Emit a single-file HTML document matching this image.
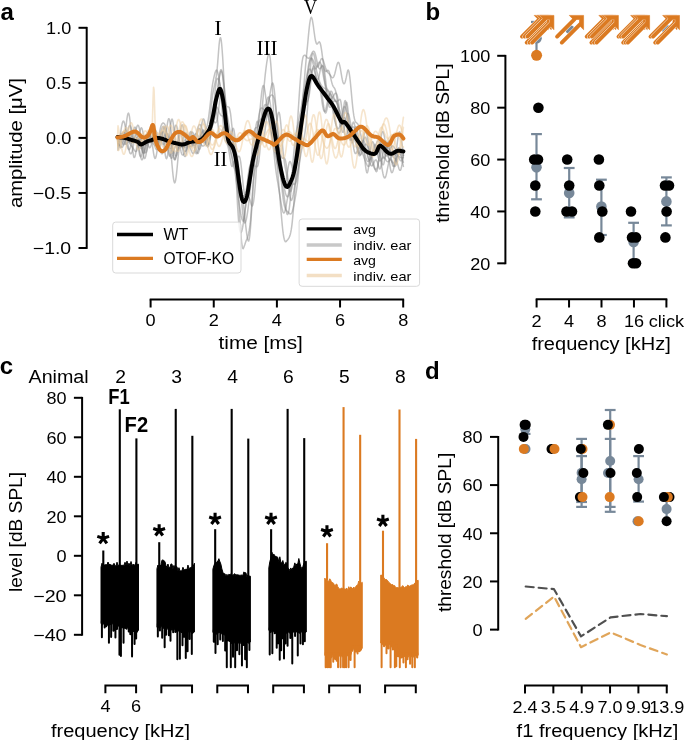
<!DOCTYPE html>
<html><head><meta charset="utf-8"><style>html,body{margin:0;padding:0;background:#fff;overflow:hidden;width:685px;height:740px;} svg{display:block;will-change:transform;filter:blur(0.35px);}</style></head>
<body><svg width="685" height="740" viewBox="0 0 685 740">
<rect width="685" height="740" fill="#fff"/>
<text x="0.5" y="20.0" font-size="24" font-family="'Liberation Sans', sans-serif" font-weight="bold" text-anchor="start" fill="#000">a</text>
<line x1="86.70" y1="26.90" x2="86.70" y2="248.90" stroke="#000" stroke-width="2.0"/>
<line x1="78.50" y1="27.80" x2="86.70" y2="27.80" stroke="#000" stroke-width="2.0"/>
<text x="71.2" y="34.0" font-size="16.5" font-family="'Liberation Sans', sans-serif" font-weight="normal" text-anchor="end" fill="#000" textLength="25.1" lengthAdjust="spacingAndGlyphs">1.0</text>
<line x1="78.50" y1="82.85" x2="86.70" y2="82.85" stroke="#000" stroke-width="2.0"/>
<text x="71.2" y="89.1" font-size="16.5" font-family="'Liberation Sans', sans-serif" font-weight="normal" text-anchor="end" fill="#000" textLength="25.1" lengthAdjust="spacingAndGlyphs">0.5</text>
<line x1="78.50" y1="137.90" x2="86.70" y2="137.90" stroke="#000" stroke-width="2.0"/>
<text x="71.2" y="144.1" font-size="16.5" font-family="'Liberation Sans', sans-serif" font-weight="normal" text-anchor="end" fill="#000" textLength="25.1" lengthAdjust="spacingAndGlyphs">0.0</text>
<line x1="78.50" y1="192.95" x2="86.70" y2="192.95" stroke="#000" stroke-width="2.0"/>
<text x="71.2" y="199.1" font-size="16.5" font-family="'Liberation Sans', sans-serif" font-weight="normal" text-anchor="end" fill="#000" textLength="38.4" lengthAdjust="spacingAndGlyphs">−0.5</text>
<line x1="78.50" y1="248.00" x2="86.70" y2="248.00" stroke="#000" stroke-width="2.0"/>
<text x="71.2" y="254.2" font-size="16.5" font-family="'Liberation Sans', sans-serif" font-weight="normal" text-anchor="end" fill="#000" textLength="38.4" lengthAdjust="spacingAndGlyphs">−1.0</text>
<text x="22.5" y="143.1" font-size="18.0" font-family="'Liberation Sans', sans-serif" font-weight="normal" text-anchor="middle" fill="#000" textLength="130.0" lengthAdjust="spacingAndGlyphs" transform="rotate(-90 22.5 143.1)">amplitude [μV]</text>
<line x1="149.70" y1="299.40" x2="404.10" y2="299.40" stroke="#000" stroke-width="2.0"/>
<line x1="150.60" y1="299.40" x2="150.60" y2="307.50" stroke="#000" stroke-width="2.0"/>
<text x="150.6" y="326.3" font-size="16.5" font-family="'Liberation Sans', sans-serif" font-weight="normal" text-anchor="middle" fill="#000" textLength="10.1" lengthAdjust="spacingAndGlyphs">0</text>
<line x1="213.75" y1="299.40" x2="213.75" y2="307.50" stroke="#000" stroke-width="2.0"/>
<text x="213.8" y="326.3" font-size="16.5" font-family="'Liberation Sans', sans-serif" font-weight="normal" text-anchor="middle" fill="#000" textLength="10.1" lengthAdjust="spacingAndGlyphs">2</text>
<line x1="276.90" y1="299.40" x2="276.90" y2="307.50" stroke="#000" stroke-width="2.0"/>
<text x="276.9" y="326.3" font-size="16.5" font-family="'Liberation Sans', sans-serif" font-weight="normal" text-anchor="middle" fill="#000" textLength="10.1" lengthAdjust="spacingAndGlyphs">4</text>
<line x1="340.05" y1="299.40" x2="340.05" y2="307.50" stroke="#000" stroke-width="2.0"/>
<text x="340.0" y="326.3" font-size="16.5" font-family="'Liberation Sans', sans-serif" font-weight="normal" text-anchor="middle" fill="#000" textLength="10.1" lengthAdjust="spacingAndGlyphs">6</text>
<line x1="403.20" y1="299.40" x2="403.20" y2="307.50" stroke="#000" stroke-width="2.0"/>
<text x="403.2" y="326.3" font-size="16.5" font-family="'Liberation Sans', sans-serif" font-weight="normal" text-anchor="middle" fill="#000" textLength="10.1" lengthAdjust="spacingAndGlyphs">8</text>
<text x="260.7" y="349.0" font-size="18.0" font-family="'Liberation Sans', sans-serif" font-weight="normal" text-anchor="middle" fill="#000" textLength="84.4" lengthAdjust="spacingAndGlyphs">time [ms]</text>
<g>
<polyline points="117.50,137.50 118.00,144.72 118.50,145.58 119.00,145.82 119.50,145.45 120.00,144.57 120.50,143.30 121.00,141.79 121.51,140.21 122.01,138.70 122.51,137.36 123.01,136.27 123.51,135.44 124.01,134.86 124.51,134.49 125.01,134.26 125.51,134.15 126.01,134.08 126.51,134.07 127.01,134.11 127.51,134.23 128.01,134.47 128.52,134.86 129.02,135.44 129.52,136.22 130.02,137.17 130.52,138.23 131.02,139.35 131.52,140.40 132.02,141.29 132.52,141.91 133.02,142.20 133.52,142.12 134.02,141.70 134.52,141.00 135.02,140.12 135.53,139.22 136.03,138.46 136.53,137.96 137.03,137.86 137.53,138.23 138.03,139.06 138.53,140.41 139.03,142.17 139.53,144.28 140.03,146.35 140.53,147.80 141.03,148.63 141.53,148.78 142.03,148.36 142.54,147.38 143.04,145.98 143.54,144.34 144.04,142.66 144.54,141.16 145.04,140.04 145.54,139.44 146.04,139.43 146.54,140.05 147.04,141.17 147.54,142.67 148.04,144.30 148.54,145.83 149.04,147.02 149.54,147.68 150.05,147.68 150.55,146.97 151.05,145.61 151.55,143.72 152.05,141.50 152.55,139.18 153.05,137.02 153.55,135.26 154.05,134.08 154.55,133.58 155.05,133.79 155.55,134.64 156.05,135.93 156.55,137.50 157.06,139.04 157.56,140.37 158.06,141.22 158.56,141.49 159.06,141.10 159.56,140.12 160.06,138.66 160.56,136.92 161.06,135.12 161.56,133.50 162.06,132.26 162.56,131.55 163.06,131.46 163.56,131.97 164.07,133.00 164.57,134.39 165.07,135.95 165.57,137.45 166.07,138.72 166.57,139.61 167.07,140.06 167.57,140.09 168.07,139.84 168.57,139.46 169.07,139.18 169.57,139.22 170.07,139.78 170.57,140.97 171.07,142.84 171.58,145.32 172.08,148.24 172.58,151.37 173.08,154.38 173.58,156.94 174.08,158.75 174.58,159.54 175.08,159.16 175.58,157.59 176.08,154.90 176.58,151.31 177.08,147.13 177.58,142.74 178.08,138.53 178.59,134.88 179.09,132.13 179.59,130.45 180.09,129.98 180.59,130.66 181.09,132.34 181.59,134.79 182.09,137.65 182.59,140.62 183.09,143.37 183.59,145.59 184.09,147.16 184.59,147.93 185.09,147.96 185.60,147.35 186.10,146.24 186.60,144.88 187.10,143.45 187.60,142.15 188.10,141.12 188.60,140.43 189.10,140.08 189.60,140.03 190.10,140.14 190.60,140.32 191.10,140.42 191.60,140.36 192.10,140.09 192.61,139.62 193.11,139.05 193.61,138.48 194.11,138.05 194.61,137.92 195.11,138.20 195.61,138.96 196.11,140.20 196.61,141.83 197.11,143.71 197.61,145.64 198.11,147.40 198.61,148.73 199.11,149.44 199.61,149.39 200.12,148.56 200.62,147.05 201.12,144.94 201.62,142.42 202.12,139.75 202.62,137.18 203.12,135.00 203.62,133.39 204.12,132.47 204.62,132.28 205.12,132.70 205.62,133.54 206.12,134.51 206.62,135.32 207.13,135.66 207.63,135.34 208.13,134.19 208.63,132.05 209.13,128.85 209.63,124.65 210.13,119.64 210.63,114.17 211.13,108.62 211.63,103.39 212.13,98.78 212.63,94.97 213.13,91.96 213.63,89.37 214.14,86.94 214.64,84.62 215.14,82.34 215.64,79.97 216.14,77.24 216.64,73.69 217.14,69.03 217.64,63.40 218.14,57.04 218.64,50.35 219.14,44.22 219.64,40.17 220.14,37.90 220.64,37.76 221.15,39.87 221.65,44.07 222.15,49.99 222.65,57.03 223.15,65.36 223.65,74.90 224.15,85.09 224.65,95.03 225.15,104.76 225.65,114.44 226.15,123.09 226.65,129.97 227.15,136.54 227.65,141.67 228.15,144.37 228.66,145.89 229.16,146.99 229.66,148.03 230.16,149.58 230.66,151.60 231.16,154.01 231.66,156.62 232.16,159.25 232.66,161.83 233.16,164.10 233.66,166.03 234.16,167.48 234.66,168.65 235.16,169.79 235.67,171.14 236.17,173.02 236.67,175.95 237.17,180.19 237.67,185.67 238.17,192.19 238.67,199.43 239.17,207.03 239.67,215.02 240.17,223.17 240.67,230.90 241.17,237.47 241.67,242.57 242.17,246.18 242.68,248.27 243.18,248.75 243.68,247.77 244.18,246.23 244.68,244.98 245.18,243.46 245.68,241.96 246.18,240.64 246.68,239.53 247.18,238.47 247.68,237.13 248.18,235.37 248.68,233.16 249.18,230.48 249.68,227.29 250.19,223.46 250.69,218.54 251.19,212.33 251.69,205.15 252.19,197.40 252.69,189.49 253.19,181.76 253.69,174.50 254.19,167.93 254.69,162.22 255.19,157.38 255.69,153.44 256.19,150.32 256.69,147.79 257.20,145.67 257.70,143.71 258.20,141.70 258.70,139.41 259.20,136.65 259.70,133.30 260.20,129.31 260.70,124.72 261.20,119.59 261.70,114.13 262.20,108.38 262.70,102.49 263.20,96.50 263.70,90.61 264.21,84.97 264.71,79.71 265.21,74.92 265.71,70.59 266.21,66.63 266.71,63.00 267.21,59.80 267.71,57.13 268.21,55.17 268.71,54.02 269.21,54.05 269.71,55.63 270.21,58.70 270.71,63.44 271.22,69.70 271.72,77.26 272.22,85.81 272.72,95.17 273.22,104.79 273.72,114.29 274.22,123.50 274.72,132.11 275.22,140.02 275.72,147.10 276.22,153.59 276.72,159.66 277.22,165.62 277.72,171.50 278.22,177.39 278.73,183.40 279.23,189.47 279.73,195.49 280.23,201.58 280.73,207.69 281.23,213.69 281.73,219.47 282.23,224.87 282.73,229.71 283.23,233.70 283.73,236.86 284.23,239.19 284.73,240.72 285.23,241.55 285.74,241.74 286.24,241.43 286.74,240.81 287.24,240.21 287.74,239.67 288.24,239.01 288.74,238.25 289.24,237.33 289.74,236.12 290.24,234.50 290.74,232.41 291.24,229.71 291.74,226.31 292.24,222.09 292.75,217.02 293.25,211.13 293.75,204.54 294.25,197.47 294.75,190.16 295.25,182.85 295.75,175.77 296.25,169.11 296.75,163.00 297.25,157.35 297.75,152.00 298.25,146.83 298.75,141.73 299.25,136.64 299.75,131.49 300.26,126.23 300.76,120.87 301.26,115.36 301.76,109.67 302.26,103.90 302.76,98.17 303.26,92.54 303.76,86.84 304.26,80.99 304.76,75.10 305.26,69.30 305.76,63.63 306.26,58.24 306.76,53.18 307.27,48.08 307.77,42.82 308.27,37.32 308.77,32.08 309.27,27.30 309.77,23.16 310.27,20.08 310.77,18.18 311.27,17.25 311.77,17.98 312.27,19.46 312.77,22.26 313.27,25.46 313.77,29.26 314.28,32.98 314.78,36.51 315.28,39.51 315.78,41.79 316.28,43.27 316.78,44.00 317.28,43.92 317.78,43.44 318.28,42.72 318.78,42.08 319.28,41.87 319.78,42.29 320.28,43.49 320.78,45.50 321.29,48.27 321.79,51.64 322.29,55.37 322.79,59.18 323.29,62.78 323.79,65.94 324.29,68.44 324.79,70.19 325.29,71.19 325.79,71.52 326.29,71.36 326.79,70.93 327.29,70.47 327.79,70.23 328.29,70.36 328.80,71.02 329.30,72.24 329.80,73.94 330.30,76.02 330.80,78.29 331.30,80.54 331.80,82.61 332.30,84.31 332.80,85.66 333.30,86.57 333.80,87.30 334.30,87.94 334.80,88.69 335.30,89.92 335.81,91.72 336.31,94.26 336.81,97.63 337.31,101.73 337.81,106.38 338.31,111.29 338.81,116.14 339.31,120.46 339.81,123.93 340.31,126.27 340.81,127.08 341.31,126.54 341.81,124.39 342.31,121.03 342.82,116.53 343.32,111.27 343.82,106.39 344.32,102.76 344.82,100.84 345.32,100.56 345.82,101.90 346.32,104.70 346.82,108.67 347.32,113.37 347.82,118.37 348.32,123.12 348.82,127.17 349.32,130.16 349.83,131.87 350.33,132.25 350.83,131.42 351.33,129.67 351.83,127.40 352.33,125.08 352.83,123.18 353.33,122.13 353.83,122.24 354.33,123.64 354.83,126.31 355.33,130.06 355.83,134.55 356.33,139.35 356.83,143.98 357.34,148.00 357.84,151.04 358.34,152.89 358.84,153.48 359.34,152.88 359.84,151.40 360.34,149.37 360.84,147.22 361.34,145.41 361.84,144.34 362.34,144.30 362.84,145.53 363.34,147.90 363.84,151.38 364.35,155.60 364.85,160.11 365.35,164.55 365.85,168.35 366.35,171.13 366.85,172.65 367.35,172.68 367.85,171.25 368.35,168.52 368.85,164.77 369.35,160.34 369.85,155.72 370.35,151.33 370.85,147.47 371.36,144.50 371.86,142.58 372.36,141.70 372.86,141.78 373.36,142.70 373.86,144.17 374.36,145.87 374.86,147.68 375.36,149.10 375.86,150.18 376.36,150.64 376.86,150.63 377.36,150.10 377.86,149.55 378.36,149.21 378.87,149.59 379.37,150.73 379.87,152.51 380.37,154.94 380.87,157.56 381.37,160.14 381.87,162.44 382.37,164.03 382.87,164.87 383.37,164.69 383.87,163.47 384.37,161.32 384.87,158.40 385.37,154.98 385.88,151.40 386.38,148.03 386.88,145.13 387.38,143.12 387.88,142.07 388.38,142.20 388.88,143.49 389.38,145.78 389.88,148.83 390.38,152.33 390.88,155.94 391.38,159.38 391.88,162.37 392.38,164.63 392.89,166.07 393.39,166.62 393.89,166.34 394.39,165.35 394.89,163.83 395.39,161.96 395.89,159.94 396.39,157.93 396.89,156.08 397.39,154.45 397.89,153.12 398.39,152.05 398.89,151.20 399.39,150.53 399.90,149.97 400.40,149.53 400.90,149.18 401.40,148.96 401.90,148.89 402.40,149.03 402.90,149.39 403.40,150.00" fill="none" stroke="#888888" stroke-width="1.5" stroke-opacity="0.5" stroke-linejoin="round" stroke-linecap="round"/>
<polyline points="117.50,137.50 118.00,139.29 118.50,142.31 119.00,144.84 119.50,146.70 120.00,147.72 120.50,147.83 121.00,147.06 121.51,145.49 122.01,143.31 122.51,140.72 123.01,138.00 123.51,135.40 124.01,133.15 124.51,131.46 125.01,130.44 125.51,130.17 126.01,130.61 126.51,131.68 127.01,133.24 127.51,135.13 128.01,137.15 128.52,139.14 129.02,140.97 129.52,142.54 130.02,143.81 130.52,144.80 131.02,145.58 131.52,146.23 132.02,146.82 132.52,147.46 133.02,148.16 133.52,148.94 134.02,149.74 134.52,150.46 135.02,151.07 135.53,151.44 136.03,151.53 136.53,151.03 137.03,149.53 137.53,147.19 138.03,144.17 138.53,140.81 139.03,137.32 139.53,134.03 140.03,131.20 140.53,129.11 141.03,127.94 141.53,127.79 142.03,128.65 142.54,130.41 143.04,132.88 143.54,135.75 144.04,138.71 144.54,141.41 145.04,143.54 145.54,144.88 146.04,145.30 146.54,144.79 147.04,143.47 147.54,141.54 148.04,139.29 148.54,137.09 149.04,135.22 149.54,134.02 150.05,133.72 150.55,134.43 151.05,136.16 151.55,138.81 152.05,142.16 152.55,145.87 153.05,149.65 153.55,153.07 154.05,155.87 154.55,157.71 155.05,158.48 155.55,158.07 156.05,156.56 156.55,154.08 157.06,150.85 157.56,147.13 158.06,143.19 158.56,139.29 159.06,135.63 159.56,132.39 160.06,129.65 160.56,127.45 161.06,125.78 161.56,124.57 162.06,123.75 162.56,123.25 163.06,123.02 163.56,123.06 164.07,123.38 164.57,124.05 165.07,125.14 165.57,126.71 166.07,128.82 166.57,131.47 167.07,134.62 167.57,138.16 168.07,141.95 168.57,145.77 169.07,149.43 169.57,152.67 170.07,155.32 170.57,157.19 171.07,158.21 171.58,158.34 172.08,157.67 172.58,156.29 173.08,154.42 173.58,152.28 174.08,150.09 174.58,148.07 175.08,146.41 175.58,145.23 176.08,144.59 176.58,144.50 177.08,144.85 177.58,145.51 178.08,146.35 178.59,147.14 179.09,147.74 179.59,148.03 180.09,147.83 180.59,147.19 181.09,146.05 181.59,144.52 182.09,142.70 182.59,140.71 183.09,138.73 183.59,136.87 184.09,135.28 184.59,134.07 185.09,133.27 185.60,132.93 186.10,133.03 186.60,133.52 187.10,134.35 187.60,135.40 188.10,136.60 188.60,137.87 189.10,139.13 189.60,140.33 190.10,141.41 190.60,142.38 191.10,143.20 191.60,143.87 192.10,144.40 192.61,144.79 193.11,145.05 193.61,145.18 194.11,145.19 194.61,145.08 195.11,144.84 195.61,144.46 196.11,143.94 196.61,143.30 197.11,142.59 197.61,141.79 198.11,140.89 198.61,139.91 199.11,138.84 199.61,137.74 200.12,136.62 200.62,135.52 201.12,134.48 201.62,133.54 202.12,132.71 202.62,132.00 203.12,131.42 203.62,130.97 204.12,130.65 204.62,130.44 205.12,130.19 205.62,129.73 206.12,128.90 206.62,127.58 207.13,125.72 207.63,123.33 208.13,120.44 208.63,117.12 209.13,113.44 209.63,109.46 210.13,105.08 210.63,100.35 211.13,95.61 211.63,91.16 212.13,87.25 212.63,83.97 213.13,81.13 213.63,78.57 214.14,76.31 214.64,74.32 215.14,72.58 215.64,71.12 216.14,70.25 216.64,70.10 217.14,70.71 217.64,72.04 218.14,73.97 218.64,76.31 219.14,78.97 219.64,82.57 220.14,86.99 220.64,92.13 221.15,97.57 221.65,103.54 222.15,110.29 222.65,117.02 223.15,123.01 223.65,129.23 224.15,134.54 224.65,137.84 225.15,139.95 225.65,141.33 226.15,142.22 226.65,143.15 227.15,144.23 227.65,145.60 228.15,147.35 228.66,149.55 229.16,152.29 229.66,155.41 230.16,158.74 230.66,161.87 231.16,164.46 231.66,166.16 232.16,166.58 232.66,165.69 233.16,163.97 233.66,162.20 234.16,161.25 234.66,162.04 235.16,165.19 235.67,170.80 236.17,178.74 236.67,188.30 237.17,198.26 237.67,207.45 238.17,215.25 238.67,221.59 239.17,226.47 239.67,229.87 240.17,231.88 240.67,232.70 241.17,232.51 241.67,231.45 242.17,229.63 242.68,227.17 243.18,224.21 243.68,220.83 244.18,217.07 244.68,213.18 245.18,209.45 245.68,206.10 246.18,203.30 246.68,200.95 247.18,198.61 247.68,195.90 248.18,192.76 248.68,189.12 249.18,184.92 249.68,180.12 250.19,174.71 250.69,168.76 251.19,162.44 251.69,155.97 252.19,149.66 252.69,143.84 253.19,138.71 253.69,134.54 254.19,131.42 254.69,129.36 255.19,128.24 255.69,127.80 256.19,127.73 256.69,127.66 257.20,127.25 257.70,126.18 258.20,124.29 258.70,121.41 259.20,117.56 259.70,112.84 260.20,107.56 260.70,102.12 261.20,96.93 261.70,92.43 262.20,88.93 262.70,86.60 263.20,85.54 263.70,85.78 264.21,87.26 264.71,89.79 265.21,93.11 265.71,96.79 266.21,100.62 266.71,104.55 267.21,108.48 267.71,112.24 268.21,115.69 268.71,118.81 269.21,121.76 269.71,124.50 270.21,127.09 270.71,129.76 271.22,132.57 271.72,135.64 272.22,138.97 272.72,142.66 273.22,146.73 273.72,151.17 274.22,155.79 274.72,160.40 275.22,164.89 275.72,169.07 276.22,172.82 276.72,176.25 277.22,179.42 277.72,182.42 278.22,185.37 278.73,188.36 279.23,191.45 279.73,194.55 280.23,197.72 280.73,200.90 281.23,203.99 281.73,206.85 282.23,209.31 282.73,211.22 283.23,212.48 283.73,213.02 284.23,212.78 284.73,211.77 285.23,210.11 285.74,207.91 286.24,205.31 286.74,202.48 287.24,199.69 287.74,197.10 288.24,194.70 288.74,192.51 289.24,190.49 289.74,188.59 290.24,186.75 290.74,184.90 291.24,182.97 291.74,180.87 292.24,178.54 292.75,175.90 293.25,172.89 293.75,169.37 294.25,165.20 294.75,160.30 295.25,154.68 295.75,148.40 296.25,141.54 296.75,134.21 297.25,126.55 297.75,118.67 298.25,110.66 298.75,102.74 299.25,95.10 299.75,87.91 300.26,81.16 300.76,74.89 301.26,69.30 301.76,64.56 302.26,60.77 302.76,58.09 303.26,56.50 303.76,55.66 304.26,55.30 304.76,55.17 305.26,55.39 305.76,55.84 306.26,56.36 306.76,57.03 307.27,57.67 307.77,57.98 308.27,58.40 308.77,58.25 309.27,58.10 309.77,57.42 310.27,56.65 310.77,55.58 311.27,54.47 311.77,53.39 312.27,52.41 312.77,51.68 313.27,51.31 313.77,51.24 314.28,51.70 314.78,52.64 315.28,54.02 315.78,55.85 316.28,57.99 316.78,60.29 317.28,62.60 317.78,64.72 318.28,66.51 318.78,67.84 319.28,68.63 319.78,68.88 320.28,68.63 320.78,68.02 321.29,67.21 321.79,66.42 322.29,65.90 322.79,65.86 323.29,66.49 323.79,67.92 324.29,70.22 324.79,73.33 325.29,77.17 325.79,81.56 326.29,86.25 326.79,90.98 327.29,95.46 327.79,99.43 328.29,102.71 328.80,105.12 329.30,106.67 329.80,107.32 330.30,107.29 330.80,106.67 331.30,105.63 331.80,104.49 332.30,103.34 332.80,102.34 333.30,101.63 333.80,101.21 334.30,101.05 334.80,101.09 335.30,101.25 335.81,101.40 336.31,101.45 336.81,101.43 337.31,101.15 337.81,100.88 338.31,100.41 338.81,100.05 339.31,99.65 339.81,99.29 340.31,99.73 340.81,101.48 341.31,104.58 341.81,108.62 342.31,113.30 342.82,118.27 343.32,123.19 343.82,127.68 344.32,131.48 344.82,134.29 345.32,135.98 345.82,136.50 346.32,135.92 346.82,134.45 347.32,132.37 347.82,130.01 348.32,127.74 348.82,125.92 349.32,124.85 349.83,124.74 350.33,125.71 350.83,127.71 351.33,130.61 351.83,134.18 352.33,138.11 352.83,142.09 353.33,145.78 353.83,148.93 354.33,151.32 354.83,152.88 355.33,153.61 355.83,153.57 356.33,152.96 356.83,151.93 357.34,150.69 357.84,149.47 358.34,148.44 358.84,147.74 359.34,147.51 359.84,147.63 360.34,148.21 360.84,149.13 361.34,150.24 361.84,151.59 362.34,152.96 362.84,154.35 363.34,155.75 363.84,157.09 364.35,158.39 364.85,159.70 365.35,160.99 365.85,162.21 366.35,163.42 366.85,164.55 367.35,165.44 367.85,166.10 368.35,166.43 368.85,166.31 369.35,165.67 369.85,164.59 370.35,163.01 370.85,161.00 371.36,158.80 371.86,156.25 372.36,153.74 372.86,151.17 373.36,148.83 373.86,146.67 374.36,145.15 374.86,144.38 375.36,144.76 375.86,146.10 376.36,148.12 376.86,150.71 377.36,153.36 377.86,155.83 378.36,157.97 378.87,159.49 379.37,160.52 379.87,160.92 380.37,160.79 380.87,160.30 381.37,159.55 381.87,158.73 382.37,157.99 382.87,157.47 383.37,157.15 383.87,157.22 384.37,157.51 384.87,158.12 385.37,158.92 385.88,159.80 386.38,160.62 386.88,161.27 387.38,161.64 387.88,161.73 388.38,161.54 388.88,161.00 389.38,160.25 389.88,159.29 390.38,158.27 390.88,157.26 391.38,156.35 391.88,155.57 392.38,154.97 392.89,154.54 393.39,154.27 393.89,154.12 394.39,154.05 394.89,153.99 395.39,153.88 395.89,153.68 396.39,153.37 396.89,153.01 397.39,152.61 397.89,152.29 398.39,152.10 398.89,152.14 399.39,152.50 399.90,153.22 400.40,154.23 400.90,155.66 401.40,157.48 401.90,159.59 402.40,161.89 402.90,164.20 403.40,166.37" fill="none" stroke="#888888" stroke-width="1.5" stroke-opacity="0.5" stroke-linejoin="round" stroke-linecap="round"/>
<polyline points="117.50,137.50 118.00,143.05 118.50,142.78 119.00,142.12 119.50,141.16 120.00,139.90 120.50,138.45 121.00,136.92 121.51,135.43 122.01,134.10 122.51,133.03 123.01,132.32 123.51,132.01 124.01,132.12 124.51,132.64 125.01,133.49 125.51,134.62 126.01,135.93 126.51,137.30 127.01,138.65 127.51,139.87 128.01,140.91 128.52,141.72 129.02,142.29 129.52,142.61 130.02,142.73 130.52,142.67 131.02,142.50 131.52,142.28 132.02,142.03 132.52,141.79 133.02,141.59 133.52,141.40 134.02,141.21 134.52,140.98 135.02,140.67 135.53,140.24 136.03,139.69 136.53,139.00 137.03,138.20 137.53,137.36 138.03,136.54 138.53,135.84 139.03,135.36 139.53,135.20 140.03,135.54 140.53,136.46 141.03,138.06 141.53,140.12 142.03,142.19 142.54,144.30 143.04,146.38 143.54,148.41 144.04,150.18 144.54,151.60 145.04,152.50 145.54,152.81 146.04,152.47 146.54,151.48 147.04,149.91 147.54,147.83 148.04,145.43 148.54,142.84 149.04,140.28 149.54,137.87 150.05,135.80 150.55,134.18 151.05,133.09 151.55,132.56 152.05,132.58 152.55,133.10 153.05,134.02 153.55,135.24 154.05,136.60 154.55,138.00 155.05,139.33 155.55,140.50 156.05,141.47 156.55,142.21 157.06,142.71 157.56,142.97 158.06,143.06 158.56,142.96 159.06,142.76 159.56,142.42 160.06,142.01 160.56,141.50 161.06,140.93 161.56,140.28 162.06,139.56 162.56,138.77 163.06,137.93 163.56,137.07 164.07,136.22 164.57,135.43 165.07,134.79 165.57,134.35 166.07,134.18 166.57,134.32 167.07,134.78 167.57,135.57 168.07,136.63 168.57,137.92 169.07,139.35 169.57,140.83 170.07,142.25 170.57,143.52 171.07,144.54 171.58,145.27 172.08,145.64 172.58,145.67 173.08,145.38 173.58,144.85 174.08,144.16 174.58,143.42 175.08,142.74 175.58,142.22 176.08,141.92 176.58,141.91 177.08,142.19 177.58,142.73 178.08,143.46 178.59,144.31 179.09,145.16 179.59,145.89 180.09,146.41 180.59,146.65 181.09,146.55 181.59,146.11 182.09,145.37 182.59,144.40 183.09,143.32 183.59,142.20 184.09,141.21 184.59,140.45 185.09,139.97 185.60,139.88 186.10,140.14 186.60,140.77 187.10,141.67 187.60,142.75 188.10,143.90 188.60,144.96 189.10,145.84 189.60,146.42 190.10,146.64 190.60,146.47 191.10,145.93 191.60,145.05 192.10,143.96 192.61,142.73 193.11,141.51 193.61,140.40 194.11,139.51 194.61,138.92 195.11,138.67 195.61,138.77 196.11,139.17 196.61,139.80 197.11,140.58 197.61,141.38 198.11,142.10 198.61,142.64 199.11,142.93 199.61,142.92 200.12,142.62 200.62,142.04 201.12,141.21 201.62,140.24 202.12,139.23 202.62,138.25 203.12,137.36 203.62,136.59 204.12,135.97 204.62,135.49 205.12,135.15 205.62,134.91 206.12,134.72 206.62,134.53 207.13,134.27 207.63,133.89 208.13,133.36 208.63,132.68 209.13,131.90 209.63,131.04 210.13,130.07 210.63,128.93 211.13,127.55 211.63,125.92 212.13,124.07 212.63,122.04 213.13,119.86 213.63,117.55 214.14,115.10 214.64,112.42 215.14,109.29 215.64,105.64 216.14,101.66 216.64,97.59 217.14,93.60 217.64,89.78 218.14,86.02 218.64,82.25 219.14,78.78 219.64,75.93 220.14,73.54 220.64,71.76 221.15,70.93 221.65,71.25 222.15,72.70 222.65,75.18 223.15,78.45 223.65,82.23 224.15,86.16 224.65,90.50 225.15,95.37 225.65,100.63 226.15,105.88 226.65,111.36 227.15,117.31 227.65,123.13 228.15,128.31 228.66,133.76 229.16,138.55 229.66,141.80 230.16,144.18 230.66,146.00 231.16,147.37 231.66,148.56 232.16,149.53 232.66,150.27 233.16,150.77 233.66,151.06 234.16,151.29 234.66,151.46 235.16,151.72 235.67,152.09 236.17,152.78 236.67,153.96 237.17,155.74 237.67,158.25 238.17,161.72 238.67,166.17 239.17,171.42 239.67,177.25 240.17,183.36 240.67,189.49 241.17,195.69 241.67,201.86 242.17,207.66 242.68,212.68 243.18,216.74 243.68,219.88 244.18,222.01 244.68,222.96 245.18,222.83 245.68,221.78 246.18,219.98 246.68,217.58 247.18,214.69 247.68,211.39 248.18,207.76 248.68,203.74 249.18,199.29 249.68,194.47 250.19,189.46 250.69,184.37 251.19,179.30 251.69,174.21 252.19,168.83 252.69,163.01 253.19,156.86 253.69,150.56 254.19,144.31 254.69,138.34 255.19,132.89 255.69,128.26 256.19,124.69 256.69,122.34 257.20,121.29 257.70,121.48 258.20,122.64 258.70,124.47 259.20,126.56 259.70,128.53 260.20,130.03 260.70,130.81 261.20,130.73 261.70,129.76 262.20,128.01 262.70,125.61 263.20,122.80 263.70,119.77 264.21,116.72 264.71,113.82 265.21,111.25 265.71,109.17 266.21,107.67 266.71,106.83 267.21,106.60 267.71,106.88 268.21,107.56 268.71,108.55 269.21,109.62 269.71,110.63 270.21,111.64 270.71,112.51 271.22,113.26 271.72,114.05 272.22,114.95 272.72,116.00 273.22,117.21 273.72,118.62 274.22,120.33 274.72,122.29 275.22,124.52 275.72,127.08 276.22,129.93 276.72,133.06 277.22,136.42 277.72,140.04 278.22,143.90 278.73,148.01 279.23,152.24 279.73,156.49 280.23,160.69 280.73,164.73 281.23,168.52 281.73,172.11 282.23,175.52 282.73,178.76 283.23,181.84 283.73,184.77 284.23,187.52 284.73,189.98 285.23,192.15 285.74,193.97 286.24,195.41 286.74,196.41 287.24,196.84 287.74,196.69 288.24,196.06 288.74,195.00 289.24,193.57 289.74,191.88 290.24,190.11 290.74,188.38 291.24,186.82 291.74,185.53 292.24,184.62 292.75,184.12 293.25,183.96 293.75,184.02 294.25,184.13 294.75,184.11 295.25,183.79 295.75,183.00 296.25,181.64 296.75,179.62 297.25,176.91 297.75,173.52 298.25,169.53 298.75,164.95 299.25,159.81 299.75,154.21 300.26,148.29 300.76,142.22 301.26,136.14 301.76,130.17 302.26,124.40 302.76,118.82 303.26,113.40 303.76,108.17 304.26,103.11 304.76,98.21 305.26,93.28 305.76,88.27 306.26,83.28 306.76,78.45 307.27,73.93 307.77,69.95 308.27,66.65 308.77,63.88 309.27,61.59 309.77,59.71 310.27,58.52 310.77,57.99 311.27,58.25 311.77,59.34 312.27,60.90 312.77,62.51 313.27,64.47 313.77,66.02 314.28,67.51 314.78,68.36 315.28,68.85 315.78,68.72 316.28,68.16 316.78,67.21 317.28,66.01 317.78,64.75 318.28,63.62 318.78,62.65 319.28,62.14 319.78,62.12 320.28,62.67 320.78,63.83 321.29,65.54 321.79,67.72 322.29,70.25 322.79,72.96 323.29,75.72 323.79,78.39 324.29,80.85 324.79,83.02 325.29,84.85 325.79,86.33 326.29,87.51 326.79,88.42 327.29,89.16 327.79,89.79 328.29,90.38 328.80,91.00 329.30,91.69 329.80,92.45 330.30,93.30 330.80,94.21 331.30,95.15 331.80,96.08 332.30,96.96 332.80,97.75 333.30,98.45 333.80,99.03 334.30,99.57 334.80,100.02 335.30,100.53 335.81,101.09 336.31,101.74 336.81,102.60 337.31,103.60 337.81,104.78 338.31,106.14 338.81,107.65 339.31,109.24 339.81,110.89 340.31,112.54 340.81,114.13 341.31,115.62 341.81,117.04 342.31,118.22 342.82,119.36 343.32,120.21 343.82,120.92 344.32,121.28 344.82,121.28 345.32,121.40 345.82,121.95 346.32,122.96 346.82,124.16 347.32,125.42 347.82,126.61 348.32,127.65 348.82,128.44 349.32,128.97 349.83,129.17 350.33,129.09 350.83,128.77 351.33,128.28 351.83,127.74 352.33,127.26 352.83,126.96 353.33,126.96 353.83,127.34 354.33,128.16 354.83,129.43 355.33,131.13 355.83,133.14 356.33,135.37 356.83,137.65 357.34,139.81 357.84,141.72 358.34,143.23 358.84,144.25 359.34,144.73 359.84,144.70 360.34,144.26 360.84,143.49 361.34,142.58 361.84,141.65 362.34,140.88 362.84,140.44 363.34,140.42 363.84,140.92 364.35,142.00 364.85,143.55 365.35,145.57 365.85,147.91 366.35,150.37 366.85,152.87 367.35,155.16 367.85,157.12 368.35,158.67 368.85,159.66 369.35,160.10 369.85,160.01 370.35,159.43 370.85,158.44 371.36,157.18 371.86,155.80 372.36,154.35 372.86,153.00 373.36,151.85 373.86,150.90 374.36,150.18 374.86,149.73 375.36,149.46 375.86,149.32 376.36,149.31 376.86,149.16 377.36,148.97 377.86,148.50 378.36,147.85 378.87,146.89 379.37,145.94 379.87,145.10 380.37,144.73 380.87,144.82 381.37,145.31 381.87,146.30 382.37,147.53 382.87,148.95 383.37,150.49 383.87,151.95 384.37,153.36 384.87,154.53 385.37,155.39 385.88,155.92 386.38,156.06 386.88,155.81 387.38,155.21 387.88,154.32 388.38,153.15 388.88,151.88 389.38,150.51 389.88,149.23 390.38,148.10 390.88,147.19 391.38,146.52 391.88,146.11 392.38,145.94 392.89,146.03 393.39,146.38 393.89,146.88 394.39,147.56 394.89,148.36 395.39,149.27 395.89,150.29 396.39,151.41 396.89,152.60 397.39,153.86 397.89,155.16 398.39,156.47 398.89,157.73 399.39,158.90 399.90,159.87 400.40,160.55 400.90,160.86 401.40,160.72 401.90,160.10 402.40,158.95 402.90,157.33 403.40,155.28" fill="none" stroke="#888888" stroke-width="1.5" stroke-opacity="0.5" stroke-linejoin="round" stroke-linecap="round"/>
<polyline points="117.50,137.50 118.00,150.10 118.50,147.85 119.00,144.89 119.50,141.41 120.00,137.64 120.50,133.81 121.00,130.16 121.51,126.90 122.01,124.28 122.51,122.37 123.01,121.29 123.51,121.07 124.01,121.70 124.51,123.14 125.01,125.29 125.51,128.01 126.01,131.17 126.51,134.59 127.01,138.10 127.51,141.54 128.01,144.77 128.52,147.64 129.02,150.05 129.52,151.91 130.02,153.16 130.52,153.76 131.02,153.71 131.52,153.01 132.02,151.71 132.52,149.84 133.02,147.51 133.52,144.78 134.02,141.80 134.52,138.68 135.02,135.58 135.53,132.65 136.03,130.02 136.53,127.84 137.03,126.25 137.53,125.33 138.03,125.16 138.53,125.78 139.03,127.19 139.53,129.32 140.03,132.09 140.53,135.37 141.03,138.97 141.53,142.74 142.03,146.43 142.54,149.95 143.04,153.12 143.54,155.86 144.04,157.83 144.54,158.56 145.04,158.19 145.54,156.80 146.04,154.62 146.54,151.77 147.04,148.47 147.54,144.93 148.04,141.40 148.54,138.08 149.04,135.18 149.54,132.88 150.05,131.28 150.55,130.50 151.05,130.50 151.55,131.29 152.05,132.74 152.55,134.73 153.05,137.10 153.55,139.65 154.05,142.20 154.55,144.58 155.05,146.62 155.55,148.18 156.05,149.18 156.55,149.53 157.06,149.22 157.56,148.28 158.06,146.76 158.56,144.75 159.06,142.38 159.56,139.77 160.06,137.05 160.56,134.40 161.06,131.92 161.56,129.79 162.06,128.08 162.56,126.92 163.06,126.38 163.56,126.52 164.07,127.37 164.57,128.92 165.07,131.11 165.57,133.88 166.07,137.07 166.57,140.53 167.07,144.07 167.57,147.51 168.07,150.62 168.57,153.20 169.07,155.09 169.57,156.12 170.07,156.20 170.57,155.30 171.07,153.45 171.58,150.73 172.08,147.35 172.58,143.50 173.08,139.47 173.58,135.51 174.08,131.90 174.58,128.87 175.08,126.65 175.58,125.36 176.08,125.09 176.58,125.82 177.08,127.49 177.58,129.95 178.08,133.02 178.59,136.47 179.09,140.08 179.59,143.61 180.09,146.86 180.59,149.66 181.09,151.92 181.59,153.56 182.09,154.57 182.59,155.00 183.09,154.94 183.59,154.45 184.09,153.68 184.59,152.70 185.09,151.59 185.60,150.43 186.10,149.19 186.60,147.93 187.10,146.60 187.60,145.14 188.10,143.60 188.60,141.90 189.10,140.10 189.60,138.25 190.10,136.42 190.60,134.74 191.10,133.33 191.60,132.34 192.10,131.90 192.61,132.10 193.11,133.01 193.61,134.61 194.11,136.84 194.61,139.58 195.11,142.59 195.61,145.68 196.11,148.55 196.61,150.96 197.11,152.69 197.61,153.54 198.11,153.43 198.61,152.32 199.11,150.29 199.61,147.51 200.12,144.21 200.62,140.67 201.12,137.23 201.62,134.19 202.12,131.82 202.62,130.34 203.12,129.85 203.62,130.36 204.12,131.83 204.62,134.08 205.12,136.84 205.62,139.79 206.12,142.56 206.62,144.84 207.13,146.35 207.63,146.91 208.13,146.43 208.63,144.93 209.13,142.53 209.63,139.42 210.13,135.88 210.63,132.21 211.13,128.74 211.63,125.78 212.13,123.55 212.63,122.12 213.13,121.43 213.63,121.34 214.14,121.64 214.64,122.12 215.14,122.57 215.64,122.75 216.14,122.45 216.64,121.50 217.14,119.75 217.64,117.05 218.14,113.44 218.64,109.27 219.14,104.91 219.64,100.78 220.14,97.17 220.64,94.16 221.15,91.85 221.65,90.41 222.15,89.87 222.65,90.20 223.15,91.30 223.65,93.15 224.15,95.63 224.65,98.42 225.15,101.21 225.65,103.66 226.15,105.45 226.65,106.35 227.15,106.69 227.65,106.81 228.15,106.87 228.66,106.92 229.16,107.49 229.66,109.08 230.16,111.49 230.66,114.48 231.16,118.84 231.66,123.79 232.16,128.51 232.66,133.30 233.16,138.13 233.66,142.76 234.16,147.14 234.66,150.95 235.16,153.98 235.67,156.12 236.17,157.33 236.67,157.80 237.17,157.64 237.67,157.14 238.17,156.52 238.67,156.14 239.17,156.30 239.67,157.21 240.17,159.02 240.67,161.89 241.17,165.77 241.67,170.37 242.17,175.33 242.68,180.24 243.18,184.74 243.68,188.74 244.18,192.31 244.68,195.38 245.18,197.41 245.68,198.45 246.18,198.76 246.68,198.57 247.18,198.03 247.68,197.41 248.18,197.01 248.68,197.08 249.18,197.74 249.68,199.00 250.19,200.71 250.69,202.65 251.19,204.44 251.69,205.63 252.19,205.96 252.69,205.29 253.19,203.56 253.69,200.77 254.19,196.94 254.69,191.93 255.19,185.83 255.69,179.03 256.19,171.99 256.69,165.13 257.20,158.82 257.70,153.32 258.20,148.81 258.70,145.41 259.20,143.07 259.70,141.71 260.20,141.16 260.70,141.15 261.20,141.43 261.70,141.72 262.20,141.77 262.70,141.36 263.20,140.31 263.70,138.53 264.21,136.00 264.71,132.79 265.21,129.00 265.71,124.84 266.21,120.46 266.71,116.02 267.21,111.68 267.71,107.61 268.21,103.97 268.71,100.86 269.21,98.55 269.71,97.11 270.21,96.13 270.71,95.49 271.22,95.13 271.72,95.01 272.22,95.14 272.72,95.52 273.22,96.09 273.72,97.02 274.22,98.58 274.72,100.93 275.22,104.09 275.72,108.03 276.22,112.64 276.72,117.89 277.22,123.49 277.72,129.21 278.22,134.87 278.73,140.21 279.23,145.02 279.73,149.08 280.23,152.37 280.73,154.85 281.23,156.60 281.73,157.65 282.23,158.11 282.73,158.17 283.23,158.00 283.73,157.79 284.23,157.87 284.73,158.47 285.23,159.74 285.74,161.77 286.24,164.59 286.74,168.08 287.24,172.38 287.74,177.40 288.24,182.49 288.74,187.36 289.24,191.74 289.74,195.37 290.24,198.08 290.74,199.78 291.24,200.44 291.74,200.09 292.24,198.84 292.75,196.88 293.25,194.40 293.75,191.59 294.25,188.65 294.75,185.76 295.25,183.01 295.75,180.46 296.25,178.07 296.75,175.77 297.25,173.47 297.75,171.10 298.25,168.61 298.75,165.98 299.25,163.21 299.75,160.36 300.26,157.50 300.76,154.71 301.26,151.99 301.76,149.34 302.26,146.75 302.76,144.22 303.26,141.74 303.76,139.25 304.26,136.66 304.76,133.86 305.26,130.65 305.76,126.89 306.26,122.48 306.76,117.40 307.27,111.67 307.77,105.20 308.27,98.07 308.77,90.58 309.27,83.07 309.77,75.88 310.27,69.42 310.77,64.03 311.27,59.71 311.77,56.49 312.27,54.25 312.77,53.22 313.27,53.29 313.77,54.24 314.28,56.01 314.78,58.27 315.28,60.51 315.78,62.93 316.28,64.72 316.78,66.23 317.28,66.87 317.78,66.99 318.28,66.38 318.78,65.32 319.28,63.94 319.78,62.41 320.28,60.97 320.78,59.81 321.29,58.94 321.79,58.61 322.29,58.77 322.79,59.42 323.29,60.54 323.79,62.00 324.29,63.68 324.79,65.42 325.29,67.10 325.79,68.62 326.29,69.92 326.79,70.98 327.29,71.80 327.79,72.45 328.29,72.99 328.80,73.49 329.30,74.02 329.80,74.61 330.30,75.28 330.80,75.99 331.30,76.68 331.80,77.27 332.30,77.64 332.80,77.70 333.30,77.37 333.80,76.59 334.30,75.36 334.80,73.70 335.30,71.72 335.81,69.56 336.31,67.35 336.81,65.37 337.31,63.71 337.81,62.68 338.31,62.31 338.81,62.68 339.31,63.89 339.81,65.78 340.31,68.23 340.81,71.10 341.31,74.11 341.81,77.04 342.31,79.65 342.82,81.76 343.32,83.15 343.82,83.79 344.32,83.71 344.82,82.78 345.32,81.39 345.82,79.38 346.32,77.17 346.82,74.68 347.32,72.09 347.82,70.31 348.32,69.96 348.82,71.20 349.32,73.73 349.83,77.36 350.33,81.86 350.83,86.98 351.33,92.42 351.83,97.94 352.33,103.22 352.83,108.05 353.33,112.25 353.83,115.69 354.33,118.35 354.83,120.26 355.33,121.51 355.83,122.27 356.33,122.72 356.83,123.06 357.34,123.47 357.84,124.13 358.34,125.13 358.84,126.53 359.34,128.31 359.84,130.42 360.34,132.76 360.84,135.19 361.34,137.59 361.84,139.84 362.34,141.88 362.84,143.65 363.34,145.13 363.84,146.39 364.35,147.43 364.85,148.32 365.35,149.18 365.85,150.09 366.35,151.13 366.85,152.43 367.35,153.85 367.85,155.55 368.35,157.39 368.85,159.25 369.35,161.14 369.85,162.79 370.35,164.17 370.85,165.22 371.36,165.78 371.86,165.88 372.36,165.55 372.86,164.83 373.36,163.80 373.86,162.66 374.36,161.59 374.86,160.63 375.36,160.03 375.86,159.91 376.36,160.24 376.86,161.05 377.36,162.34 377.86,163.92 378.36,165.58 378.87,167.27 379.37,168.38 379.87,168.97 380.37,168.54 380.87,167.12 381.37,164.45 381.87,161.03 382.37,157.05 382.87,153.18 383.37,149.61 383.87,146.40 384.37,143.99 384.87,142.22 385.37,141.28 385.88,141.33 386.38,142.23 386.88,144.17 387.38,146.88 387.88,150.24 388.38,154.07 388.88,158.07 389.38,161.99 389.88,165.58 390.38,168.62 390.88,170.82 391.38,172.25 391.88,172.68 392.38,172.34 392.89,171.28 393.39,169.64 393.89,167.60 394.39,165.35 394.89,163.05 395.39,160.94 395.89,159.17 396.39,157.74 396.89,156.76 397.39,156.17 397.89,155.97 398.39,156.06 398.89,156.36 399.39,156.74 399.90,157.14 400.40,157.45 400.90,157.66 401.40,157.75 401.90,157.77 402.40,157.73 402.90,157.69 403.40,157.71" fill="none" stroke="#888888" stroke-width="1.5" stroke-opacity="0.5" stroke-linejoin="round" stroke-linecap="round"/>
<polyline points="117.50,137.50 118.00,138.53 118.50,137.77 119.00,136.91 119.50,136.03 120.00,135.20 120.50,134.50 121.00,133.96 121.51,133.65 122.01,133.59 122.51,133.78 123.01,134.27 123.51,135.02 124.01,136.05 124.51,137.34 125.01,138.84 125.51,140.52 126.01,142.31 126.51,144.11 127.01,145.84 127.51,147.37 128.01,148.60 128.52,149.41 129.02,149.69 129.52,149.37 130.02,148.42 130.52,146.82 131.02,144.65 131.52,142.01 132.02,139.06 132.52,136.01 133.02,133.07 133.52,130.51 134.02,128.53 134.52,127.34 135.02,127.08 135.53,127.83 136.03,129.66 136.53,132.51 137.03,136.31 137.53,140.61 138.03,144.75 138.53,148.58 139.03,151.86 139.53,154.46 140.03,156.17 140.53,156.89 141.03,156.57 141.53,155.30 142.03,153.18 142.54,150.43 143.04,147.31 143.54,144.07 144.04,141.04 144.54,138.40 145.04,136.40 145.54,135.12 146.04,134.61 146.54,134.82 147.04,135.66 147.54,136.95 148.04,138.49 148.54,140.05 149.04,141.42 149.54,142.41 150.05,142.87 150.55,142.73 151.05,141.99 151.55,140.72 152.05,139.02 152.55,137.07 153.05,135.06 153.55,133.16 154.05,131.60 154.55,130.47 155.05,129.95 155.55,130.04 156.05,130.80 156.55,132.15 157.06,134.05 157.56,136.37 158.06,138.98 158.56,141.74 159.06,144.49 159.56,147.07 160.06,149.37 160.56,151.27 161.06,152.68 161.56,153.54 162.06,153.81 162.56,153.48 163.06,152.55 163.56,151.06 164.07,149.08 164.57,146.72 165.07,144.10 165.57,141.42 166.07,138.83 166.57,136.57 167.07,134.83 167.57,133.80 168.07,133.65 168.57,134.52 169.07,136.45 169.57,139.46 170.07,143.47 170.57,148.32 171.07,153.80 171.58,159.59 172.08,165.39 172.58,170.83 173.08,175.58 173.58,179.32 174.08,181.80 174.58,182.86 175.08,182.42 175.58,180.53 176.08,177.34 176.58,173.09 177.08,168.10 177.58,162.75 178.08,157.44 178.59,152.52 179.09,148.36 179.59,145.17 180.09,143.14 180.59,142.33 181.09,142.62 181.59,143.93 182.09,145.94 182.59,148.41 183.09,150.99 183.59,153.35 184.09,155.21 184.59,156.33 185.09,156.56 185.60,155.85 186.10,154.22 186.60,151.80 187.10,148.78 187.60,145.39 188.10,141.93 188.60,138.64 189.10,135.79 189.60,133.57 190.10,132.15 190.60,131.62 191.10,131.97 191.60,133.16 192.10,135.08 192.61,137.55 193.11,140.38 193.61,143.37 194.11,146.27 194.61,148.91 195.11,151.09 195.61,152.68 196.11,153.57 196.61,153.68 197.11,152.98 197.61,151.52 198.11,149.37 198.61,146.61 199.11,143.34 199.61,139.68 200.12,135.81 200.62,131.91 201.12,128.20 201.62,124.88 202.12,122.15 202.62,120.18 203.12,119.08 203.62,118.93 204.12,119.75 204.62,121.52 205.12,124.13 205.62,127.44 206.12,131.14 206.62,134.89 207.13,138.36 207.63,141.22 208.13,143.22 208.63,144.18 209.13,143.99 209.63,142.60 210.13,140.06 210.63,136.48 211.13,131.98 211.63,126.85 212.13,121.52 212.63,116.43 213.13,112.00 213.63,108.52 214.14,106.15 214.64,104.99 215.14,105.11 215.64,106.48 216.14,108.98 216.64,112.39 217.14,116.51 217.64,121.04 218.14,125.64 218.64,129.96 219.14,133.16 219.64,134.37 220.14,134.76 220.64,134.43 221.15,133.55 221.65,132.27 222.15,130.71 222.65,129.18 223.15,128.06 223.65,127.34 224.15,127.00 224.65,127.52 225.15,128.57 225.65,129.72 226.15,131.17 226.65,132.95 227.15,134.99 227.65,137.31 228.15,139.76 228.66,142.22 229.16,144.62 229.66,146.88 230.16,149.05 230.66,151.10 231.16,153.08 231.66,154.99 232.16,156.92 232.66,158.97 233.16,161.17 233.66,163.60 234.16,166.41 234.66,169.63 235.16,173.16 235.67,176.87 236.17,180.61 236.67,184.28 237.17,188.04 237.67,192.00 238.17,196.03 238.67,199.89 239.17,203.53 239.67,207.04 240.17,210.38 240.67,213.40 241.17,215.97 241.67,218.09 242.17,219.70 242.68,220.75 243.18,221.13 243.68,220.72 244.18,218.81 244.68,214.83 245.18,209.88 245.68,204.17 246.18,198.04 246.68,191.87 247.18,186.06 247.68,180.84 248.18,176.18 248.68,172.09 249.18,168.80 249.68,166.44 250.19,165.00 250.69,164.35 251.19,164.26 251.69,164.43 252.19,164.56 252.69,164.33 253.19,163.52 253.69,161.94 254.19,159.47 254.69,156.13 255.19,151.96 255.69,147.16 256.19,141.90 256.69,136.44 257.20,131.00 257.70,125.85 258.20,121.18 258.70,117.14 259.20,113.89 259.70,111.41 260.20,109.67 260.70,108.56 261.20,108.00 261.70,107.89 262.20,108.11 262.70,108.55 263.20,109.10 263.70,109.62 264.21,110.05 264.71,110.42 265.21,110.76 265.71,111.15 266.21,111.67 266.71,112.32 267.21,113.23 267.71,114.58 268.21,116.46 268.71,118.81 269.21,121.36 269.71,123.97 270.21,126.93 270.71,130.01 271.22,133.12 271.72,136.19 272.22,139.12 272.72,141.90 273.22,144.46 273.72,146.90 274.22,149.28 274.72,151.70 275.22,154.12 275.72,156.55 276.22,158.97 276.72,161.32 277.22,163.54 277.72,165.66 278.22,167.70 278.73,169.67 279.23,171.60 279.73,173.53 280.23,175.50 280.73,177.47 281.23,179.57 281.73,181.85 282.23,184.39 282.73,187.21 283.23,190.30 283.73,193.63 284.23,197.16 284.73,200.79 285.23,204.36 285.74,207.71 286.24,210.69 286.74,213.12 287.24,214.41 287.74,214.40 288.24,213.47 288.74,211.56 289.24,208.61 289.74,204.63 290.24,199.65 290.74,193.79 291.24,187.24 291.74,180.24 292.24,173.06 292.75,165.95 293.25,159.19 293.75,152.97 294.25,147.46 294.75,142.66 295.25,138.53 295.75,134.97 296.25,131.91 296.75,129.26 297.25,126.91 297.75,124.75 298.25,122.67 298.75,120.54 299.25,118.27 299.75,115.83 300.26,113.25 300.76,110.55 301.26,107.64 301.76,104.50 302.26,101.24 302.76,98.00 303.26,94.87 303.76,91.99 304.26,89.39 304.76,86.87 305.26,84.31 305.76,81.63 306.26,79.06 306.76,76.62 307.27,74.35 307.77,72.46 308.27,70.97 308.77,69.77 309.27,69.28 309.77,69.08 310.27,69.58 310.77,70.37 311.27,71.55 311.77,72.86 312.27,74.38 312.77,75.97 313.27,77.50 313.77,78.86 314.28,80.00 314.78,80.74 315.28,81.22 315.78,81.42 316.28,81.43 316.78,81.40 317.28,81.48 317.78,81.80 318.28,82.50 318.78,83.68 319.28,85.39 319.78,87.65 320.28,90.41 320.78,93.56 321.29,96.94 321.79,100.38 322.29,103.65 322.79,106.55 323.29,108.91 323.79,110.56 324.29,111.41 324.79,111.43 325.29,110.65 325.79,109.15 326.29,107.10 326.79,104.68 327.29,102.09 327.79,99.58 328.29,97.33 328.80,95.53 329.30,94.30 329.80,93.72 330.30,93.87 330.80,94.68 331.30,96.18 331.80,98.24 332.30,100.74 332.80,103.63 333.30,106.75 333.80,109.99 334.30,113.29 334.80,116.54 335.30,119.66 335.81,122.61 336.31,125.33 336.81,127.73 337.31,129.78 337.81,131.44 338.31,132.54 338.81,133.18 339.31,133.12 339.81,132.45 340.31,131.00 340.81,128.80 341.31,126.31 341.81,123.94 342.31,121.88 342.82,120.11 343.32,118.74 343.82,117.89 344.32,117.66 344.82,118.09 345.32,119.25 345.82,121.04 346.32,123.40 346.82,126.15 347.32,129.11 347.82,132.06 348.32,134.79 348.82,137.09 349.32,138.80 349.83,139.82 350.33,140.12 350.83,139.72 351.33,138.76 351.83,137.37 352.33,135.76 352.83,134.16 353.33,132.79 353.83,131.85 354.33,131.49 354.83,131.82 355.33,132.87 355.83,134.62 356.33,136.97 356.83,139.75 357.34,142.79 357.84,145.84 358.34,148.68 358.84,151.14 359.34,153.04 359.84,154.28 360.34,154.88 360.84,154.78 361.34,154.12 361.84,152.99 362.34,151.51 362.84,149.91 363.34,148.28 363.84,146.80 364.35,145.61 364.85,144.76 365.35,144.28 365.85,144.21 366.35,144.48 366.85,145.03 367.35,145.82 367.85,146.79 368.35,147.79 368.85,148.82 369.35,149.83 369.85,150.75 370.35,151.55 370.85,152.25 371.36,152.79 371.86,153.13 372.36,153.33 372.86,153.18 373.36,152.78 373.86,151.96 374.36,150.77 374.86,149.12 375.36,147.28 375.86,145.36 376.36,143.68 376.86,142.32 377.36,141.30 377.86,140.80 378.36,140.73 378.87,141.16 379.37,142.12 379.87,143.51 380.37,145.38 380.87,147.56 381.37,149.91 381.87,152.29 382.37,154.51 382.87,156.36 383.37,157.71 383.87,158.41 384.37,158.33 384.87,157.55 385.37,156.01 385.88,153.94 386.38,151.48 386.88,148.84 387.38,146.24 387.88,143.91 388.38,142.04 388.88,140.82 389.38,140.36 389.88,140.64 390.38,141.67 390.88,143.29 391.38,145.38 391.88,147.72 392.38,150.09 392.89,152.27 393.39,154.08 393.89,155.36 394.39,156.04 394.89,156.09 395.39,155.57 395.89,154.58 396.39,153.26 396.89,151.77 397.39,150.31 397.89,149.05 398.39,148.13 398.89,147.68 399.39,147.71 399.90,148.24 400.40,149.17 400.90,150.41 401.40,151.73 401.90,153.06 402.40,154.24 402.90,155.14 403.40,155.63" fill="none" stroke="#888888" stroke-width="1.5" stroke-opacity="0.5" stroke-linejoin="round" stroke-linecap="round"/>
<polyline points="117.50,137.50 118.00,138.58 118.50,138.55 119.00,138.61 119.50,138.76 120.00,139.10 120.50,139.64 121.00,140.41 121.51,141.34 122.01,142.35 122.51,143.33 123.01,144.14 123.51,144.64 124.01,144.71 124.51,144.24 125.01,143.21 125.51,141.63 126.01,139.56 126.51,137.15 127.01,134.55 127.51,131.97 128.01,129.62 128.52,127.67 129.02,126.29 129.52,125.57 130.02,125.56 130.52,126.21 131.02,127.45 131.52,129.14 132.02,131.10 132.52,133.16 133.02,135.14 133.52,136.89 134.02,138.33 134.52,139.41 135.02,140.17 135.53,140.69 136.03,141.09 136.53,141.52 137.03,142.14 137.53,143.06 138.03,144.36 138.53,146.08 139.03,148.15 139.53,150.57 140.03,153.18 140.53,155.85 141.03,158.16 141.53,159.52 142.03,159.90 142.54,159.27 143.04,157.73 143.54,155.33 144.04,152.28 144.54,148.78 145.04,145.11 145.54,141.56 146.04,138.39 146.54,135.82 147.04,134.00 147.54,133.03 148.04,132.83 148.54,133.33 149.04,134.31 149.54,135.56 150.05,136.81 150.55,137.86 151.05,138.53 151.55,138.72 152.05,138.40 152.55,137.63 153.05,136.57 153.55,135.38 154.05,134.30 154.55,133.54 155.05,133.30 155.55,133.68 156.05,134.72 156.55,136.36 157.06,138.43 157.56,140.75 158.06,143.00 158.56,144.94 159.06,146.27 159.56,146.81 160.06,146.42 160.56,145.13 161.06,143.00 161.56,140.26 162.06,137.15 162.56,134.02 163.06,131.17 163.56,128.91 164.07,127.46 164.57,126.98 165.07,127.51 165.57,129.00 166.07,131.26 166.57,134.06 167.07,137.11 167.57,140.13 168.07,142.86 168.57,145.09 169.07,146.74 169.57,147.78 170.07,148.28 170.57,148.38 171.07,148.27 171.58,148.14 172.08,148.19 172.58,148.55 173.08,149.29 173.58,150.40 174.08,151.77 174.58,153.24 175.08,154.58 175.58,155.55 176.08,155.92 176.58,155.51 177.08,154.20 177.58,151.99 178.08,148.94 178.59,145.24 179.09,141.14 179.59,136.95 180.09,133.00 180.59,129.59 181.09,127.00 181.59,125.39 182.09,124.86 182.59,125.39 183.09,126.85 183.59,129.05 184.09,131.77 184.59,134.66 185.09,137.54 185.60,140.12 186.10,142.30 186.60,143.98 187.10,145.16 187.60,145.92 188.10,146.38 188.60,146.68 189.10,147.01 189.60,147.46 190.10,148.14 190.60,149.06 191.10,150.16 191.60,151.36 192.10,152.46 192.61,153.28 193.11,153.65 193.61,153.40 194.11,152.45 194.61,150.76 195.11,148.38 195.61,145.44 196.11,142.14 196.61,138.73 197.11,135.46 197.61,132.59 198.11,130.35 198.61,128.89 199.11,128.30 199.61,128.56 200.12,129.59 200.62,131.23 201.12,133.29 201.62,135.56 202.12,137.80 202.62,139.77 203.12,141.32 203.62,142.34 204.12,142.81 204.62,142.78 205.12,142.35 205.62,141.68 206.12,140.89 206.62,140.12 207.13,139.46 207.63,138.96 208.13,138.62 208.63,138.40 209.13,138.20 209.63,137.79 210.13,136.90 210.63,135.29 211.13,132.81 211.63,129.40 212.13,125.13 212.63,120.13 213.13,114.58 213.63,108.75 214.14,102.86 214.64,97.02 215.14,91.44 215.64,86.55 216.14,82.69 216.64,80.08 217.14,78.73 217.64,78.40 218.14,78.80 218.64,79.78 219.14,81.25 219.64,83.18 220.14,85.21 220.64,87.44 221.15,89.90 221.65,92.56 222.15,95.37 222.65,98.27 223.15,101.16 223.65,103.93 224.15,106.98 224.65,110.57 225.15,114.64 225.65,118.88 226.15,123.44 226.65,128.40 227.15,133.11 227.65,136.95 228.15,140.54 228.66,142.96 229.16,143.43 229.66,142.53 230.16,140.66 230.66,138.09 231.16,135.35 231.66,132.70 232.16,130.47 232.66,128.93 233.16,128.36 233.66,129.04 234.16,131.00 234.66,134.30 235.16,138.76 235.67,144.24 236.17,150.54 236.67,157.31 237.17,164.27 237.67,171.22 238.17,177.89 238.67,183.95 239.17,189.13 239.67,193.24 240.17,196.24 240.67,198.40 241.17,199.98 241.67,201.01 242.17,201.50 242.68,201.57 243.18,201.45 243.68,201.20 244.18,200.98 244.68,200.90 245.18,200.54 245.68,199.83 246.18,198.70 246.68,197.03 247.18,194.78 247.68,191.92 248.18,188.42 248.68,184.34 249.18,179.89 249.68,175.44 250.19,171.36 250.69,167.98 251.19,165.50 251.69,163.81 252.19,162.83 252.69,162.57 253.19,162.96 253.69,163.83 254.19,164.91 254.69,165.86 255.19,166.38 255.69,166.20 256.19,165.11 256.69,163.04 257.20,160.02 257.70,156.14 258.20,151.63 258.70,146.74 259.20,141.75 259.70,136.94 260.20,132.51 260.70,128.61 261.20,125.31 261.70,122.59 262.20,120.36 262.70,118.51 263.20,116.84 263.70,115.15 264.21,113.27 264.71,111.15 265.21,108.79 265.71,106.29 266.21,103.79 266.71,101.46 267.21,99.44 267.71,97.91 268.21,97.05 268.71,97.03 269.21,98.10 269.71,100.29 270.21,103.16 270.71,106.61 271.22,110.56 271.72,114.82 272.22,119.06 272.72,122.95 273.22,126.21 273.72,128.68 274.22,130.11 274.72,130.40 275.22,129.63 275.72,127.83 276.22,125.21 276.72,122.00 277.22,118.64 277.72,115.58 278.22,113.33 278.73,112.23 279.23,112.59 279.73,114.56 280.23,118.08 280.73,122.91 281.23,128.74 281.73,135.13 282.23,141.60 282.73,147.75 283.23,153.26 283.73,157.99 284.23,161.87 284.73,165.07 285.23,167.81 285.74,170.33 286.24,172.82 286.74,175.36 287.24,178.20 287.74,181.30 288.24,184.32 288.74,187.04 289.24,189.27 289.74,190.85 290.24,191.63 290.74,191.54 291.24,190.58 291.74,188.87 292.24,186.55 292.75,183.79 293.25,180.77 293.75,177.66 294.25,174.62 294.75,171.76 295.25,169.15 295.75,166.80 296.25,164.64 296.75,162.58 297.25,160.48 297.75,158.20 298.25,155.53 298.75,152.32 299.25,148.49 299.75,144.08 300.26,139.21 300.76,134.06 301.26,128.87 301.76,123.89 302.26,119.32 302.76,115.33 303.26,112.07 303.76,109.62 304.26,107.94 304.76,106.81 305.26,105.99 305.76,105.31 306.26,104.58 306.76,103.60 307.27,102.26 307.77,100.46 308.27,97.97 308.77,94.73 309.27,90.79 309.77,86.53 310.27,82.20 310.77,78.08 311.27,74.48 311.77,71.63 312.27,69.54 312.77,68.65 313.27,68.50 313.77,69.36 314.28,70.72 314.78,72.61 315.28,74.61 315.78,76.59 316.28,78.35 316.78,79.76 317.28,80.80 317.78,81.53 318.28,81.95 318.78,82.34 319.28,82.84 319.78,83.64 320.28,84.96 320.78,86.87 321.29,89.41 321.79,92.53 322.29,96.07 322.79,99.83 323.29,103.56 323.79,106.98 324.29,109.82 324.79,111.85 325.29,112.92 325.79,112.96 326.29,111.99 326.79,110.12 327.29,107.55 327.79,104.52 328.29,101.32 328.80,98.23 329.30,95.50 329.80,93.34 330.30,91.88 330.80,91.16 331.30,91.17 331.80,91.79 332.30,92.89 332.80,94.27 333.30,95.76 333.80,97.23 334.30,98.51 334.80,99.65 335.30,100.58 335.81,101.38 336.31,102.23 336.81,103.19 337.31,104.41 337.81,106.05 338.31,108.16 338.81,110.75 339.31,113.79 339.81,117.16 340.31,120.65 340.81,124.07 341.31,127.22 341.81,129.73 342.31,131.55 342.82,132.33 343.32,132.10 343.82,130.67 344.32,128.09 344.82,124.99 345.32,121.91 345.82,119.16 346.32,116.78 346.82,114.95 347.32,113.81 347.82,113.44 348.32,113.86 348.82,115.06 349.32,116.89 349.83,119.21 350.33,121.85 350.83,124.60 351.33,127.29 351.83,129.81 352.33,132.05 352.83,134.01 353.33,135.70 353.83,137.21 354.33,138.64 354.83,140.12 355.33,141.71 355.83,143.49 356.33,145.46 356.83,147.58 357.34,149.74 357.84,151.81 358.34,153.62 358.84,154.97 359.34,155.75 359.84,155.82 360.34,155.11 360.84,153.63 361.34,151.44 361.84,148.67 362.34,145.53 362.84,142.23 363.34,139.04 363.84,136.25 364.35,133.96 364.85,132.44 365.35,131.75 365.85,131.86 366.35,132.82 366.85,134.41 367.35,136.54 367.85,139.04 368.35,141.68 368.85,144.32 369.35,146.85 369.85,149.18 370.35,151.25 370.85,153.14 371.36,154.92 371.86,156.60 372.36,158.33 372.86,160.19 373.36,162.15 373.86,164.20 374.36,166.32 374.86,168.32 375.36,170.02 375.86,171.30 376.36,171.74 376.86,171.32 377.36,169.73 377.86,167.02 378.36,163.08 378.87,158.36 379.37,153.11 379.87,147.93 380.37,143.09 380.87,138.80 381.37,135.45 381.87,133.02 382.37,131.67 382.87,131.49 383.37,132.30 383.87,134.15 384.37,136.71 384.87,139.79 385.37,143.14 385.88,146.48 386.38,149.60 386.88,152.34 387.38,154.60 387.88,156.28 388.38,157.53 388.88,158.34 389.38,158.93 389.88,159.42 390.38,159.92 390.88,160.49 391.38,161.15 391.88,161.84 392.38,162.50 392.89,163.00 393.39,163.12 393.89,162.72 394.39,161.65 394.89,159.84 395.39,157.27 395.89,154.03 396.39,150.26 396.89,146.20 397.39,142.12 397.89,138.36 398.39,135.22 398.89,133.00 399.39,131.86 399.90,131.92 400.40,133.19 400.90,135.55 401.40,138.82 401.90,142.72 402.40,146.95 402.90,151.16 403.40,155.05" fill="none" stroke="#888888" stroke-width="1.5" stroke-opacity="0.5" stroke-linejoin="round" stroke-linecap="round"/>
<polyline points="117.50,137.50 118.00,142.77 118.50,142.51 119.00,141.87 119.50,140.98 120.00,140.00 120.50,139.09 121.00,138.42 121.51,138.10 122.01,138.20 122.51,138.70 123.01,139.55 123.51,140.65 124.01,141.81 124.51,142.91 125.01,143.76 125.51,144.24 126.01,144.28 126.51,143.85 127.01,142.99 127.51,141.80 128.01,140.42 128.52,138.99 129.02,137.68 129.52,136.63 130.02,135.94 130.52,135.65 131.02,135.73 131.52,136.12 132.02,136.70 132.52,137.31 133.02,137.81 133.52,138.08 134.02,138.01 134.52,137.56 135.02,136.77 135.53,135.71 136.03,134.51 136.53,133.37 137.03,132.44 137.53,132.00 138.03,132.23 138.53,133.30 139.03,135.04 139.53,137.04 140.03,139.34 140.53,141.84 141.03,144.49 141.53,147.06 142.03,149.39 142.54,151.27 143.04,152.59 143.54,153.24 144.04,153.20 144.54,152.48 145.04,151.15 145.54,149.37 146.04,147.24 146.54,144.97 147.04,142.69 147.54,140.57 148.04,138.73 148.54,137.28 149.04,136.30 149.54,135.82 150.05,135.84 150.55,136.32 151.05,137.21 151.55,138.37 152.05,139.73 152.55,141.16 153.05,142.54 153.55,143.74 154.05,144.69 154.55,145.28 155.05,145.46 155.55,145.25 156.05,144.62 156.55,143.69 157.06,142.50 157.56,141.23 158.06,139.99 158.56,138.96 159.06,138.25 159.56,137.98 160.06,138.18 160.56,138.85 161.06,139.89 161.56,141.17 162.06,142.50 162.56,143.66 163.06,144.42 163.56,144.59 164.07,144.00 164.57,142.56 165.07,140.27 165.57,137.24 166.07,133.67 166.57,129.82 167.07,126.06 167.57,122.75 168.07,120.23 168.57,118.81 169.07,118.68 169.57,119.95 170.07,122.58 170.57,126.41 171.07,131.18 171.58,136.54 172.08,142.06 172.58,147.36 173.08,152.03 173.58,155.76 174.08,158.34 174.58,159.68 175.08,159.79 175.58,158.81 176.08,156.96 176.58,154.55 177.08,151.86 177.58,149.23 178.08,146.92 178.59,145.12 179.09,143.95 179.59,143.44 180.09,143.52 180.59,144.09 181.09,144.93 181.59,145.89 182.09,146.78 182.59,147.39 183.09,147.69 183.59,147.59 184.09,147.12 184.59,146.36 185.09,145.40 185.60,144.40 186.10,143.47 186.60,142.75 187.10,142.32 187.60,142.23 188.10,142.47 188.60,143.01 189.10,143.75 189.60,144.62 190.10,145.45 190.60,146.15 191.10,146.60 191.60,146.73 192.10,146.50 192.61,145.89 193.11,144.90 193.61,143.59 194.11,141.99 194.61,140.17 195.11,138.21 195.61,136.15 196.11,134.09 196.61,132.08 197.11,130.18 197.61,128.46 198.11,126.97 198.61,125.76 199.11,124.92 199.61,124.52 200.12,124.58 200.62,125.08 201.12,126.04 201.62,127.41 202.12,129.15 202.62,131.18 203.12,133.40 203.62,135.72 204.12,138.01 204.62,140.14 205.12,142.01 205.62,143.51 206.12,144.59 206.62,145.24 207.13,145.45 207.63,145.17 208.13,144.36 208.63,143.00 209.13,141.13 209.63,138.81 210.13,136.16 210.63,133.27 211.13,130.23 211.63,127.13 212.13,123.99 212.63,120.79 213.13,117.59 213.63,114.57 214.14,111.95 214.64,109.87 215.14,108.39 215.64,107.45 216.14,106.98 216.64,106.98 217.14,107.43 217.64,108.25 218.14,109.37 218.64,110.80 219.14,112.23 219.64,113.19 220.14,114.14 220.64,114.95 221.15,115.52 221.65,115.73 222.15,115.85 222.65,116.09 223.15,116.56 223.65,117.22 224.15,118.33 224.65,120.14 225.15,122.38 225.65,124.78 226.15,127.75 226.65,130.69 227.15,132.97 227.65,134.80 228.15,136.20 228.66,137.15 229.16,137.75 229.66,138.00 230.16,137.96 230.66,137.75 231.16,137.53 231.66,137.58 232.16,138.04 232.66,139.13 233.16,140.91 233.66,143.52 234.16,146.97 234.66,151.18 235.16,156.02 235.67,161.40 236.17,167.10 236.67,172.77 237.17,178.11 237.67,182.80 238.17,186.66 238.67,189.79 239.17,192.28 239.67,194.13 240.17,195.27 240.67,195.86 241.17,196.14 241.67,196.26 242.17,196.25 242.68,196.16 243.18,196.06 243.68,195.95 244.18,195.62 244.68,194.80 245.18,193.73 245.68,192.28 246.18,190.32 246.68,187.74 247.18,184.63 247.68,181.19 248.18,177.65 248.68,174.25 249.18,171.14 249.68,168.26 250.19,165.61 250.69,163.30 251.19,161.37 251.69,159.80 252.19,158.46 252.69,157.19 253.19,155.82 253.69,154.17 254.19,152.12 254.69,149.62 255.19,146.67 255.69,143.32 256.19,139.70 256.69,135.99 257.20,132.35 257.70,128.98 258.20,126.01 258.70,123.55 259.20,121.66 259.70,120.33 260.20,119.53 260.70,119.17 261.20,119.10 261.70,119.18 262.20,119.25 262.70,119.22 263.20,119.02 263.70,118.63 264.21,118.06 264.71,117.33 265.21,116.47 265.71,115.54 266.21,114.66 266.71,113.93 267.21,113.48 267.71,113.38 268.21,113.67 268.71,114.42 269.21,115.76 269.71,117.73 270.21,120.31 270.71,123.40 271.22,126.89 271.72,130.69 272.22,134.58 272.72,138.39 273.22,142.01 273.72,145.28 274.22,148.08 274.72,150.30 275.22,151.95 275.72,153.05 276.22,153.70 276.72,153.95 277.22,153.91 277.72,153.74 278.22,153.60 278.73,153.64 279.23,154.10 279.73,155.14 280.23,156.87 280.73,159.32 281.23,162.43 281.73,166.06 282.23,169.93 282.73,173.80 283.23,177.37 283.73,180.35 284.23,182.48 284.73,183.55 285.23,183.46 285.74,182.23 286.24,179.98 286.74,176.92 287.24,173.53 287.74,170.19 288.24,167.05 288.74,164.41 289.24,162.52 289.74,161.56 290.24,161.57 290.74,162.43 291.24,163.90 291.74,165.66 292.24,167.34 292.75,168.56 293.25,169.01 293.75,168.43 294.25,166.71 294.75,163.81 295.25,159.88 295.75,155.12 296.25,149.80 296.75,144.21 297.25,138.69 297.75,133.59 298.25,129.21 298.75,125.75 299.25,123.31 299.75,121.87 300.26,121.26 300.76,121.22 301.26,121.48 301.76,121.74 302.26,121.70 302.76,120.97 303.26,119.30 303.76,116.65 304.26,113.07 304.76,108.71 305.26,103.81 305.76,98.63 306.26,93.19 306.76,87.62 307.27,82.04 307.77,76.83 308.27,72.15 308.77,68.05 309.27,64.74 309.77,62.14 310.27,60.03 310.77,58.75 311.27,58.09 311.77,58.37 312.27,58.76 312.77,59.53 313.27,60.41 313.77,61.50 314.28,62.78 314.78,64.21 315.28,65.82 315.78,67.60 316.28,69.41 316.78,71.35 317.28,73.31 317.78,75.24 318.28,77.14 318.78,78.93 319.28,80.59 319.78,82.07 320.28,83.36 320.78,84.45 321.29,85.35 321.79,86.07 322.29,86.66 322.79,87.12 323.29,87.51 323.79,87.83 324.29,88.11 324.79,88.40 325.29,88.69 325.79,89.01 326.29,89.40 326.79,89.88 327.29,90.47 327.79,91.22 328.29,92.17 328.80,93.35 329.30,94.79 329.80,96.48 330.30,98.44 330.80,100.63 331.30,103.01 331.80,105.57 332.30,108.18 332.80,110.88 333.30,113.53 333.80,116.08 334.30,118.54 334.80,120.78 335.30,122.80 335.81,124.58 336.31,126.07 336.81,127.26 337.31,128.12 337.81,128.64 338.31,128.76 338.81,128.48 339.31,127.82 339.81,126.63 340.31,125.09 340.81,123.02 341.31,120.58 341.81,117.68 342.31,114.39 342.82,111.30 343.32,108.87 343.82,107.30 344.32,106.53 344.82,106.58 345.32,107.48 345.82,109.19 346.32,111.64 346.82,114.73 347.32,118.25 347.82,122.04 348.32,125.85 348.82,129.49 349.32,132.76 349.83,135.51 350.33,137.63 350.83,139.09 351.33,139.91 351.83,140.17 352.33,139.98 352.83,139.51 353.33,138.89 353.83,138.27 354.33,137.76 354.83,137.46 355.33,137.40 355.83,137.59 356.33,137.99 356.83,138.55 357.34,139.22 357.84,139.93 358.34,140.61 358.84,141.25 359.34,141.80 359.84,142.28 360.34,142.77 360.84,143.31 361.34,143.95 361.84,144.78 362.34,145.78 362.84,147.06 363.34,148.57 363.84,150.27 364.35,152.15 364.85,154.06 365.35,155.93 365.85,157.68 366.35,159.16 366.85,160.32 367.35,161.11 367.85,161.49 368.35,161.44 368.85,161.06 369.35,160.39 369.85,159.46 370.35,158.42 370.85,157.36 371.36,156.31 371.86,155.33 372.36,154.51 372.86,153.80 373.36,153.20 373.86,152.76 374.36,152.24 374.86,151.76 375.36,151.12 375.86,150.41 376.36,149.52 376.86,148.76 377.36,148.25 377.86,148.37 378.36,149.13 378.87,150.47 379.37,152.51 379.87,154.99 380.37,157.84 380.87,161.01 381.37,164.23 381.87,167.49 382.37,170.53 382.87,173.21 383.37,175.41 383.87,176.99 384.37,177.85 384.87,177.97 385.37,177.37 385.88,176.01 386.38,174.13 386.88,171.76 387.38,169.19 387.88,166.60 388.38,164.17 388.88,162.07 389.38,160.43 389.88,159.34 390.38,158.89 390.88,159.07 391.38,159.75 391.88,160.86 392.38,162.20 392.89,163.62 393.39,164.93 393.89,165.94 394.39,166.51 394.89,166.54 395.39,165.97 395.89,164.84 396.39,163.22 396.89,161.26 397.39,159.12 397.89,156.99 398.39,155.07 398.89,153.55 399.39,152.60 399.90,152.29 400.40,152.67 400.90,153.68 401.40,155.22 401.90,157.09 402.40,159.07 402.90,160.81 403.40,162.19" fill="none" stroke="#888888" stroke-width="1.5" stroke-opacity="0.5" stroke-linejoin="round" stroke-linecap="round"/>
<polyline points="117.50,137.50 118.00,142.78 118.50,143.44 119.00,144.05 119.50,144.66 120.00,145.29 120.50,145.98 121.00,146.63 121.51,147.11 122.01,147.30 122.51,147.05 123.01,146.20 123.51,144.63 124.01,142.29 124.51,139.17 125.01,135.37 125.51,131.10 126.01,126.62 126.51,122.27 127.01,118.40 127.51,115.39 128.01,113.56 128.52,113.12 129.02,114.22 129.52,116.83 130.02,120.80 130.52,125.88 131.02,131.66 131.52,137.71 132.02,143.56 132.52,148.78 133.02,152.99 133.52,155.92 134.02,157.44 134.52,157.55 135.02,156.39 135.53,154.21 136.03,151.36 136.53,148.21 137.03,145.15 137.53,142.53 138.03,140.60 138.53,139.56 139.03,139.43 139.53,140.18 140.03,141.64 140.53,143.59 141.03,145.85 141.53,148.17 142.03,150.38 142.54,152.06 143.04,152.70 143.54,152.41 144.04,151.26 144.54,149.49 145.04,147.22 145.54,144.67 146.04,142.02 146.54,139.46 147.04,137.11 147.54,135.07 148.04,133.42 148.54,132.15 149.04,131.30 149.54,130.79 150.05,130.64 150.55,130.78 151.05,131.21 151.55,131.90 152.05,132.87 152.55,134.10 153.05,135.58 153.55,137.28 154.05,139.12 154.55,141.00 155.05,142.78 155.55,144.31 156.05,145.44 156.55,146.05 157.06,146.02 157.56,145.32 158.06,143.99 158.56,142.09 159.06,139.86 159.56,137.46 160.06,135.24 160.56,133.42 161.06,132.32 161.56,132.10 162.06,132.95 162.56,134.85 163.06,137.72 163.56,141.35 164.07,145.44 164.57,149.57 165.07,153.35 165.57,156.35 166.07,158.24 166.57,158.75 167.07,157.76 167.57,155.28 168.07,151.45 168.57,146.57 169.07,141.04 169.57,135.32 170.07,129.89 170.57,125.23 171.07,121.70 171.58,119.59 172.08,119.03 172.58,120.01 173.08,122.35 173.58,125.78 174.08,129.95 174.58,134.45 175.08,138.87 175.58,142.85 176.08,146.11 176.58,148.48 177.08,149.88 177.58,150.38 178.08,150.10 178.59,149.27 179.09,148.14 179.59,146.96 180.09,145.96 180.59,145.30 181.09,145.09 181.59,145.36 182.09,146.04 182.59,147.04 183.09,148.21 183.59,149.36 184.09,150.37 184.59,151.05 185.09,151.35 185.60,151.22 186.10,150.64 186.60,149.73 187.10,148.52 187.60,147.17 188.10,145.79 188.60,144.46 189.10,143.27 189.60,142.24 190.10,141.38 190.60,140.66 191.10,140.03 191.60,139.44 192.10,138.83 192.61,138.15 193.11,137.41 193.61,136.58 194.11,135.73 194.61,134.92 195.11,134.23 195.61,133.75 196.11,133.55 196.61,133.69 197.11,134.18 197.61,135.02 198.11,136.16 198.61,137.54 199.11,139.03 199.61,140.57 200.12,142.04 200.62,143.36 201.12,144.45 201.62,145.26 202.12,145.77 202.62,146.01 203.12,146.04 203.62,145.87 204.12,145.51 204.62,144.98 205.12,144.30 205.62,143.46 206.12,142.48 206.62,141.34 207.13,140.08 207.63,138.68 208.13,137.17 208.63,135.56 209.13,133.92 209.63,132.30 210.13,130.83 210.63,129.57 211.13,128.50 211.63,127.52 212.13,126.54 212.63,125.45 213.13,124.19 213.63,122.68 214.14,120.84 214.64,118.58 215.14,115.80 215.64,112.42 216.14,108.22 216.64,103.22 217.14,97.72 217.64,92.09 218.14,86.71 218.64,81.84 219.14,77.57 219.64,74.02 220.14,71.43 220.64,69.92 221.15,69.59 221.65,70.46 222.15,72.69 222.65,76.22 223.15,80.80 223.65,86.06 224.15,91.56 224.65,96.82 225.15,101.37 225.65,105.42 226.15,109.11 226.65,112.41 227.15,115.11 227.65,117.64 228.15,120.50 228.66,123.32 229.16,125.79 229.66,129.02 230.16,132.18 230.66,134.43 231.16,136.47 231.66,138.56 232.16,140.75 232.66,143.23 233.16,145.84 233.66,148.47 234.16,151.00 234.66,153.37 235.16,155.65 235.67,157.77 236.17,159.81 236.67,161.71 237.17,163.62 237.67,165.65 238.17,167.82 238.67,170.22 239.17,173.05 239.67,176.35 240.17,179.92 240.67,183.63 241.17,187.28 241.67,190.80 242.17,194.47 242.68,198.48 243.18,202.71 243.68,206.94 244.18,211.26 244.68,215.90 245.18,220.66 245.68,225.30 246.18,229.65 246.68,233.56 247.18,236.89 247.68,239.41 248.18,240.85 248.68,240.97 249.18,239.56 249.68,236.45 250.19,231.52 250.69,225.01 251.19,217.38 251.69,209.20 252.19,201.08 252.69,193.44 253.19,186.40 253.69,180.13 254.19,174.97 254.69,171.14 255.19,168.67 255.69,167.36 256.19,166.88 256.69,166.79 257.20,166.64 257.70,165.95 258.20,164.41 258.70,161.78 259.20,157.91 259.70,152.92 260.20,146.97 260.70,140.38 261.20,133.54 261.70,126.83 262.20,120.63 262.70,115.25 263.20,110.93 263.70,107.76 264.21,105.80 264.71,104.84 265.21,104.62 265.71,104.81 266.21,105.14 266.71,105.32 267.21,105.16 267.71,104.49 268.21,103.18 268.71,101.16 269.21,98.60 269.71,95.74 270.21,92.67 270.71,89.68 271.22,87.01 271.72,84.79 272.22,83.31 272.72,82.98 273.22,83.98 273.72,86.25 274.22,89.67 274.72,94.03 275.22,99.27 275.72,105.05 276.22,111.17 276.72,117.60 277.22,124.16 277.72,130.82 278.22,137.49 278.73,144.28 279.23,151.20 279.73,158.32 280.23,165.46 280.73,172.46 281.23,179.17 281.73,185.36 282.23,190.80 282.73,195.50 283.23,199.43 283.73,202.59 284.23,205.07 284.73,206.95 285.23,208.36 285.74,209.33 286.24,210.08 286.74,210.77 287.24,211.30 287.74,211.70 288.24,212.19 288.74,212.74 289.24,213.31 289.74,213.81 290.24,214.08 290.74,214.04 291.24,213.62 291.74,212.79 292.24,211.51 292.75,209.82 293.25,207.82 293.75,205.59 294.25,203.18 294.75,200.61 295.25,197.88 295.75,194.97 296.25,191.85 296.75,188.47 297.25,184.79 297.75,180.72 298.25,176.20 298.75,171.18 299.25,165.66 299.75,159.58 300.26,152.94 300.76,145.85 301.26,138.53 301.76,131.26 302.26,124.36 302.76,118.11 303.26,112.78 303.76,108.49 304.26,105.29 304.76,103.19 305.26,102.08 305.76,101.75 306.26,101.78 306.76,101.77 307.27,101.47 307.77,100.69 308.27,99.27 308.77,97.20 309.27,94.53 309.77,91.15 310.27,87.17 310.77,82.81 311.27,78.19 311.77,73.69 312.27,69.98 312.77,67.46 313.27,66.21 313.77,66.07 314.28,67.30 314.78,69.18 315.28,71.82 315.78,74.44 316.28,76.97 316.78,78.85 317.28,79.95 317.78,80.09 318.28,79.25 318.78,77.55 319.28,75.22 319.78,72.47 320.28,69.78 320.78,67.43 321.29,65.76 321.79,65.06 322.29,65.45 322.79,66.97 323.29,69.54 323.79,72.97 324.29,77.00 324.79,81.33 325.29,85.66 325.79,89.70 326.29,93.23 326.79,96.11 327.29,98.26 327.79,99.70 328.29,100.50 328.80,100.77 329.30,100.66 329.80,100.30 330.30,99.81 330.80,99.26 331.30,98.70 331.80,98.13 332.30,97.54 332.80,96.91 333.30,96.19 333.80,95.41 334.30,94.62 334.80,93.86 335.30,93.32 335.81,93.08 336.31,93.40 336.81,94.34 337.31,95.98 337.81,98.43 338.31,101.55 338.81,105.22 339.31,109.23 339.81,113.28 340.31,117.04 340.81,120.20 341.31,122.49 341.81,123.67 342.31,123.66 342.82,122.52 343.32,120.25 343.82,117.30 344.32,113.78 344.82,110.22 345.32,106.80 345.82,103.87 346.32,102.23 346.82,102.44 347.32,104.57 347.82,108.27 348.32,113.18 348.82,118.86 349.32,124.81 349.83,130.50 350.33,135.51 350.83,139.39 351.33,141.90 351.83,142.93 352.33,142.51 352.83,140.86 353.33,138.30 353.83,135.24 354.33,132.14 354.83,129.44 355.33,127.51 355.83,126.63 356.33,126.96 356.83,128.45 357.34,130.96 357.84,134.22 358.34,137.87 358.84,141.53 359.34,144.82 359.84,147.42 360.34,149.09 360.84,149.76 361.34,149.43 361.84,148.22 362.34,146.39 362.84,144.17 363.34,141.88 363.84,139.82 364.35,138.23 364.85,137.30 365.35,137.19 365.85,137.79 366.35,139.15 366.85,141.10 367.35,143.41 367.85,146.00 368.35,148.59 368.85,151.08 369.35,153.41 369.85,155.47 370.35,157.28 370.85,158.90 371.36,160.36 371.86,161.71 372.36,163.06 372.86,164.42 373.36,165.73 373.86,166.99 374.36,168.16 374.86,169.06 375.36,169.60 375.86,169.75 376.36,169.37 376.86,168.40 377.36,166.97 377.86,164.85 378.36,162.34 378.87,159.32 379.37,156.07 379.87,152.58 380.37,149.34 380.87,146.53 381.37,144.59 381.87,143.49 382.37,143.05 382.87,143.32 383.37,143.88 383.87,144.60 384.37,145.39 384.87,145.99 385.37,146.52 385.88,146.83 386.38,146.99 386.88,147.09 387.38,147.18 387.88,147.36 388.38,147.72 388.88,148.31 389.38,149.06 389.88,150.08 390.38,151.18 390.88,152.42 391.38,153.67 391.88,154.84 392.38,155.85 392.89,156.65 393.39,157.21 393.89,157.62 394.39,157.97 394.89,158.31 395.39,158.77 395.89,159.44 396.39,160.41 396.89,161.70 397.39,163.27 397.89,165.02 398.39,166.81 398.89,168.42 399.39,169.68 399.90,170.35 400.40,170.30 400.90,169.39 401.40,167.57 401.90,164.91 402.40,161.53 402.90,157.69 403.40,153.67" fill="none" stroke="#888888" stroke-width="1.5" stroke-opacity="0.5" stroke-linejoin="round" stroke-linecap="round"/>
<polyline points="117.50,137.50 118.00,142.60 118.50,141.35 119.00,140.03 119.50,138.68 120.00,137.35 120.50,136.07 121.00,134.88 121.51,133.82 122.01,132.91 122.51,132.18 123.01,131.64 123.51,131.31 124.01,131.19 124.51,131.27 125.01,131.55 125.51,132.01 126.01,132.64 126.51,133.40 127.01,134.27 127.51,135.22 128.01,136.22 128.52,137.23 129.02,138.23 129.52,139.18 130.02,140.06 130.52,140.84 131.02,141.50 131.52,142.03 132.02,142.42 132.52,142.65 133.02,142.74 133.52,142.67 134.02,142.46 134.52,142.12 135.02,141.67 135.53,141.12 136.03,140.49 136.53,139.80 137.03,139.08 137.53,138.35 138.03,137.62 138.53,136.91 139.03,136.26 139.53,135.66 140.03,135.14 140.53,134.71 141.03,134.38 141.53,134.14 142.03,134.01 142.54,133.99 143.04,134.06 143.54,134.24 144.04,134.51 144.54,134.86 145.04,135.29 145.54,135.79 146.04,136.34 146.54,136.92 147.04,137.54 147.54,138.17 148.04,138.81 148.54,139.43 149.04,140.03 149.54,140.59 150.05,141.08 150.55,141.40 151.05,141.06 151.55,138.62 152.05,131.29 152.55,116.98 153.05,98.95 153.55,87.18 154.05,90.17 154.55,105.45 155.05,122.49 155.55,133.57 156.05,138.15 156.55,139.07 157.06,138.63 157.56,137.81 158.06,136.89 158.56,135.94 159.06,134.99 159.56,134.06 160.06,133.17 160.56,132.36 161.06,131.65 161.56,131.06 162.06,130.62 162.56,130.34 163.06,130.25 163.56,130.35 164.07,130.66 164.57,131.18 165.07,131.91 165.57,132.83 166.07,133.94 166.57,135.21 167.07,136.62 167.57,138.13 168.07,139.70 168.57,141.31 169.07,142.89 169.57,144.41 170.07,145.82 170.57,147.08 171.07,148.15 171.58,148.98 172.08,149.54 172.58,149.80 173.08,149.75 173.58,149.37 174.08,148.67 174.58,147.64 175.08,146.31 175.58,144.69 176.08,142.84 176.58,140.79 177.08,138.59 177.58,136.30 178.08,133.99 178.59,131.71 179.09,129.53 179.59,127.52 180.09,125.73 180.59,124.24 181.09,123.07 181.59,122.28 182.09,121.90 182.59,121.95 183.09,122.43 183.59,123.35 184.09,124.69 184.59,126.41 185.09,128.47 185.60,130.84 186.10,133.44 186.60,136.20 187.10,139.06 187.60,141.93 188.10,144.73 188.60,147.39 189.10,149.83 189.60,151.97 190.10,153.76 190.60,155.14 191.10,156.07 191.60,156.51 192.10,156.46 192.61,155.91 193.11,154.87 193.61,153.37 194.11,151.44 194.61,149.15 195.11,146.54 195.61,143.69 196.11,140.68 196.61,137.58 197.11,134.50 197.61,131.50 198.11,128.68 198.61,126.10 199.11,123.85 199.61,121.97 200.12,120.53 200.62,119.55 201.12,119.06 201.62,119.07 202.12,119.58 202.62,120.57 203.12,122.00 203.62,123.84 204.12,126.04 204.62,128.52 205.12,131.22 205.62,134.06 206.12,136.97 206.62,139.86 207.13,142.65 207.63,145.28 208.13,147.68 208.63,149.78 209.13,151.53 209.63,152.90 210.13,153.86 210.63,154.38 211.13,154.47 211.63,154.12 212.13,153.37 212.63,152.24 213.13,150.77 213.63,149.01 214.14,147.01 214.64,144.84 215.14,142.55 215.64,140.21 216.14,137.88 216.64,135.63 217.14,133.50 217.64,131.56 218.14,129.85 218.64,128.40 219.14,127.24 219.64,126.39 220.14,125.86 220.64,125.65 221.15,125.76 221.65,126.16 222.15,126.83 222.65,127.75 223.15,128.87 223.65,130.16 224.15,131.57 224.65,133.07 225.15,134.61 225.65,136.14 226.15,137.63 226.65,139.04 227.15,140.34 227.65,141.50 228.15,142.50 228.66,143.33 229.16,143.98 229.66,144.44 230.16,144.71 230.66,144.81 231.16,144.74 231.66,144.52 232.16,144.17 232.66,143.71 233.16,143.16 233.66,142.55 234.16,141.90 234.66,141.23 235.16,140.56 235.67,139.91 236.17,139.29 236.67,138.72 237.17,138.21 237.67,137.75 238.17,137.37 238.67,137.04 239.17,136.78 239.67,136.58 240.17,136.42 240.67,136.30 241.17,136.21 241.67,136.14 242.17,136.08 242.68,136.02 243.18,135.96 243.68,135.88 244.18,135.79 244.68,135.68 245.18,135.55 245.68,135.41 246.18,135.26 246.68,135.10 247.18,134.95 247.68,134.82 248.18,134.71 248.68,134.63 249.18,134.61 249.68,134.65 250.19,134.75 250.69,134.93 251.19,135.18 251.69,135.53 252.19,135.96 252.69,136.47 253.19,137.06 253.69,137.71 254.19,138.42 254.69,139.18 255.19,139.96 255.69,140.74 256.19,141.51 256.69,142.24 257.20,142.91 257.70,143.50 258.20,143.99 258.70,144.36 259.20,144.59 259.70,144.67 260.20,144.59 260.70,144.35 261.20,143.94 261.70,143.37 262.20,142.64 262.70,141.78 263.20,140.79 263.70,139.70 264.21,138.53 264.71,137.31 265.21,136.08 265.71,134.85 266.21,133.68 266.71,132.58 267.21,131.59 267.71,130.74 268.21,130.05 268.71,129.54 269.21,129.23 269.71,129.14 270.21,129.26 270.71,129.60 271.22,130.15 271.72,130.91 272.22,131.84 272.72,132.93 273.22,134.15 273.72,135.48 274.22,136.86 274.72,138.28 275.22,139.68 275.72,141.04 276.22,142.31 276.72,143.47 277.22,144.47 277.72,145.30 278.22,145.94 278.73,146.36 279.23,146.56 279.73,146.53 280.23,146.29 280.73,145.83 281.23,145.17 281.73,144.34 282.23,143.36 282.73,142.27 283.23,141.08 283.73,139.85 284.23,138.60 284.73,137.38 285.23,136.21 285.74,135.12 286.24,134.15 286.74,133.32 287.24,132.65 287.74,132.14 288.24,131.82 288.74,131.67 289.24,131.70 289.74,131.90 290.24,132.24 290.74,132.71 291.24,133.30 291.74,133.96 292.24,134.68 292.75,135.43 293.25,136.18 293.75,136.90 294.25,137.58 294.75,138.18 295.25,138.71 295.75,139.13 296.25,139.46 296.75,139.68 297.25,139.80 297.75,139.83 298.25,139.78 298.75,139.66 299.25,139.48 299.75,139.28 300.26,139.07 300.76,138.87 301.26,138.69 301.76,138.56 302.26,138.49 302.76,138.48 303.26,138.55 303.76,138.70 304.26,138.91 304.76,139.19 305.26,139.52 305.76,139.88 306.26,140.26 306.76,140.63 307.27,140.96 307.77,141.25 308.27,141.45 308.77,141.56 309.27,141.55 309.77,141.41 310.27,141.12 310.77,140.69 311.27,140.12 311.77,139.41 312.27,138.58 312.77,137.65 313.27,136.65 313.77,135.59 314.28,134.53 314.78,133.50 315.28,132.52 315.78,131.65 316.28,130.91 316.78,130.34 317.28,129.97 317.78,129.82 318.28,129.91 318.78,130.24 319.28,130.82 319.78,131.63 320.28,132.66 320.78,133.89 321.29,135.28 321.79,136.79 322.29,138.38 322.79,139.99 323.29,141.59 323.79,143.11 324.29,144.51 324.79,145.74 325.29,146.75 325.79,147.51 326.29,147.99 326.79,148.17 327.29,148.04 327.79,147.61 328.29,146.87 328.80,145.86 329.30,144.60 329.80,143.13 330.30,141.50 330.80,139.77 331.30,137.98 331.80,136.20 332.30,134.48 332.80,132.88 333.30,131.46 333.80,130.27 334.30,129.33 334.80,128.68 335.30,128.34 335.81,128.32 336.31,128.62 336.81,129.22 337.31,130.09 337.81,131.21 338.31,132.53 338.81,134.00 339.31,135.57 339.81,137.17 340.31,138.75 340.81,140.24 341.31,141.61 341.81,142.79 342.31,143.74 342.82,144.44 343.32,144.86 343.82,144.98 344.32,144.82 344.82,144.38 345.32,143.67 345.82,142.75 346.32,141.64 346.82,140.40 347.32,139.08 347.82,137.73 348.32,136.42 348.82,135.21 349.32,134.14 349.83,133.26 350.33,132.61 350.83,132.23 351.33,132.12 351.83,132.31 352.33,132.77 352.83,133.50 353.33,134.47 353.83,135.63 354.33,136.95 354.83,138.37 355.33,139.82 355.83,141.24 356.33,142.58 356.83,143.77 357.34,144.75 357.84,145.48 358.34,145.92 358.84,146.04 359.34,145.82 359.84,145.27 360.34,144.38 360.84,143.19 361.34,141.72 361.84,140.04 362.34,138.20 362.84,136.26 363.34,134.30 363.84,132.39 364.35,130.60 364.85,129.00 365.35,127.67 365.85,126.66 366.35,126.01 366.85,125.76 367.35,125.94 367.85,126.53 368.35,127.55 368.85,128.95 369.35,130.69 369.85,132.73 370.35,134.99 370.85,137.41 371.36,139.89 371.86,142.36 372.36,144.71 372.86,146.88 373.36,148.78 373.86,150.34 374.36,151.49 374.86,152.21 375.36,152.45 375.86,152.20 376.36,151.47 376.86,150.28 377.36,148.67 377.86,146.69 378.36,144.40 378.87,141.90 379.37,139.26 379.87,136.58 380.37,133.95 380.87,131.47 381.37,129.22 381.87,127.30 382.37,125.75 382.87,124.65 383.37,124.02 383.87,123.89 384.37,124.27 384.87,125.13 385.37,126.45 385.88,128.17 386.38,130.22 386.88,132.53 387.38,135.01 387.88,137.56 388.38,140.09 388.88,142.49 389.38,144.68 389.88,146.57 390.38,148.08 390.88,149.17 391.38,149.77 391.88,149.88 392.38,149.49 392.89,148.60 393.39,147.27 393.89,145.53 394.39,143.46 394.89,141.14 395.39,138.66 395.89,136.13 396.39,133.66 396.89,131.33 397.39,129.26 397.89,127.54 398.39,126.24 398.89,125.42 399.39,125.14 399.90,125.41 400.40,126.24 400.90,127.61 401.40,129.47 401.90,131.78 402.40,134.45 402.90,137.38 403.40,140.46" fill="none" stroke="#eecb9c" stroke-width="1.6" stroke-opacity="0.5" stroke-linejoin="round" stroke-linecap="round"/>
<polyline points="117.50,137.50 118.00,146.34 118.50,145.11 119.00,143.73 119.50,142.24 120.00,140.69 120.50,139.12 121.00,137.58 121.51,136.10 122.01,134.74 122.51,133.52 123.01,132.49 123.51,131.65 124.01,131.04 124.51,130.67 125.01,130.53 125.51,130.62 126.01,130.94 126.51,131.45 127.01,132.15 127.51,132.98 128.01,133.93 128.52,134.95 129.02,136.00 129.52,137.04 130.02,138.03 130.52,138.94 131.02,139.74 131.52,140.40 132.02,140.91 132.52,141.25 133.02,141.43 133.52,141.44 134.02,141.31 134.52,141.05 135.02,140.69 135.53,140.25 136.03,139.77 136.53,139.27 137.03,138.80 137.53,138.37 138.03,138.01 138.53,137.75 139.03,137.59 139.53,137.53 140.03,137.59 140.53,137.73 141.03,137.96 141.53,138.24 142.03,138.55 142.54,138.86 143.04,139.14 143.54,139.36 144.04,139.48 144.54,139.49 145.04,139.38 145.54,139.12 146.04,138.73 146.54,138.22 147.04,137.58 147.54,136.87 148.04,136.10 148.54,135.32 149.04,134.57 149.54,133.89 150.05,133.34 150.55,132.94 151.05,132.74 151.55,132.75 152.05,133.01 152.55,133.51 153.05,134.26 153.55,135.22 154.05,136.38 154.55,137.69 155.05,139.10 155.55,140.55 156.05,141.98 156.55,143.32 157.06,144.51 157.56,145.49 158.06,146.19 158.56,146.59 159.06,146.64 159.56,146.33 160.06,145.65 160.56,144.62 161.06,143.28 161.56,141.65 162.06,139.81 162.56,137.81 163.06,135.75 163.56,133.70 164.07,131.74 164.57,129.96 165.07,128.44 165.57,127.23 166.07,126.41 166.57,126.00 167.07,126.04 167.57,126.53 168.07,127.46 168.57,128.79 169.07,130.50 169.57,132.50 170.07,134.74 170.57,137.13 171.07,139.58 171.58,142.00 172.08,144.30 172.58,146.39 173.08,148.21 173.58,149.69 174.08,150.76 174.58,151.41 175.08,151.60 175.58,151.33 176.08,150.62 176.58,149.49 177.08,147.98 177.58,146.16 178.08,144.08 178.59,141.82 179.09,139.45 179.59,137.05 180.09,134.70 180.59,132.47 181.09,130.42 181.59,128.61 182.09,127.10 182.59,125.92 183.09,125.08 183.59,124.62 184.09,124.54 184.59,124.82 185.09,125.45 185.60,126.40 186.10,127.64 186.60,129.14 187.10,130.85 187.60,132.72 188.10,134.71 188.60,136.76 189.10,138.82 189.60,140.85 190.10,142.80 190.60,144.63 191.10,146.29 191.60,147.75 192.10,148.97 192.61,149.93 193.11,150.60 193.61,150.96 194.11,151.01 194.61,150.73 195.11,150.12 195.61,149.21 196.11,147.99 196.61,146.51 197.11,144.78 197.61,142.85 198.11,140.77 198.61,138.58 199.11,136.35 199.61,134.13 200.12,131.99 200.62,130.00 201.12,128.20 201.62,126.66 202.12,125.43 202.62,124.55 203.12,124.04 203.62,123.94 204.12,124.25 204.62,124.96 205.12,126.04 205.62,127.48 206.12,129.22 206.62,131.20 207.13,133.36 207.63,135.63 208.13,137.93 208.63,140.18 209.13,142.32 209.63,144.25 210.13,145.94 210.63,147.32 211.13,148.35 211.63,149.02 212.13,149.30 212.63,149.21 213.13,148.75 213.63,147.98 214.14,146.92 214.64,145.65 215.14,144.20 215.64,142.67 216.14,141.10 216.64,139.58 217.14,138.14 217.64,136.86 218.14,135.77 218.64,134.89 219.14,134.26 219.64,133.86 220.14,133.69 220.64,133.74 221.15,133.96 221.65,134.32 222.15,134.77 222.65,135.25 223.15,135.73 223.65,136.15 224.15,136.48 224.65,136.67 225.15,136.71 225.65,136.59 226.15,136.30 226.65,135.87 227.15,135.31 227.65,134.67 228.15,133.98 228.66,133.30 229.16,132.68 229.66,132.18 230.16,131.85 230.66,131.73 231.16,131.87 231.66,132.28 232.16,132.99 232.66,133.99 233.16,135.26 233.66,136.78 234.16,138.50 234.66,140.36 235.16,142.30 235.67,144.25 236.17,146.12 236.67,147.84 237.17,149.33 237.67,150.52 238.17,151.35 238.67,151.78 239.17,151.77 239.67,151.30 240.17,150.37 240.67,149.00 241.17,147.23 241.67,145.10 242.17,142.68 242.68,140.05 243.18,137.28 243.68,134.48 244.18,131.72 244.68,129.11 245.18,126.73 245.68,124.66 246.18,122.97 246.68,121.70 247.18,120.91 247.68,120.62 248.18,120.84 248.68,121.55 249.18,122.74 249.68,124.38 250.19,126.39 250.69,128.73 251.19,131.33 251.69,134.11 252.19,136.99 252.69,139.88 253.19,142.70 253.69,145.39 254.19,147.85 254.69,150.03 255.19,151.87 255.69,153.32 256.19,154.34 256.69,154.92 257.20,155.04 257.70,154.70 258.20,153.90 258.70,152.69 259.20,151.08 259.70,149.13 260.20,146.88 260.70,144.40 261.20,141.75 261.70,139.01 262.20,136.25 262.70,133.54 263.20,130.96 263.70,128.58 264.21,126.47 264.71,124.68 265.21,123.27 265.71,122.28 266.21,121.74 266.71,121.66 267.21,122.06 267.71,122.92 268.21,124.21 268.71,125.90 269.21,127.94 269.71,130.25 270.21,132.78 270.71,135.43 271.22,138.12 271.72,140.77 272.22,143.28 272.72,145.58 273.22,147.58 273.72,149.23 274.22,150.47 274.72,151.26 275.22,151.58 275.72,151.43 276.22,150.83 276.72,149.80 277.22,148.39 277.72,146.67 278.22,144.70 278.73,142.58 279.23,140.39 279.73,138.22 280.23,136.15 280.73,134.27 281.23,132.64 281.73,131.32 282.23,130.36 282.73,129.78 283.23,129.59 283.73,129.77 284.23,130.30 284.73,131.13 285.23,132.21 285.74,133.46 286.24,134.81 286.74,136.19 287.24,137.51 287.74,138.71 288.24,139.73 288.74,140.50 289.24,140.99 289.74,141.20 290.24,141.10 290.74,140.72 291.24,140.09 291.74,139.26 292.24,138.28 292.75,137.23 293.25,136.17 293.75,135.19 294.25,134.35 294.75,133.72 295.25,133.36 295.75,133.29 296.25,133.56 296.75,134.15 297.25,135.05 297.75,136.24 298.25,137.66 298.75,139.24 299.25,140.91 299.75,142.58 300.26,144.16 300.76,145.57 301.26,146.70 301.76,147.50 302.26,147.90 302.76,147.87 303.26,147.37 303.76,146.41 304.26,145.00 304.76,143.21 305.26,141.08 305.76,138.71 306.26,136.19 306.76,133.62 307.27,131.13 307.77,128.82 308.27,126.80 308.77,125.17 309.27,124.01 309.77,123.38 310.27,123.33 310.77,123.87 311.27,124.99 311.77,126.66 312.27,128.82 312.77,131.39 313.27,134.28 313.77,137.37 314.28,140.54 314.78,143.66 315.28,146.62 315.78,149.29 316.28,151.56 316.78,153.34 317.28,154.56 317.78,155.18 318.28,155.15 318.78,154.50 319.28,153.23 319.78,151.39 320.28,149.06 320.78,146.31 321.29,143.26 321.79,140.00 322.29,136.66 322.79,133.35 323.29,130.19 323.79,127.29 324.29,124.74 324.79,122.62 325.29,121.00 325.79,119.93 326.29,119.43 326.79,119.52 327.29,120.18 327.79,121.39 328.29,123.10 328.80,125.26 329.30,127.79 329.80,130.62 330.30,133.67 330.80,136.85 331.30,140.06 331.80,143.22 332.30,146.25 332.80,149.07 333.30,151.59 333.80,153.77 334.30,155.53 334.80,156.85 335.30,157.67 335.81,157.98 336.31,157.76 336.81,157.00 337.31,155.73 337.81,153.96 338.31,151.72 338.81,149.06 339.31,146.04 339.81,142.72 340.31,139.18 340.81,135.51 341.31,131.80 341.81,128.16 342.31,124.67 342.82,121.44 343.32,118.58 343.82,116.18 344.32,114.32 344.82,113.08 345.32,112.51 345.82,112.66 346.32,113.56 346.82,115.19 347.32,117.54 347.82,120.55 348.32,124.16 348.82,128.27 349.32,132.77 349.83,137.52 350.33,142.39 350.83,147.23 351.33,151.87 351.83,156.18 352.33,159.99 352.83,163.19 353.33,165.66 353.83,167.30 354.33,168.06 354.83,167.90 355.33,166.82 355.83,164.85 356.33,162.04 356.83,158.49 357.34,154.31 357.84,149.63 358.34,144.62 358.84,139.43 359.34,134.23 359.84,129.20 360.34,124.48 360.84,120.24 361.34,116.59 361.84,113.64 362.34,111.47 362.84,110.14 363.34,109.65 363.84,109.99 364.35,111.14 364.85,113.02 365.35,115.55 365.85,118.62 366.35,122.11 366.85,125.90 367.35,129.85 367.85,133.84 368.35,137.75 368.85,141.47 369.35,144.90 369.85,147.97 370.35,150.62 370.85,152.80 371.36,154.51 371.86,155.73 372.36,156.49 372.86,156.81 373.36,156.72 373.86,156.27 374.36,155.52 374.86,154.51 375.36,153.29 375.86,151.90 376.36,150.38 376.86,148.77 377.36,147.08 377.86,145.33 378.36,143.54 378.87,141.70 379.37,139.82 379.87,137.89 380.37,135.93 380.87,133.94 381.37,131.93 381.87,129.92 382.37,127.92 382.87,125.98 383.37,124.14 383.87,122.44 384.37,120.93 384.87,119.67 385.37,118.72 385.88,118.13 386.38,117.95 386.88,118.23 387.38,118.97 387.88,120.22 388.38,121.96 388.88,124.19 389.38,126.86 389.88,129.92 390.38,133.32 390.88,136.97 391.38,140.77 391.88,144.62 392.38,148.42 392.89,152.05 393.39,155.41 393.89,158.38 394.39,160.88 394.89,162.83 395.39,164.15 395.89,164.80 396.39,164.76 396.89,164.00 397.39,162.56 397.89,160.45 398.39,157.73 398.89,154.48 399.39,150.76 399.90,146.69 400.40,142.36 400.90,137.88 401.40,133.38 401.90,128.95 402.40,124.73 402.90,120.80 403.40,117.27" fill="none" stroke="#eecb9c" stroke-width="1.6" stroke-opacity="0.5" stroke-linejoin="round" stroke-linecap="round"/>
<polyline points="117.50,137.50 118.00,150.48 118.50,150.38 119.00,149.79 119.50,148.76 120.00,147.32 120.50,145.55 121.00,143.51 121.51,141.29 122.01,138.99 122.51,136.70 123.01,134.52 123.51,132.52 124.01,130.79 124.51,129.37 125.01,128.32 125.51,127.67 126.01,127.40 126.51,127.53 127.01,128.01 127.51,128.81 128.01,129.88 128.52,131.15 129.02,132.56 129.52,134.03 130.02,135.50 130.52,136.91 131.02,138.21 131.52,139.36 132.02,140.32 132.52,141.08 133.02,141.63 133.52,141.98 134.02,142.16 134.52,142.18 135.02,142.08 135.53,141.90 136.03,141.67 136.53,141.43 137.03,141.21 137.53,141.04 138.03,140.92 138.53,140.86 139.03,140.86 139.53,140.91 140.03,140.98 140.53,141.05 141.03,141.08 141.53,141.05 142.03,140.92 142.54,140.66 143.04,140.25 143.54,139.68 144.04,138.95 144.54,138.07 145.04,137.06 145.54,135.95 146.04,134.78 146.54,133.62 147.04,132.50 147.54,131.51 148.04,130.69 148.54,130.10 149.04,129.79 149.54,129.79 150.05,130.13 150.55,130.82 151.05,131.84 151.55,133.16 152.05,134.74 152.55,136.52 153.05,138.42 153.55,140.37 154.05,142.26 154.55,144.01 155.05,145.53 155.55,146.74 156.05,147.57 156.55,147.97 157.06,147.90 157.56,147.35 158.06,146.34 158.56,144.90 159.06,143.09 159.56,140.99 160.06,138.69 160.56,136.30 161.06,133.93 161.56,131.71 162.06,129.75 162.56,128.15 163.06,127.00 163.56,126.37 164.07,126.30 164.57,126.82 165.07,127.91 165.57,129.53 166.07,131.63 166.57,134.11 167.07,136.86 167.57,139.76 168.07,142.66 168.57,145.43 169.07,147.93 169.57,150.04 170.07,151.64 170.57,152.65 171.07,153.00 171.58,152.66 172.08,151.63 172.58,149.94 173.08,147.66 173.58,144.87 174.08,141.70 174.58,138.28 175.08,134.75 175.58,131.29 176.08,128.03 176.58,125.14 177.08,122.73 177.58,120.93 178.08,119.82 178.59,119.45 179.09,119.84 179.59,120.99 180.09,122.84 180.59,125.31 181.09,128.30 181.59,131.69 182.09,135.32 182.59,139.04 183.09,142.70 183.59,146.13 184.09,149.19 184.59,151.77 185.09,153.76 185.60,155.08 186.10,155.70 186.60,155.60 187.10,154.80 187.60,153.36 188.10,151.36 188.60,148.89 189.10,146.08 189.60,143.06 190.10,139.97 190.60,136.94 191.10,134.10 191.60,131.56 192.10,129.43 192.61,127.77 193.11,126.63 193.61,126.03 194.11,125.97 194.61,126.42 195.11,127.31 195.61,128.58 196.11,130.13 196.61,131.88 197.11,133.71 197.61,135.52 198.11,137.23 198.61,138.75 199.11,140.01 199.61,140.96 200.12,141.58 200.62,141.86 201.12,141.82 201.62,141.48 202.12,140.90 202.62,140.13 203.12,139.26 203.62,138.36 204.12,137.50 204.62,136.75 205.12,136.18 205.62,135.82 206.12,135.72 206.62,135.89 207.13,136.33 207.63,137.02 208.13,137.91 208.63,138.96 209.13,140.10 209.63,141.27 210.13,142.38 210.63,143.38 211.13,144.19 211.63,144.74 212.13,145.01 212.63,144.96 213.13,144.57 213.63,143.85 214.14,142.83 214.64,141.54 215.14,140.04 215.64,138.41 216.14,136.70 216.64,135.01 217.14,133.41 217.64,131.98 218.14,130.78 218.64,129.87 219.14,129.28 219.64,129.06 220.14,129.19 220.64,129.67 221.15,130.46 221.65,131.53 222.15,132.82 222.65,134.26 223.15,135.78 223.65,137.30 224.15,138.75 224.65,140.07 225.15,141.20 225.65,142.09 226.15,142.71 226.65,143.06 227.15,143.13 227.65,142.93 228.15,142.51 228.66,141.91 229.16,141.17 229.66,140.36 230.16,139.53 230.66,138.75 231.16,138.06 231.66,137.52 232.16,137.15 232.66,136.97 233.16,137.00 233.66,137.22 234.16,137.60 234.66,138.12 235.16,138.73 235.67,139.38 236.17,140.01 236.67,140.57 237.17,141.00 237.67,141.26 238.17,141.31 238.67,141.13 239.17,140.72 239.67,140.07 240.17,139.21 240.67,138.18 241.17,137.02 241.67,135.79 242.17,134.57 242.68,133.41 243.18,132.39 243.68,131.57 244.18,130.99 244.68,130.71 245.18,130.75 245.68,131.12 246.18,131.81 246.68,132.79 247.18,134.02 247.68,135.45 248.18,137.01 248.68,138.61 249.18,140.17 249.68,141.63 250.19,142.89 250.69,143.89 251.19,144.58 251.69,144.92 252.19,144.90 252.69,144.50 253.19,143.76 253.69,142.71 254.19,141.41 254.69,139.94 255.19,138.39 255.69,136.83 256.19,135.37 256.69,134.10 257.20,133.08 257.70,132.40 258.20,132.08 258.70,132.17 259.20,132.67 259.70,133.56 260.20,134.79 260.70,136.30 261.20,138.01 261.70,139.82 262.20,141.64 262.70,143.35 263.20,144.84 263.70,146.02 264.21,146.80 264.71,147.12 265.21,146.93 265.71,146.23 266.21,145.01 266.71,143.33 267.21,141.24 267.71,138.84 268.21,136.23 268.71,133.54 269.21,130.90 269.71,128.45 270.21,126.31 270.71,124.59 271.22,123.41 271.72,122.83 272.22,122.91 272.72,123.65 273.22,125.04 273.72,127.04 274.22,129.57 274.72,132.51 275.22,135.76 275.72,139.15 276.22,142.55 276.72,145.79 277.22,148.72 277.72,151.22 278.22,153.17 278.73,154.48 279.23,155.08 279.73,154.96 280.23,154.11 280.73,152.60 281.23,150.48 281.73,147.87 282.23,144.89 282.73,141.69 283.23,138.42 283.73,135.23 284.23,132.28 284.73,129.69 285.23,127.59 285.74,126.06 286.24,125.17 286.74,124.92 287.24,125.33 287.74,126.33 288.24,127.87 288.74,129.83 289.24,132.09 289.74,134.52 290.24,136.98 290.74,139.31 291.24,141.40 291.74,143.11 292.24,144.36 292.75,145.07 293.25,145.22 293.75,144.80 294.25,143.83 294.75,142.39 295.25,140.57 295.75,138.48 296.25,136.25 296.75,134.04 297.25,131.98 297.75,130.22 298.25,128.87 298.75,128.05 299.25,127.82 299.75,128.24 300.26,129.30 300.76,130.99 301.26,133.23 301.76,135.93 302.26,138.97 302.76,142.19 303.26,145.43 303.76,148.52 304.26,151.30 304.76,153.60 305.26,155.29 305.76,156.26 306.26,156.43 306.76,155.76 307.27,154.25 307.77,151.95 308.27,148.93 308.77,145.32 309.27,141.26 309.77,136.94 310.27,132.53 310.77,128.25 311.27,124.28 311.77,120.81 312.27,118.01 312.77,116.00 313.27,114.88 313.77,114.71 314.28,115.50 314.78,117.23 315.28,119.82 315.78,123.14 316.28,127.07 316.78,131.41 317.28,135.98 317.78,140.57 318.28,144.98 318.78,149.02 319.28,152.51 319.78,155.30 320.28,157.28 320.78,158.38 321.29,158.56 321.79,157.85 322.29,156.28 322.79,153.96 323.29,151.02 323.79,147.60 324.29,143.88 324.79,140.05 325.29,136.28 325.79,132.77 326.29,129.66 326.79,127.10 327.29,125.19 327.79,124.01 328.29,123.58 328.80,123.91 329.30,124.95 329.80,126.61 330.30,128.80 330.80,131.38 331.30,134.20 331.80,137.11 332.30,139.95 332.80,142.56 333.30,144.82 333.80,146.61 334.30,147.84 334.80,148.48 335.30,148.48 335.81,147.87 336.31,146.69 336.81,145.02 337.31,142.95 337.81,140.61 338.31,138.13 338.81,135.63 339.31,133.26 339.81,131.13 340.31,129.36 340.81,128.03 341.31,127.21 341.81,126.92 342.31,127.18 342.82,127.95 343.32,129.20 343.82,130.84 344.32,132.79 344.82,134.95 345.32,137.19 345.82,139.40 346.32,141.48 346.82,143.33 347.32,144.87 347.82,146.03 348.32,146.78 348.82,147.10 349.32,147.00 349.83,146.51 350.33,145.67 350.83,144.57 351.33,143.27 351.83,141.86 352.33,140.43 352.83,139.06 353.33,137.83 353.83,136.80 354.33,136.01 354.83,135.49 355.33,135.24 355.83,135.26 356.33,135.51 356.83,135.95 357.34,136.51 357.84,137.12 358.34,137.73 358.84,138.25 359.34,138.63 359.84,138.81 360.34,138.76 360.84,138.44 361.34,137.88 361.84,137.07 362.34,136.05 362.84,134.89 363.34,133.64 363.84,132.39 364.35,131.22 364.85,130.21 365.35,129.45 365.85,129.00 366.35,128.91 366.85,129.23 367.35,129.98 367.85,131.14 368.35,132.70 368.85,134.59 369.35,136.75 369.85,139.08 370.35,141.50 370.85,143.89 371.36,146.14 371.86,148.15 372.36,149.82 372.86,151.07 373.36,151.83 373.86,152.07 374.36,151.76 374.86,150.93 375.36,149.61 375.86,147.85 376.36,145.73 376.86,143.36 377.36,140.83 377.86,138.27 378.36,135.78 378.87,133.48 379.37,131.44 379.87,129.77 380.37,128.50 380.87,127.68 381.37,127.32 381.87,127.41 382.37,127.89 382.87,128.73 383.37,129.83 383.87,131.13 384.37,132.52 384.87,133.91 385.37,135.21 385.88,136.36 386.38,137.27 386.88,137.92 387.38,138.28 387.88,138.36 388.38,138.17 388.88,137.77 389.38,137.22 389.88,136.59 390.38,135.97 390.88,135.45 391.38,135.12 391.88,135.05 392.38,135.30 392.89,135.92 393.39,136.91 393.89,138.27 394.39,139.96 394.89,141.92 395.39,144.06 395.89,146.27 396.39,148.43 396.89,150.40 397.39,152.07 397.89,153.30 398.39,153.98 398.89,154.02 399.39,153.37 399.90,151.99 400.40,149.89 400.90,147.12 401.40,143.77 401.90,139.94 402.40,135.78 402.90,131.48 403.40,127.21" fill="none" stroke="#eecb9c" stroke-width="1.6" stroke-opacity="0.5" stroke-linejoin="round" stroke-linecap="round"/>
<polyline points="117.50,137.50 118.00,125.92 118.50,128.34 119.00,131.21 119.50,134.40 120.00,137.78 120.50,141.18 121.00,144.46 121.51,147.46 122.01,150.04 122.51,152.10 123.01,153.53 123.51,154.26 124.01,154.27 124.51,153.56 125.01,152.15 125.51,150.12 126.01,147.57 126.51,144.60 127.01,141.36 127.51,137.99 128.01,134.66 128.52,131.51 129.02,128.68 129.52,126.30 130.02,124.47 130.52,123.26 131.02,122.72 131.52,122.87 132.02,123.68 132.52,125.10 133.02,127.06 133.52,129.44 134.02,132.14 134.52,135.02 135.02,137.93 135.53,140.75 136.03,143.34 136.53,145.59 137.03,147.40 137.53,148.71 138.03,149.46 138.53,149.65 139.03,149.28 139.53,148.40 140.03,147.07 140.53,145.37 141.03,143.42 141.53,141.31 142.03,139.17 142.54,137.10 143.04,135.21 143.54,133.59 144.04,132.31 144.54,131.42 145.04,130.95 145.54,130.91 146.04,131.26 146.54,131.97 147.04,132.98 147.54,134.20 148.04,135.56 148.54,136.95 149.04,138.28 149.54,139.47 150.05,140.45 150.55,141.16 151.05,141.55 151.55,141.61 152.05,141.34 152.55,140.76 153.05,139.92 153.55,138.88 154.05,137.71 154.55,136.50 155.05,135.33 155.55,134.29 156.05,133.46 156.55,132.90 157.06,132.67 157.56,132.80 158.06,133.30 158.56,134.15 159.06,135.32 159.56,136.76 160.06,138.39 160.56,140.13 161.06,141.86 161.56,143.51 162.06,144.96 162.56,146.12 163.06,146.92 163.56,147.29 164.07,147.19 164.57,146.61 165.07,145.55 165.57,144.06 166.07,142.19 166.57,140.03 167.07,137.67 167.57,135.23 168.07,132.83 168.57,130.58 169.07,128.62 169.57,127.03 170.07,125.91 170.57,125.33 171.07,125.33 171.58,125.91 172.08,127.06 172.58,128.74 173.08,130.87 173.58,133.36 174.08,136.09 174.58,138.93 175.08,141.76 175.58,144.42 176.08,146.80 176.58,148.78 177.08,150.27 177.58,151.18 178.08,151.48 178.59,151.15 179.09,150.21 179.59,148.70 180.09,146.69 180.59,144.30 181.09,141.62 181.59,138.80 182.09,135.97 182.59,133.26 183.09,130.81 183.59,128.73 184.09,127.12 184.59,126.06 185.09,125.58 185.60,125.70 186.10,126.41 186.60,127.66 187.10,129.39 187.60,131.49 188.10,133.86 188.60,136.37 189.10,138.89 189.60,141.30 190.10,143.48 190.60,145.31 191.10,146.71 191.60,147.62 192.10,147.99 192.61,147.83 193.11,147.16 193.61,146.01 194.11,144.45 194.61,142.59 195.11,140.53 195.61,138.37 196.11,136.24 196.61,134.26 197.11,132.52 197.61,131.12 198.11,130.14 198.61,129.61 199.11,129.56 199.61,129.98 200.12,130.86 200.62,132.12 201.12,133.70 201.62,135.50 202.12,137.43 202.62,139.37 203.12,141.21 203.62,142.85 204.12,144.21 204.62,145.20 205.12,145.78 205.62,145.90 206.12,145.58 206.62,144.82 207.13,143.67 207.63,142.19 208.13,140.46 208.63,138.59 209.13,136.66 209.63,134.80 210.13,133.09 210.63,131.63 211.13,130.51 211.63,129.77 212.13,129.47 212.63,129.62 213.13,130.20 213.63,131.20 214.14,132.55 214.64,134.18 215.14,136.02 215.64,137.95 216.14,139.89 216.64,141.72 217.14,143.36 217.64,144.71 218.14,145.71 218.64,146.31 219.14,146.49 219.64,146.22 220.14,145.53 220.64,144.46 221.15,143.07 221.65,141.43 222.15,139.62 222.65,137.74 223.15,135.89 223.65,134.17 224.15,132.64 224.65,131.41 225.15,130.51 225.65,129.99 226.15,129.88 226.65,130.17 227.15,130.84 227.65,131.85 228.15,133.14 228.66,134.65 229.16,136.28 229.66,137.96 230.16,139.60 230.66,141.12 231.16,142.44 231.66,143.51 232.16,144.27 232.66,144.69 233.16,144.77 233.66,144.51 234.16,143.94 234.66,143.08 235.16,142.01 235.67,140.77 236.17,139.43 236.67,138.07 237.17,136.76 237.67,135.56 238.17,134.52 238.67,133.69 239.17,133.09 239.67,132.76 240.17,132.68 240.67,132.86 241.17,133.26 241.67,133.84 242.17,134.58 242.68,135.42 243.18,136.30 243.68,137.19 244.18,138.03 244.68,138.79 245.18,139.43 245.68,139.94 246.18,140.30 246.68,140.52 247.18,140.60 247.68,140.56 248.18,140.42 248.68,140.22 249.18,139.97 249.68,139.71 250.19,139.47 250.69,139.27 251.19,139.11 251.69,139.01 252.19,138.97 252.69,138.96 253.19,138.99 253.69,139.02 254.19,139.02 254.69,138.98 255.19,138.86 255.69,138.64 256.19,138.30 256.69,137.85 257.20,137.27 257.70,136.58 258.20,135.80 258.70,134.98 259.20,134.14 259.70,133.35 260.20,132.65 260.70,132.10 261.20,131.76 261.70,131.67 262.20,131.87 262.70,132.39 263.20,133.22 263.70,134.36 264.21,135.79 264.71,137.46 265.21,139.30 265.71,141.25 266.21,143.20 266.71,145.06 267.21,146.74 267.71,148.13 268.21,149.15 268.71,149.72 269.21,149.78 269.71,149.29 270.21,148.25 270.71,146.68 271.22,144.61 271.72,142.12 272.22,139.31 272.72,136.29 273.22,133.20 273.72,130.18 274.22,127.38 274.72,124.93 275.22,122.98 275.72,121.63 276.22,120.97 276.72,121.06 277.22,121.92 277.72,123.54 278.22,125.86 278.73,128.80 279.23,132.25 279.73,136.05 280.23,140.03 280.73,144.02 281.23,147.83 281.73,151.26 282.23,154.16 282.73,156.37 283.23,157.78 283.73,158.30 284.23,157.88 284.73,156.54 285.23,154.31 285.74,151.29 286.24,147.61 286.74,143.43 287.24,138.94 287.74,134.35 288.24,129.88 288.74,125.74 289.24,122.14 289.74,119.25 290.24,117.22 290.74,116.15 291.24,116.11 291.74,117.11 292.24,119.10 292.75,122.00 293.25,125.68 293.75,129.96 294.25,134.64 294.75,139.50 295.25,144.30 295.75,148.80 296.25,152.79 296.75,156.06 297.25,158.45 297.75,159.84 298.25,160.16 298.75,159.38 299.25,157.53 299.75,154.71 300.26,151.04 300.76,146.71 301.26,141.92 301.76,136.91 302.26,131.93 302.76,127.22 303.26,123.03 303.76,119.56 304.26,116.99 304.76,115.45 305.26,115.02 305.76,115.74 306.26,117.57 306.76,120.44 307.27,124.20 307.77,128.67 308.27,133.64 308.77,138.86 309.27,144.07 309.77,149.02 310.27,153.46 310.77,157.17 311.27,159.96 311.77,161.69 312.27,162.26 312.77,161.64 313.27,159.85 313.77,156.98 314.28,153.15 314.78,148.54 315.28,143.39 315.78,137.93 316.28,132.42 316.78,127.14 317.28,122.34 317.78,118.25 318.28,115.07 318.78,112.95 319.28,112.01 319.78,112.28 320.28,113.76 320.78,116.38 321.29,120.02 321.79,124.50 322.29,129.61 322.79,135.11 323.29,140.75 323.79,146.24 324.29,151.35 324.79,155.83 325.29,159.47 325.79,162.11 326.29,163.62 326.79,163.96 327.29,163.10 327.79,161.10 328.29,158.06 328.80,154.14 329.30,149.51 329.80,144.41 330.30,139.08 330.80,133.76 331.30,128.70 331.80,124.13 332.30,120.25 332.80,117.24 333.30,115.21 333.80,114.25 334.30,114.37 334.80,115.56 335.30,117.72 335.81,120.75 336.31,124.48 336.81,128.72 337.31,133.26 337.81,137.89 338.31,142.39 338.81,146.54 339.31,150.17 339.81,153.12 340.31,155.27 340.81,156.55 341.31,156.92 341.81,156.40 342.31,155.03 342.82,152.93 343.32,150.21 343.82,147.02 344.32,143.54 344.82,139.94 345.32,136.41 345.82,133.12 346.32,130.21 346.82,127.82 347.32,126.04 347.82,124.93 348.32,124.52 348.82,124.81 349.32,125.74 349.83,127.24 350.33,129.21 350.83,131.52 351.33,134.04 351.83,136.63 352.33,139.15 352.83,141.47 353.33,143.47 353.83,145.06 354.33,146.17 354.83,146.76 355.33,146.82 355.83,146.37 356.33,145.45 356.83,144.13 357.34,142.50 357.84,140.67 358.34,138.73 358.84,136.81 359.34,135.00 359.84,133.42 360.34,132.14 360.84,131.23 361.34,130.73 361.84,130.65 362.34,131.00 362.84,131.74 363.34,132.82 363.84,134.19 364.35,135.75 364.85,137.43 365.35,139.12 365.85,140.74 366.35,142.20 366.85,143.43 367.35,144.36 367.85,144.95 368.35,145.19 368.85,145.05 369.35,144.56 369.85,143.75 370.35,142.66 370.85,141.36 371.36,139.91 371.86,138.39 372.36,136.88 372.86,135.44 373.36,134.14 373.86,133.04 374.36,132.19 374.86,131.60 375.36,131.31 375.86,131.31 376.36,131.58 376.86,132.10 377.36,132.84 377.86,133.74 378.36,134.77 378.87,135.86 379.37,136.97 379.87,138.05 380.37,139.06 380.87,139.96 381.37,140.72 381.87,141.33 382.37,141.78 382.87,142.07 383.37,142.21 383.87,142.21 384.37,142.09 384.87,141.88 385.37,141.59 385.88,141.25 386.38,140.88 386.88,140.49 387.38,140.08 387.88,139.68 388.38,139.27 388.88,138.85 389.38,138.43 389.88,137.98 390.38,137.52 390.88,137.02 391.38,136.50 391.88,135.95 392.38,135.37 392.89,134.79 393.39,134.22 393.89,133.69 394.39,133.22 394.89,132.85 395.39,132.60 395.89,132.51 396.39,132.60 396.89,132.90 397.39,133.42 397.89,134.16 398.39,135.12 398.89,136.27 399.39,137.58 399.90,139.01 400.40,140.51 400.90,142.00 401.40,143.43 401.90,144.73 402.40,145.82 402.90,146.64 403.40,147.13" fill="none" stroke="#eecb9c" stroke-width="1.6" stroke-opacity="0.5" stroke-linejoin="round" stroke-linecap="round"/>
</g>
<polyline points="117.50,137.00 118.34,137.10 119.54,137.24 120.94,137.41 122.41,137.59 123.81,137.79 125.00,138.00 125.94,138.21 126.74,138.43 127.47,138.66 128.20,138.91 129.02,139.19 130.00,139.50 131.22,139.86 132.63,140.26 134.12,140.69 135.59,141.13 136.92,141.57 138.00,142.00 138.75,142.48 139.26,143.04 139.62,143.59 139.96,144.07 140.38,144.40 141.00,144.50 141.84,144.30 142.81,143.85 143.88,143.25 144.96,142.59 146.02,141.98 147.00,141.50 147.89,141.17 148.74,140.91 149.56,140.69 150.37,140.48 151.18,140.26 152.00,140.00 152.82,139.66 153.63,139.26 154.44,138.84 155.26,138.46 156.11,138.17 157.00,138.00 157.95,137.98 158.96,138.07 160.00,138.25 161.04,138.48 162.05,138.74 163.00,139.00 163.87,139.28 164.67,139.59 165.44,139.94 166.22,140.30 167.06,140.66 168.00,141.00 169.04,141.34 170.15,141.69 171.31,142.03 172.52,142.37 173.75,142.70 175.00,143.00 176.29,143.33 177.63,143.69 179.00,144.03 180.37,144.31 181.71,144.49 183.00,144.50 184.22,144.30 185.41,143.91 186.56,143.41 187.70,142.87 188.84,142.38 190.00,142.00 191.21,141.75 192.48,141.56 193.75,141.41 194.96,141.28 196.06,141.15 197.00,141.00 197.73,140.84 198.30,140.70 198.75,140.56 199.15,140.41 199.55,140.22 200.00,140.00 200.49,139.76 200.96,139.52 201.44,139.25 201.93,138.93 202.44,138.52 203.00,138.00 203.62,137.34 204.30,136.56 205.00,135.69 205.70,134.78 206.38,133.87 207.00,133.00 207.56,132.25 208.07,131.59 208.56,130.94 209.04,130.19 209.51,129.24 210.00,128.00 210.50,126.45 211.00,124.67 211.50,122.69 212.00,120.56 212.50,118.31 213.00,116.00 213.49,113.51 213.97,110.79 214.46,107.95 214.95,105.13 215.46,102.44 216.00,100.00 216.59,97.63 217.21,95.19 217.86,92.89 218.51,90.92 219.13,89.49 219.70,88.80 220.23,88.97 220.72,89.84 221.19,91.26 221.64,93.04 222.08,95.02 222.50,97.00 222.91,99.09 223.29,101.46 223.66,104.01 224.02,106.67 224.36,109.36 224.70,112.00 225.02,114.64 225.32,117.37 225.61,120.12 225.90,122.85 226.19,125.50 226.50,128.00 226.79,130.41 227.06,132.78 227.33,135.06 227.64,137.22 228.02,139.22 228.50,141.00 229.12,142.46 229.87,143.59 230.69,144.56 231.52,145.52 232.31,146.61 233.00,148.00 233.59,149.59 234.11,151.26 234.59,153.06 235.06,155.07 235.52,157.36 236.00,160.00 236.51,163.17 237.02,166.85 237.53,170.81 238.04,174.81 238.53,178.62 239.00,182.00 239.45,185.02 239.87,187.89 240.28,190.56 240.69,193.00 241.09,195.16 241.50,197.00 241.91,198.54 242.31,199.81 242.72,200.81 243.13,201.52 243.55,201.92 244.00,202.00 244.47,201.78 244.96,201.26 245.47,200.44 245.98,199.30 246.49,197.82 247.00,196.00 247.50,193.69 248.00,190.89 248.50,187.75 249.00,184.44 249.50,181.14 250.00,178.00 250.49,174.98 250.96,171.93 251.44,168.88 251.93,165.85 252.44,162.88 253.00,160.00 253.60,157.26 254.22,154.67 254.88,152.12 255.56,149.56 256.26,146.88 257.00,144.00 257.79,140.81 258.65,137.33 259.53,133.75 260.41,130.22 261.24,126.92 262.00,124.00 262.67,121.44 263.29,119.09 263.87,116.96 264.42,115.06 264.96,113.40 265.50,112.00 266.04,110.84 266.57,109.90 267.09,109.21 267.60,108.77 268.10,108.59 268.60,108.70 269.08,108.98 269.53,109.40 269.97,110.08 270.43,111.16 270.93,112.76 271.50,115.00 272.15,118.08 272.87,121.95 273.62,126.33 274.40,130.97 275.17,135.62 275.90,140.00 276.60,144.26 277.29,148.63 277.97,153.00 278.65,157.26 279.33,161.30 280.00,165.00 280.68,168.44 281.37,171.71 282.05,174.76 282.72,177.53 283.38,179.96 284.00,182.00 284.59,183.64 285.14,184.93 285.67,185.88 286.20,186.51 286.73,186.85 287.30,186.90 287.90,186.58 288.53,185.85 289.17,184.82 289.80,183.60 290.42,182.29 291.00,181.00 291.54,179.77 292.05,178.53 292.54,177.19 293.03,175.71 293.51,174.00 294.00,172.00 294.49,169.73 294.98,167.26 295.46,164.56 295.96,161.63 296.47,158.45 297.00,155.00 297.57,151.11 298.19,146.74 298.81,142.12 299.44,137.48 300.04,133.03 300.60,129.00 301.10,125.46 301.56,122.26 302.00,119.25 302.44,116.30 302.90,113.26 303.40,110.00 303.95,106.39 304.51,102.52 305.11,98.57 305.72,94.71 306.35,91.13 307.00,88.00 307.65,85.16 308.29,82.43 308.96,79.98 309.66,77.97 310.44,76.55 311.30,75.90 312.26,76.21 313.29,77.40 314.39,79.18 315.54,81.29 316.75,83.46 318.00,85.40 319.33,87.21 320.76,89.13 322.24,91.10 323.72,93.07 325.16,94.99 326.50,96.80 327.73,98.43 328.88,99.89 329.98,101.31 331.08,102.77 332.20,104.40 333.40,106.30 334.72,108.68 336.15,111.51 337.61,114.50 339.02,117.37 340.31,119.83 341.40,121.60 342.21,122.45 342.79,122.56 343.24,122.26 343.69,121.90 344.24,121.80 345.00,122.30 346.02,123.48 347.21,125.08 348.51,126.95 349.83,128.93 351.12,130.86 352.30,132.60 353.35,134.13 354.32,135.59 355.25,137.00 356.18,138.40 357.15,139.82 358.20,141.30 359.31,142.91 360.45,144.65 361.62,146.41 362.85,148.09 364.14,149.59 365.50,150.80 367.01,151.79 368.67,152.66 370.39,153.34 372.09,153.79 373.65,153.92 375.00,153.70 376.07,152.83 376.91,151.30 377.63,149.47 378.32,147.69 379.08,146.31 380.00,145.70 381.13,146.02 382.40,147.01 383.74,148.41 385.07,149.94 386.31,151.33 387.40,152.30 388.29,152.88 389.04,153.31 389.70,153.59 390.34,153.74 391.02,153.78 391.80,153.70 392.69,153.42 393.63,152.92 394.61,152.29 395.61,151.66 396.62,151.12 397.60,150.80 398.63,150.72 399.75,150.79 400.86,150.97 401.90,151.19 402.77,151.38 403.40,151.50" fill="none" stroke="#000" stroke-width="4" stroke-opacity="1" stroke-linejoin="round" stroke-linecap="round"/>
<polyline points="117.50,137.50 118.29,137.37 119.35,137.22 120.62,137.03 122.04,136.78 123.52,136.44 125.00,136.00 126.56,135.31 128.26,134.35 130.03,133.31 131.80,132.37 133.48,131.71 135.00,131.50 136.36,131.91 137.63,132.81 138.81,134.00 139.93,135.24 140.98,136.31 142.00,137.00 142.97,137.31 143.89,137.43 144.75,137.38 145.56,137.19 146.31,136.88 147.00,136.50 147.62,136.01 148.15,135.39 148.62,134.66 149.07,133.83 149.52,132.94 150.00,132.00 150.51,130.72 151.02,129.04 151.53,127.28 152.04,125.80 152.53,124.92 153.00,125.00 153.42,126.28 153.80,128.56 154.16,131.44 154.54,134.56 154.97,137.53 155.50,140.00 156.13,142.07 156.83,144.07 157.59,145.94 158.39,147.59 159.20,148.97 160.00,150.00 160.80,150.68 161.63,151.07 162.47,151.19 163.31,151.04 164.16,150.64 165.00,150.00 165.83,149.00 166.67,147.61 167.50,145.97 168.33,144.22 169.17,142.52 170.00,141.00 170.83,139.59 171.67,138.17 172.50,136.78 173.33,135.50 174.17,134.39 175.00,133.50 175.83,132.85 176.67,132.39 177.50,132.09 178.33,131.94 179.17,131.92 180.00,132.00 180.83,132.23 181.67,132.63 182.50,133.16 183.33,133.76 184.17,134.39 185.00,135.00 185.86,135.68 186.74,136.48 187.62,137.31 188.48,138.07 189.28,138.67 190.00,139.00 190.59,138.93 191.07,138.52 191.50,137.94 191.93,137.37 192.41,137.00 193.00,137.00 193.72,137.51 194.52,138.41 195.38,139.50 196.26,140.59 197.14,141.49 198.00,142.00 198.81,142.13 199.58,142.04 200.35,141.76 201.16,141.31 202.03,140.72 203.00,140.00 204.10,138.97 205.32,137.58 206.60,136.04 207.90,134.58 209.19,133.42 210.40,132.80 211.53,132.88 212.62,133.52 213.68,134.46 214.75,135.46 215.85,136.26 217.00,136.60 218.17,136.33 219.31,135.61 220.49,134.69 221.75,133.81 223.14,133.24 224.70,133.20 226.49,133.98 228.49,135.42 230.62,137.16 232.80,138.81 234.95,140.02 237.00,140.40 238.98,139.66 240.97,138.04 242.93,135.97 244.84,133.87 246.67,132.17 248.40,131.30 250.00,131.37 251.50,132.07 252.91,133.17 254.28,134.44 255.63,135.66 257.00,136.60 258.38,137.28 259.75,137.88 261.10,138.43 262.43,138.95 263.73,139.47 265.00,140.00 266.27,140.57 267.56,141.16 268.81,141.75 270.00,142.30 271.08,142.80 272.00,143.20 272.65,143.62 273.02,144.09 273.29,144.49 273.60,144.73 274.12,144.67 275.00,144.20 276.33,143.07 277.99,141.32 279.85,139.27 281.79,137.27 283.69,135.64 285.40,134.70 286.94,134.56 288.42,134.96 289.85,135.72 291.24,136.69 292.62,137.67 294.00,138.50 295.39,139.24 296.79,140.04 298.16,140.86 299.50,141.66 300.79,142.39 302.00,143.00 303.10,143.58 304.11,144.19 305.06,144.72 306.00,145.09 306.97,145.22 308.00,145.00 309.10,144.36 310.24,143.36 311.41,142.10 312.60,140.71 313.80,139.31 315.00,138.00 316.24,136.61 317.52,135.01 318.82,133.40 320.09,131.96 321.30,130.90 322.40,130.40 323.37,130.68 324.24,131.64 325.04,132.96 325.83,134.36 326.63,135.54 327.50,136.20 328.44,136.22 329.41,135.81 330.41,135.19 331.41,134.54 332.41,134.08 333.40,134.00 334.34,134.42 335.23,135.20 336.12,136.16 337.05,137.13 338.06,137.93 339.20,138.40 340.51,138.54 341.98,138.50 343.53,138.29 345.09,137.94 346.60,137.47 348.00,136.90 349.27,136.15 350.47,135.20 351.62,134.12 352.75,133.01 353.87,131.94 355.00,131.00 356.11,130.04 357.18,128.96 358.24,127.93 359.34,127.10 360.51,126.64 361.80,126.70 363.25,127.48 364.85,128.91 366.52,130.69 368.20,132.57 369.81,134.26 371.30,135.50 372.62,136.19 373.81,136.53 374.95,136.69 376.09,136.83 377.28,137.11 378.60,137.70 380.10,138.81 381.74,140.35 383.44,142.04 385.13,143.57 386.71,144.66 388.10,145.00 389.28,144.38 390.30,142.99 391.23,141.15 392.10,139.19 392.97,137.43 393.90,136.20 394.90,135.47 395.94,134.97 396.99,134.67 398.00,134.54 398.95,134.56 399.80,134.70 400.57,135.06 401.30,135.69 401.97,136.46 402.55,137.25 403.03,137.94 403.40,138.40" fill="none" stroke="#db7a21" stroke-width="4" stroke-opacity="1" stroke-linejoin="round" stroke-linecap="round"/>
<text x="218.0" y="35.3" font-size="20.5" font-family="'Liberation Serif', serif" font-weight="normal" text-anchor="middle" fill="#000" textLength="7.5" lengthAdjust="spacingAndGlyphs">I</text>
<text x="220.4" y="165.5" font-size="20.5" font-family="'Liberation Serif', serif" font-weight="normal" text-anchor="middle" fill="#000" textLength="13.5" lengthAdjust="spacingAndGlyphs">II</text>
<text x="267.0" y="54.8" font-size="20.5" font-family="'Liberation Serif', serif" font-weight="normal" text-anchor="middle" fill="#000" textLength="21.0" lengthAdjust="spacingAndGlyphs">III</text>
<text x="310.4" y="13.9" font-size="20.5" font-family="'Liberation Serif', serif" font-weight="normal" text-anchor="middle" fill="#000" textLength="13.5" lengthAdjust="spacingAndGlyphs">V</text>
<rect x="112.7" y="222.1" width="128.3" height="50.9" rx="3" ry="3" fill="#fff" fill-opacity="0.8" stroke="#d9d9d9" stroke-width="1"/>
<line x1="117.00" y1="234.50" x2="153.00" y2="234.50" stroke="#000" stroke-width="3.3"/>
<line x1="117.00" y1="258.40" x2="153.00" y2="258.40" stroke="#db7a21" stroke-width="3.3"/>
<text x="163.4" y="240.4" font-size="16" font-family="'Liberation Sans', sans-serif" font-weight="normal" text-anchor="start" fill="#000" textLength="24.8" lengthAdjust="spacingAndGlyphs">WT</text>
<text x="163.4" y="264.3" font-size="16" font-family="'Liberation Sans', sans-serif" font-weight="normal" text-anchor="start" fill="#000" textLength="70.7" lengthAdjust="spacingAndGlyphs">OTOF-KO</text>
<rect x="299.1" y="219" width="120.5" height="67.3" rx="3" ry="3" fill="#fff" fill-opacity="0.8" stroke="#d9d9d9" stroke-width="1"/>
<line x1="306.70" y1="228.80" x2="341.80" y2="228.80" stroke="#000" stroke-width="3.3"/>
<text x="353.2" y="234.0" font-size="12.9" font-family="'Liberation Sans', sans-serif" font-weight="normal" text-anchor="start" fill="#000" textLength="22.8" lengthAdjust="spacingAndGlyphs">avg</text>
<line x1="306.70" y1="245.00" x2="341.80" y2="245.00" stroke="#c8c8c8" stroke-width="3.3"/>
<text x="353.2" y="250.2" font-size="12.9" font-family="'Liberation Sans', sans-serif" font-weight="normal" text-anchor="start" fill="#000" textLength="58.2" lengthAdjust="spacingAndGlyphs">indiv. ear</text>
<line x1="306.70" y1="259.40" x2="341.80" y2="259.40" stroke="#db7a21" stroke-width="3.3"/>
<text x="353.2" y="264.6" font-size="12.9" font-family="'Liberation Sans', sans-serif" font-weight="normal" text-anchor="start" fill="#000" textLength="22.8" lengthAdjust="spacingAndGlyphs">avg</text>
<line x1="306.70" y1="275.50" x2="341.80" y2="275.50" stroke="#f3dfc4" stroke-width="3.3"/>
<text x="353.2" y="280.7" font-size="12.9" font-family="'Liberation Sans', sans-serif" font-weight="normal" text-anchor="start" fill="#000" textLength="58.2" lengthAdjust="spacingAndGlyphs">indiv. ear</text>
<text x="425.5" y="20.0" font-size="24" font-family="'Liberation Sans', sans-serif" font-weight="bold" text-anchor="start" fill="#000">b</text>
<line x1="505.40" y1="54.90" x2="505.40" y2="264.22" stroke="#000" stroke-width="2.0"/>
<line x1="497.20" y1="55.80" x2="505.40" y2="55.80" stroke="#000" stroke-width="2.0"/>
<text x="490.3" y="62.0" font-size="16.5" font-family="'Liberation Sans', sans-serif" font-weight="normal" text-anchor="end" fill="#000" textLength="30.2" lengthAdjust="spacingAndGlyphs">100</text>
<line x1="497.20" y1="107.68" x2="505.40" y2="107.68" stroke="#000" stroke-width="2.0"/>
<text x="490.3" y="113.9" font-size="16.5" font-family="'Liberation Sans', sans-serif" font-weight="normal" text-anchor="end" fill="#000" textLength="20.1" lengthAdjust="spacingAndGlyphs">80</text>
<line x1="497.20" y1="159.56" x2="505.40" y2="159.56" stroke="#000" stroke-width="2.0"/>
<text x="490.3" y="165.8" font-size="16.5" font-family="'Liberation Sans', sans-serif" font-weight="normal" text-anchor="end" fill="#000" textLength="20.1" lengthAdjust="spacingAndGlyphs">60</text>
<line x1="497.20" y1="211.44" x2="505.40" y2="211.44" stroke="#000" stroke-width="2.0"/>
<text x="490.3" y="217.6" font-size="16.5" font-family="'Liberation Sans', sans-serif" font-weight="normal" text-anchor="end" fill="#000" textLength="20.1" lengthAdjust="spacingAndGlyphs">40</text>
<line x1="497.20" y1="263.32" x2="505.40" y2="263.32" stroke="#000" stroke-width="2.0"/>
<text x="490.3" y="269.5" font-size="16.5" font-family="'Liberation Sans', sans-serif" font-weight="normal" text-anchor="end" fill="#000" textLength="20.1" lengthAdjust="spacingAndGlyphs">20</text>
<text x="448.9" y="143.1" font-size="18.0" font-family="'Liberation Sans', sans-serif" font-weight="normal" text-anchor="middle" fill="#000" textLength="159.3" lengthAdjust="spacingAndGlyphs" transform="rotate(-90 448.9 143.1)">threshold [dB SPL]</text>
<line x1="535.70" y1="299.30" x2="667.30" y2="299.30" stroke="#000" stroke-width="2.0"/>
<line x1="536.60" y1="299.30" x2="536.60" y2="307.50" stroke="#000" stroke-width="2.0"/>
<text x="536.6" y="326.5" font-size="16.5" font-family="'Liberation Sans', sans-serif" font-weight="normal" text-anchor="middle" fill="#000" textLength="10.1" lengthAdjust="spacingAndGlyphs">2</text>
<line x1="569.05" y1="299.30" x2="569.05" y2="307.50" stroke="#000" stroke-width="2.0"/>
<text x="569.1" y="326.5" font-size="16.5" font-family="'Liberation Sans', sans-serif" font-weight="normal" text-anchor="middle" fill="#000" textLength="10.1" lengthAdjust="spacingAndGlyphs">4</text>
<line x1="601.50" y1="299.30" x2="601.50" y2="307.50" stroke="#000" stroke-width="2.0"/>
<text x="601.5" y="326.5" font-size="16.5" font-family="'Liberation Sans', sans-serif" font-weight="normal" text-anchor="middle" fill="#000" textLength="10.1" lengthAdjust="spacingAndGlyphs">8</text>
<line x1="633.95" y1="299.30" x2="633.95" y2="307.50" stroke="#000" stroke-width="2.0"/>
<text x="634.0" y="326.5" font-size="16.5" font-family="'Liberation Sans', sans-serif" font-weight="normal" text-anchor="middle" fill="#000" textLength="20.1" lengthAdjust="spacingAndGlyphs">16</text>
<line x1="666.40" y1="299.30" x2="666.40" y2="307.50" stroke="#000" stroke-width="2.0"/>
<text x="666.4" y="326.5" font-size="16.5" font-family="'Liberation Sans', sans-serif" font-weight="normal" text-anchor="middle" fill="#000" textLength="35.3" lengthAdjust="spacingAndGlyphs">click</text>
<text x="601.2" y="350.0" font-size="18.0" font-family="'Liberation Sans', sans-serif" font-weight="normal" text-anchor="middle" fill="#000" textLength="139.1" lengthAdjust="spacingAndGlyphs">frequency [kHz]</text>
<line x1="536.50" y1="134.10" x2="536.50" y2="199.30" stroke="#778899" stroke-width="2.2"/>
<line x1="531.10" y1="134.10" x2="541.90" y2="134.10" stroke="#778899" stroke-width="2.2"/>
<line x1="531.10" y1="199.30" x2="541.90" y2="199.30" stroke="#778899" stroke-width="2.2"/>
<line x1="536.50" y1="22.00" x2="536.50" y2="22.00" stroke="#778899" stroke-width="2.2"/>
<line x1="531.10" y1="22.00" x2="541.90" y2="22.00" stroke="#778899" stroke-width="2.2"/>
<line x1="531.10" y1="22.00" x2="541.90" y2="22.00" stroke="#778899" stroke-width="2.2"/>
<line x1="536.50" y1="22.00" x2="536.50" y2="52.00" stroke="#778899" stroke-width="2.2"/>
<circle cx="536.50" cy="167.34" r="5.3" fill="#778899"/>
<circle cx="536.50" cy="38.20" r="5.3" fill="#778899"/>
<circle cx="538.40" cy="107.68" r="5.3" fill="#000"/>
<circle cx="534.20" cy="159.56" r="5.3" fill="#000"/>
<circle cx="538.00" cy="159.56" r="5.3" fill="#000"/>
<circle cx="535.30" cy="185.50" r="5.3" fill="#000"/>
<circle cx="535.30" cy="211.44" r="5.3" fill="#000"/>
<circle cx="536.60" cy="55.30" r="5.5" fill="#db7a21"/>
<line x1="569.20" y1="168.00" x2="569.20" y2="217.40" stroke="#778899" stroke-width="2.2"/>
<line x1="563.80" y1="168.00" x2="574.60" y2="168.00" stroke="#778899" stroke-width="2.2"/>
<line x1="563.80" y1="217.40" x2="574.60" y2="217.40" stroke="#778899" stroke-width="2.2"/>
<circle cx="569.20" cy="192.90" r="5.3" fill="#778899"/>
<circle cx="567.20" cy="159.56" r="5.3" fill="#000"/>
<circle cx="569.20" cy="185.50" r="5.3" fill="#000"/>
<circle cx="566.50" cy="211.44" r="5.3" fill="#000"/>
<circle cx="572.00" cy="211.44" r="5.3" fill="#000"/>
<line x1="601.40" y1="179.70" x2="601.40" y2="235.00" stroke="#778899" stroke-width="2.2"/>
<line x1="596.00" y1="179.70" x2="606.80" y2="179.70" stroke="#778899" stroke-width="2.2"/>
<line x1="596.00" y1="235.00" x2="606.80" y2="235.00" stroke="#778899" stroke-width="2.2"/>
<circle cx="601.40" cy="206.50" r="5.3" fill="#778899"/>
<circle cx="598.90" cy="159.56" r="5.3" fill="#000"/>
<circle cx="599.30" cy="185.50" r="5.3" fill="#000"/>
<circle cx="602.30" cy="211.44" r="5.3" fill="#000"/>
<circle cx="599.30" cy="237.38" r="5.3" fill="#000"/>
<line x1="633.60" y1="222.80" x2="633.60" y2="262.00" stroke="#778899" stroke-width="2.2"/>
<line x1="628.20" y1="222.80" x2="639.00" y2="222.80" stroke="#778899" stroke-width="2.2"/>
<line x1="628.20" y1="262.00" x2="639.00" y2="262.00" stroke="#778899" stroke-width="2.2"/>
<circle cx="633.60" cy="242.00" r="5.3" fill="#778899"/>
<circle cx="631.00" cy="211.44" r="5.3" fill="#000"/>
<circle cx="632.00" cy="237.38" r="5.3" fill="#000"/>
<circle cx="636.00" cy="237.38" r="5.3" fill="#000"/>
<circle cx="633.00" cy="263.32" r="5.3" fill="#000"/>
<circle cx="636.00" cy="263.32" r="5.3" fill="#000"/>
<line x1="666.40" y1="177.40" x2="666.40" y2="225.40" stroke="#778899" stroke-width="2.2"/>
<line x1="661.00" y1="177.40" x2="671.80" y2="177.40" stroke="#778899" stroke-width="2.2"/>
<line x1="661.00" y1="225.40" x2="671.80" y2="225.40" stroke="#778899" stroke-width="2.2"/>
<circle cx="666.40" cy="201.40" r="5.3" fill="#778899"/>
<circle cx="665.00" cy="185.50" r="5.3" fill="#000"/>
<circle cx="669.00" cy="185.50" r="5.3" fill="#000"/>
<circle cx="666.60" cy="211.44" r="5.3" fill="#000"/>
<circle cx="665.40" cy="237.38" r="5.3" fill="#000"/>
<circle cx="569.80" cy="29.50" r="4.5" fill="#778899"/>
<circle cx="603.50" cy="29.50" r="4.5" fill="#778899"/>
<circle cx="634.80" cy="29.50" r="4.5" fill="#778899"/>
<circle cx="666.40" cy="29.50" r="4.5" fill="#778899"/>
<g transform="translate(548.50,15.40)" fill="#fff" stroke="#fff">
<path d="M-14.3,0 H0 V14.3 L-4.1,10.2 V4.1 H-10.2 Z" stroke-width="1.0" stroke-linejoin="miter"/>
<path d="M-26.5,21.15 L-9,3.65 M-21.8,27.15 L-3.65,9" stroke-width="4.7" stroke-linecap="round" fill="none"/>
</g>
<g transform="translate(548.50,15.40)" fill="#db7a21" stroke="#db7a21">
<path d="M-14.3,0 H0 V14.3 L-4.1,10.2 V4.1 H-10.2 Z" stroke-width="0.6" stroke-linejoin="miter"/>
<path d="M-26.5,21.15 L-9,3.65 M-21.8,27.15 L-3.65,9" stroke-width="3.9" stroke-linecap="round" fill="none"/>
</g>
<g transform="translate(551.20,15.40)" fill="#fff" stroke="#fff">
<path d="M-14.3,0 H0 V14.3 L-4.1,10.2 V4.1 H-10.2 Z" stroke-width="1.0" stroke-linejoin="miter"/>
<path d="M-26.5,21.15 L-9,3.65 M-21.8,27.15 L-3.65,9" stroke-width="4.7" stroke-linecap="round" fill="none"/>
</g>
<g transform="translate(551.20,15.40)" fill="#db7a21" stroke="#db7a21">
<path d="M-14.3,0 H0 V14.3 L-4.1,10.2 V4.1 H-10.2 Z" stroke-width="0.6" stroke-linejoin="miter"/>
<path d="M-26.5,21.15 L-9,3.65 M-21.8,27.15 L-3.65,9" stroke-width="3.9" stroke-linecap="round" fill="none"/>
</g>
<g transform="translate(553.90,15.40)" fill="#fff" stroke="#fff">
<path d="M-14.3,0 H0 V14.3 L-4.1,10.2 V4.1 H-10.2 Z" stroke-width="1.0" stroke-linejoin="miter"/>
<path d="M-26.5,21.15 L-9,3.65 M-21.8,27.15 L-3.65,9" stroke-width="4.7" stroke-linecap="round" fill="none"/>
</g>
<g transform="translate(553.90,15.40)" fill="#db7a21" stroke="#db7a21">
<path d="M-14.3,0 H0 V14.3 L-4.1,10.2 V4.1 H-10.2 Z" stroke-width="0.6" stroke-linejoin="miter"/>
<path d="M-26.5,21.15 L-9,3.65 M-21.8,27.15 L-3.65,9" stroke-width="3.9" stroke-linecap="round" fill="none"/>
</g>
<g transform="translate(583.60,15.40)" fill="#fff" stroke="#fff">
<path d="M-14.3,0 H0 V14.3 L-4.1,10.2 V4.1 H-10.2 Z" stroke-width="1.0" stroke-linejoin="miter"/>
<path d="M-26.5,21.15 L-9,3.65 M-21.8,27.15 L-3.65,9" stroke-width="4.7" stroke-linecap="round" fill="none"/>
</g>
<g transform="translate(583.60,15.40)" fill="#db7a21" stroke="#db7a21">
<path d="M-14.3,0 H0 V14.3 L-4.1,10.2 V4.1 H-10.2 Z" stroke-width="0.6" stroke-linejoin="miter"/>
<path d="M-26.5,21.15 L-9,3.65 M-21.8,27.15 L-3.65,9" stroke-width="3.9" stroke-linecap="round" fill="none"/>
</g>
<g transform="translate(613.20,15.40)" fill="#fff" stroke="#fff">
<path d="M-14.3,0 H0 V14.3 L-4.1,10.2 V4.1 H-10.2 Z" stroke-width="1.0" stroke-linejoin="miter"/>
<path d="M-26.5,21.15 L-9,3.65 M-21.8,27.15 L-3.65,9" stroke-width="4.7" stroke-linecap="round" fill="none"/>
</g>
<g transform="translate(613.20,15.40)" fill="#db7a21" stroke="#db7a21">
<path d="M-14.3,0 H0 V14.3 L-4.1,10.2 V4.1 H-10.2 Z" stroke-width="0.6" stroke-linejoin="miter"/>
<path d="M-26.5,21.15 L-9,3.65 M-21.8,27.15 L-3.65,9" stroke-width="3.9" stroke-linecap="round" fill="none"/>
</g>
<g transform="translate(615.80,15.40)" fill="#fff" stroke="#fff">
<path d="M-14.3,0 H0 V14.3 L-4.1,10.2 V4.1 H-10.2 Z" stroke-width="1.0" stroke-linejoin="miter"/>
<path d="M-26.5,21.15 L-9,3.65 M-21.8,27.15 L-3.65,9" stroke-width="4.7" stroke-linecap="round" fill="none"/>
</g>
<g transform="translate(615.80,15.40)" fill="#db7a21" stroke="#db7a21">
<path d="M-14.3,0 H0 V14.3 L-4.1,10.2 V4.1 H-10.2 Z" stroke-width="0.6" stroke-linejoin="miter"/>
<path d="M-26.5,21.15 L-9,3.65 M-21.8,27.15 L-3.65,9" stroke-width="3.9" stroke-linecap="round" fill="none"/>
</g>
<g transform="translate(618.40,15.40)" fill="#fff" stroke="#fff">
<path d="M-14.3,0 H0 V14.3 L-4.1,10.2 V4.1 H-10.2 Z" stroke-width="1.0" stroke-linejoin="miter"/>
<path d="M-26.5,21.15 L-9,3.65 M-21.8,27.15 L-3.65,9" stroke-width="4.7" stroke-linecap="round" fill="none"/>
</g>
<g transform="translate(618.40,15.40)" fill="#db7a21" stroke="#db7a21">
<path d="M-14.3,0 H0 V14.3 L-4.1,10.2 V4.1 H-10.2 Z" stroke-width="0.6" stroke-linejoin="miter"/>
<path d="M-26.5,21.15 L-9,3.65 M-21.8,27.15 L-3.65,9" stroke-width="3.9" stroke-linecap="round" fill="none"/>
</g>
<g transform="translate(645.00,15.40)" fill="#fff" stroke="#fff">
<path d="M-14.3,0 H0 V14.3 L-4.1,10.2 V4.1 H-10.2 Z" stroke-width="1.0" stroke-linejoin="miter"/>
<path d="M-26.5,21.15 L-9,3.65 M-21.8,27.15 L-3.65,9" stroke-width="4.7" stroke-linecap="round" fill="none"/>
</g>
<g transform="translate(645.00,15.40)" fill="#db7a21" stroke="#db7a21">
<path d="M-14.3,0 H0 V14.3 L-4.1,10.2 V4.1 H-10.2 Z" stroke-width="0.6" stroke-linejoin="miter"/>
<path d="M-26.5,21.15 L-9,3.65 M-21.8,27.15 L-3.65,9" stroke-width="3.9" stroke-linecap="round" fill="none"/>
</g>
<g transform="translate(647.30,15.40)" fill="#fff" stroke="#fff">
<path d="M-14.3,0 H0 V14.3 L-4.1,10.2 V4.1 H-10.2 Z" stroke-width="1.0" stroke-linejoin="miter"/>
<path d="M-26.5,21.15 L-9,3.65 M-21.8,27.15 L-3.65,9" stroke-width="4.7" stroke-linecap="round" fill="none"/>
</g>
<g transform="translate(647.30,15.40)" fill="#db7a21" stroke="#db7a21">
<path d="M-14.3,0 H0 V14.3 L-4.1,10.2 V4.1 H-10.2 Z" stroke-width="0.6" stroke-linejoin="miter"/>
<path d="M-26.5,21.15 L-9,3.65 M-21.8,27.15 L-3.65,9" stroke-width="3.9" stroke-linecap="round" fill="none"/>
</g>
<g transform="translate(649.60,15.40)" fill="#fff" stroke="#fff">
<path d="M-14.3,0 H0 V14.3 L-4.1,10.2 V4.1 H-10.2 Z" stroke-width="1.0" stroke-linejoin="miter"/>
<path d="M-26.5,21.15 L-9,3.65 M-21.8,27.15 L-3.65,9" stroke-width="4.7" stroke-linecap="round" fill="none"/>
</g>
<g transform="translate(649.60,15.40)" fill="#db7a21" stroke="#db7a21">
<path d="M-14.3,0 H0 V14.3 L-4.1,10.2 V4.1 H-10.2 Z" stroke-width="0.6" stroke-linejoin="miter"/>
<path d="M-26.5,21.15 L-9,3.65 M-21.8,27.15 L-3.65,9" stroke-width="3.9" stroke-linecap="round" fill="none"/>
</g>
<g transform="translate(677.00,15.40)" fill="#fff" stroke="#fff">
<path d="M-14.3,0 H0 V14.3 L-4.1,10.2 V4.1 H-10.2 Z" stroke-width="1.0" stroke-linejoin="miter"/>
<path d="M-26.5,21.15 L-9,3.65 M-21.8,27.15 L-3.65,9" stroke-width="4.7" stroke-linecap="round" fill="none"/>
</g>
<g transform="translate(677.00,15.40)" fill="#db7a21" stroke="#db7a21">
<path d="M-14.3,0 H0 V14.3 L-4.1,10.2 V4.1 H-10.2 Z" stroke-width="0.6" stroke-linejoin="miter"/>
<path d="M-26.5,21.15 L-9,3.65 M-21.8,27.15 L-3.65,9" stroke-width="3.9" stroke-linecap="round" fill="none"/>
</g>
<g transform="translate(679.50,15.40)" fill="#fff" stroke="#fff">
<path d="M-14.3,0 H0 V14.3 L-4.1,10.2 V4.1 H-10.2 Z" stroke-width="1.0" stroke-linejoin="miter"/>
<path d="M-26.5,21.15 L-9,3.65 M-21.8,27.15 L-3.65,9" stroke-width="4.7" stroke-linecap="round" fill="none"/>
</g>
<g transform="translate(679.50,15.40)" fill="#db7a21" stroke="#db7a21">
<path d="M-14.3,0 H0 V14.3 L-4.1,10.2 V4.1 H-10.2 Z" stroke-width="0.6" stroke-linejoin="miter"/>
<path d="M-26.5,21.15 L-9,3.65 M-21.8,27.15 L-3.65,9" stroke-width="3.9" stroke-linecap="round" fill="none"/>
</g>
<text x="-0.2" y="374.3" font-size="24" font-family="'Liberation Sans', sans-serif" font-weight="bold" text-anchor="start" fill="#000">c</text>
<text x="28.5" y="382.7" font-size="18" font-family="'Liberation Sans', sans-serif" font-weight="normal" text-anchor="start" fill="#000" textLength="60.2" lengthAdjust="spacingAndGlyphs">Animal</text>
<line x1="82.10" y1="396.90" x2="82.10" y2="635.70" stroke="#000" stroke-width="2.0"/>
<line x1="73.90" y1="397.80" x2="82.10" y2="397.80" stroke="#000" stroke-width="2.0"/>
<text x="66.5" y="404.0" font-size="16.5" font-family="'Liberation Sans', sans-serif" font-weight="normal" text-anchor="end" fill="#000" textLength="20.1" lengthAdjust="spacingAndGlyphs">80</text>
<line x1="73.90" y1="437.30" x2="82.10" y2="437.30" stroke="#000" stroke-width="2.0"/>
<text x="66.5" y="443.5" font-size="16.5" font-family="'Liberation Sans', sans-serif" font-weight="normal" text-anchor="end" fill="#000" textLength="20.1" lengthAdjust="spacingAndGlyphs">60</text>
<line x1="73.90" y1="476.80" x2="82.10" y2="476.80" stroke="#000" stroke-width="2.0"/>
<text x="66.5" y="483.0" font-size="16.5" font-family="'Liberation Sans', sans-serif" font-weight="normal" text-anchor="end" fill="#000" textLength="20.1" lengthAdjust="spacingAndGlyphs">40</text>
<line x1="73.90" y1="516.30" x2="82.10" y2="516.30" stroke="#000" stroke-width="2.0"/>
<text x="66.5" y="522.5" font-size="16.5" font-family="'Liberation Sans', sans-serif" font-weight="normal" text-anchor="end" fill="#000" textLength="20.1" lengthAdjust="spacingAndGlyphs">20</text>
<line x1="73.90" y1="555.80" x2="82.10" y2="555.80" stroke="#000" stroke-width="2.0"/>
<text x="66.5" y="562.0" font-size="16.5" font-family="'Liberation Sans', sans-serif" font-weight="normal" text-anchor="end" fill="#000" textLength="10.1" lengthAdjust="spacingAndGlyphs">0</text>
<line x1="73.90" y1="595.30" x2="82.10" y2="595.30" stroke="#000" stroke-width="2.0"/>
<text x="66.5" y="601.5" font-size="16.5" font-family="'Liberation Sans', sans-serif" font-weight="normal" text-anchor="end" fill="#000" textLength="33.3" lengthAdjust="spacingAndGlyphs">−20</text>
<line x1="73.90" y1="634.80" x2="82.10" y2="634.80" stroke="#000" stroke-width="2.0"/>
<text x="66.5" y="641.0" font-size="16.5" font-family="'Liberation Sans', sans-serif" font-weight="normal" text-anchor="end" fill="#000" textLength="33.3" lengthAdjust="spacingAndGlyphs">−40</text>
<text x="21.5" y="532.0" font-size="18.0" font-family="'Liberation Sans', sans-serif" font-weight="normal" text-anchor="middle" fill="#000" textLength="120.2" lengthAdjust="spacingAndGlyphs" transform="rotate(-90 21.5 532.0)">level [dB SPL]</text>
<path d="M101.00,567.20 L101.00,567.20 L102.00,563.16 L103.00,565.54 L104.00,564.96 L105.00,565.01 L106.00,564.55 L107.00,565.08 L108.00,562.03 L109.00,564.54 L110.00,564.37 L111.00,565.11 L112.00,565.23 L113.00,565.28 L114.00,563.27 L115.00,565.60 L116.00,566.18 L117.00,562.18 L118.00,565.69 L119.00,564.92 L120.00,565.39 L121.00,564.97 L122.00,565.74 L123.00,564.92 L124.00,565.64 L125.00,562.23 L126.00,565.15 L127.00,561.04 L128.00,565.14 L129.00,563.17 L130.00,565.73 L131.00,561.47 L132.00,565.13 L133.00,564.65 L134.00,564.57 L135.00,565.52 L136.00,562.34 L137.00,564.50 L138.50,564.20 L138.50,630.00 L137.00,632.42 L136.00,630.75 L135.00,632.85 L134.00,631.56 L133.00,631.29 L132.00,630.21 L131.00,631.17 L130.00,627.20 L129.00,628.53 L128.00,627.10 L127.00,627.48 L126.00,627.89 L125.00,628.27 L124.00,627.07 L123.00,626.98 L122.00,628.30 L121.00,626.61 L120.00,628.06 L119.00,625.94 L118.00,626.07 L117.00,626.32 L116.00,626.44 L115.00,624.04 L114.00,623.54 L113.00,624.09 L112.00,623.60 L111.00,623.68 L110.00,625.18 L109.00,624.54 L108.00,625.38 L107.00,624.89 L106.00,623.04 L105.00,625.45 L104.00,624.26 L103.00,623.41 L102.00,625.43 L101.00,623.00Z" fill="#000" stroke="#000" stroke-width="1.0" stroke-linejoin="round"/>
<path d="M101.90,621.00 V637.30 M104.66,621.00 V627.39 M106.26,621.00 V626.28 M108.93,621.00 V642.80 M111.14,621.00 V636.95 M113.43,621.00 V630.77 M115.43,621.03 V637.38 M117.00,622.60 V629.07 M119.45,623.16 V654.84 M120.92,623.27 V656.10 M123.54,623.47 V642.63 M124.91,623.58 V627.70 M126.59,623.71 V628.83 M128.74,623.87 V631.41 M130.29,623.99 V634.20 M132.05,628.00 V656.61 M134.57,628.00 V644.11 M136.16,628.00 V638.40" stroke="#000" stroke-width="2.0" stroke-linecap="round" fill="none"/>
<line x1="103.30" y1="580.00" x2="103.30" y2="550.50" stroke="#000" stroke-width="2.1"/>
<line x1="119.80" y1="590.00" x2="119.80" y2="409.30" stroke="#000" stroke-width="2.1"/>
<line x1="136.40" y1="590.00" x2="136.40" y2="438.40" stroke="#000" stroke-width="2.1"/>
<path d="M103.20,538.30 L103.20,532.10 M103.20,538.30 L109.10,536.38 M103.20,538.30 L106.84,543.32 M103.20,538.30 L99.56,543.32 M103.20,538.30 L97.30,536.38 " stroke="#000" stroke-width="3.1" fill="none" stroke-linecap="butt"/>
<text x="120.6" y="383.0" font-size="17.5" font-family="'Liberation Sans', sans-serif" font-weight="normal" text-anchor="middle" fill="#000" textLength="10.7" lengthAdjust="spacingAndGlyphs">2</text>
<path d="M105.40,693.3 V685.4 H136.10 V693.3" fill="none" stroke="#000" stroke-width="2.0"/>
<path d="M156.94,568.70 L156.94,568.70 L157.94,565.01 L158.94,566.70 L159.94,566.24 L160.94,564.92 L161.94,560.22 L162.94,559.90 L163.94,560.68 L164.94,561.50 L165.94,565.46 L166.94,567.16 L167.94,564.00 L168.94,567.40 L169.94,567.84 L170.94,563.97 L171.94,564.06 L172.94,568.66 L173.94,565.42 L174.94,566.51 L175.94,566.71 L176.94,566.73 L177.94,570.75 L178.94,567.65 L179.94,570.82 L180.94,570.96 L181.94,570.81 L182.94,567.25 L183.94,569.67 L184.94,569.75 L185.94,569.14 L186.94,569.78 L187.94,565.06 L188.94,568.66 L189.94,567.85 L190.94,567.68 L191.94,566.59 L192.94,566.97 L194.44,563.20 L194.44,631.95 L192.94,633.15 L191.94,634.10 L190.94,631.88 L189.94,631.55 L188.94,632.52 L187.94,630.94 L186.94,631.04 L185.94,631.18 L184.94,631.51 L183.94,630.89 L182.94,632.73 L181.94,632.48 L180.94,632.63 L179.94,629.64 L178.94,630.66 L177.94,631.29 L176.94,629.89 L175.94,629.73 L174.94,628.71 L173.94,629.86 L172.94,628.48 L171.94,630.41 L170.94,628.56 L169.94,630.42 L168.94,628.02 L167.94,629.47 L166.94,628.32 L165.94,628.48 L164.94,627.05 L163.94,626.64 L162.94,629.03 L161.94,626.11 L160.94,625.97 L159.94,628.13 L158.94,627.61 L157.94,627.80 L156.94,627.33Z" fill="#000" stroke="#000" stroke-width="1.0" stroke-linejoin="round"/>
<path d="M157.84,623.83 V636.49 M159.93,623.37 V630.46 M162.17,623.88 V637.84 M164.66,624.46 V647.33 M166.16,624.81 V634.68 M168.88,625.43 V635.25 M170.49,625.80 V640.78 M173.16,626.31 V632.20 M175.36,626.69 V632.11 M177.36,627.03 V659.20 M179.90,627.46 V658.79 M182.48,627.90 V645.26 M184.23,628.20 V636.74 M185.78,628.47 V658.01 M187.57,628.77 V651.26 M189.64,629.13 V638.92 M191.81,629.50 V654.01" stroke="#000" stroke-width="2.0" stroke-linecap="round" fill="none"/>
<line x1="159.24" y1="580.00" x2="159.24" y2="542.20" stroke="#000" stroke-width="2.1"/>
<line x1="175.74" y1="590.00" x2="175.74" y2="408.90" stroke="#000" stroke-width="2.1"/>
<line x1="192.34" y1="590.00" x2="192.34" y2="435.80" stroke="#000" stroke-width="2.1"/>
<path d="M159.14,530.50 L159.14,524.30 M159.14,530.50 L165.04,528.58 M159.14,530.50 L162.78,535.52 M159.14,530.50 L155.50,535.52 M159.14,530.50 L153.24,528.58 " stroke="#000" stroke-width="3.1" fill="none" stroke-linecap="butt"/>
<text x="176.5" y="383.0" font-size="17.5" font-family="'Liberation Sans', sans-serif" font-weight="normal" text-anchor="middle" fill="#000" textLength="10.7" lengthAdjust="spacingAndGlyphs">3</text>
<path d="M161.34,693.3 V685.4 H192.04 V693.3" fill="none" stroke="#000" stroke-width="2.0"/>
<path d="M212.88,569.20 L212.88,569.20 L213.88,565.60 L214.88,563.31 L215.88,562.36 L216.88,562.29 L217.88,560.98 L218.88,558.66 L219.88,561.61 L220.88,564.16 L221.88,568.94 L222.88,572.24 L223.88,574.07 L224.88,573.64 L225.88,575.91 L226.88,574.36 L227.88,575.49 L228.88,574.22 L229.88,574.78 L230.88,573.75 L231.88,574.60 L232.88,575.49 L233.88,574.22 L234.88,573.69 L235.88,575.32 L236.88,574.57 L237.88,574.96 L238.88,575.06 L239.88,575.38 L240.88,575.16 L241.88,575.06 L242.88,575.45 L243.88,571.88 L244.88,572.89 L245.88,572.71 L246.88,576.45 L247.88,575.08 L248.88,576.07 L250.38,576.20 L250.38,642.00 L248.88,643.42 L247.88,642.50 L246.88,642.55 L245.88,642.08 L244.88,644.89 L243.88,642.85 L242.88,642.52 L241.88,642.41 L240.88,642.41 L239.88,643.92 L238.88,643.32 L237.88,642.43 L236.88,643.47 L235.88,643.31 L234.88,642.77 L233.88,643.03 L232.88,644.25 L231.88,643.90 L230.88,642.46 L229.88,641.57 L228.88,641.37 L227.88,639.06 L226.88,638.90 L225.88,636.56 L224.88,635.01 L223.88,634.19 L222.88,634.73 L221.88,634.32 L220.88,633.27 L219.88,632.20 L218.88,632.77 L217.88,632.92 L216.88,632.87 L215.88,634.89 L214.88,632.61 L213.88,633.89 L212.88,632.00Z" fill="#000" stroke="#000" stroke-width="1.0" stroke-linejoin="round"/>
<path d="M213.78,630.00 V641.63 M215.48,630.00 V652.95 M217.71,630.00 V644.18 M220.24,630.00 V639.54 M222.88,630.60 V641.09 M225.17,632.89 V650.61 M226.79,634.51 V667.30 M228.26,635.98 V640.18 M230.81,638.53 V667.30 M233.03,640.00 V656.78 M235.18,640.00 V667.30 M236.99,640.00 V650.19 M239.37,640.00 V654.21 M241.95,640.00 V665.39 M243.37,640.00 V645.11 M245.12,640.00 V659.28 M246.84,640.00 V667.30 M249.42,640.00 V650.03" stroke="#000" stroke-width="2.0" stroke-linecap="round" fill="none"/>
<line x1="215.18" y1="580.00" x2="215.18" y2="529.20" stroke="#000" stroke-width="2.1"/>
<line x1="231.68" y1="590.00" x2="231.68" y2="408.90" stroke="#000" stroke-width="2.1"/>
<line x1="248.28" y1="590.00" x2="248.28" y2="438.60" stroke="#000" stroke-width="2.1"/>
<path d="M215.08,519.00 L215.08,512.80 M215.08,519.00 L220.98,517.08 M215.08,519.00 L218.72,524.02 M215.08,519.00 L211.44,524.02 M215.08,519.00 L209.18,517.08 " stroke="#000" stroke-width="3.1" fill="none" stroke-linecap="butt"/>
<text x="232.5" y="383.0" font-size="17.5" font-family="'Liberation Sans', sans-serif" font-weight="normal" text-anchor="middle" fill="#000" textLength="10.7" lengthAdjust="spacingAndGlyphs">4</text>
<path d="M217.28,693.3 V685.4 H247.98 V693.3" fill="none" stroke="#000" stroke-width="2.0"/>
<path d="M268.82,567.90 L268.82,567.90 L269.82,561.80 L270.82,558.18 L271.82,552.05 L272.82,555.02 L273.82,554.11 L274.82,555.56 L275.82,556.94 L276.82,556.62 L277.82,557.40 L278.82,562.03 L279.82,556.79 L280.82,562.25 L281.82,563.03 L282.82,560.54 L283.82,564.48 L284.82,564.61 L285.82,562.37 L286.82,563.17 L287.82,568.31 L288.82,568.81 L289.82,570.42 L290.82,567.95 L291.82,570.10 L292.82,567.84 L293.82,566.92 L294.82,562.86 L295.82,565.77 L296.82,563.96 L297.82,563.87 L298.82,558.50 L299.82,562.99 L300.82,566.71 L301.82,568.51 L302.82,566.85 L303.82,563.50 L304.82,562.04 L306.32,561.20 L306.32,631.98 L304.82,632.67 L303.82,634.12 L302.82,632.79 L301.82,631.85 L300.82,632.54 L299.82,633.40 L298.82,632.66 L297.82,632.93 L296.82,631.88 L295.82,632.08 L294.82,631.54 L293.82,632.18 L292.82,631.69 L291.82,631.72 L290.82,632.70 L289.82,633.11 L288.82,632.44 L287.82,631.50 L286.82,633.58 L285.82,630.95 L284.82,633.20 L283.82,631.74 L282.82,633.18 L281.82,631.05 L280.82,632.90 L279.82,633.54 L278.82,631.61 L277.82,630.92 L276.82,631.75 L275.82,632.62 L274.82,631.91 L273.82,631.74 L272.82,630.74 L271.82,630.39 L270.82,632.89 L269.82,631.48 L268.82,630.02Z" fill="#000" stroke="#000" stroke-width="1.0" stroke-linejoin="round"/>
<path d="M269.72,628.07 V654.57 M272.35,628.21 V653.17 M274.75,628.33 V633.17 M276.71,628.43 V647.79 M278.23,628.51 V643.27 M279.73,628.59 V659.72 M281.22,628.67 V650.32 M282.66,628.75 V638.37 M284.01,628.82 V658.60 M285.41,628.89 V643.48 M287.56,629.00 V645.79 M290.35,629.15 V638.03 M292.27,629.25 V663.52 M295.06,629.39 V636.11 M297.77,629.54 V655.50 M300.48,629.68 V643.43 M302.92,629.81 V644.29 M304.80,629.90 V641.30" stroke="#000" stroke-width="2.0" stroke-linecap="round" fill="none"/>
<line x1="271.12" y1="580.00" x2="271.12" y2="529.20" stroke="#000" stroke-width="2.1"/>
<line x1="287.62" y1="590.00" x2="287.62" y2="408.90" stroke="#000" stroke-width="2.1"/>
<line x1="304.22" y1="590.00" x2="304.22" y2="438.10" stroke="#000" stroke-width="2.1"/>
<path d="M271.02,519.00 L271.02,512.80 M271.02,519.00 L276.92,517.08 M271.02,519.00 L274.66,524.02 M271.02,519.00 L267.38,524.02 M271.02,519.00 L265.12,517.08 " stroke="#000" stroke-width="3.1" fill="none" stroke-linecap="butt"/>
<text x="288.4" y="383.0" font-size="17.5" font-family="'Liberation Sans', sans-serif" font-weight="normal" text-anchor="middle" fill="#000" textLength="10.7" lengthAdjust="spacingAndGlyphs">6</text>
<path d="M273.22,693.3 V685.4 H303.92 V693.3" fill="none" stroke="#000" stroke-width="2.0"/>
<path d="M324.76,578.20 L324.76,578.20 L325.76,579.20 L326.76,579.62 L327.76,580.50 L328.76,581.41 L329.76,578.79 L330.76,580.35 L331.76,583.04 L332.76,582.41 L333.76,583.69 L334.76,586.29 L335.76,584.55 L336.76,584.01 L337.76,586.71 L338.76,588.24 L339.76,588.99 L340.76,588.87 L341.76,587.82 L342.76,588.92 L343.76,589.63 L344.76,588.87 L345.76,589.28 L346.76,587.98 L347.76,590.84 L348.76,586.69 L349.76,589.02 L350.76,586.85 L351.76,588.07 L352.76,588.61 L353.76,587.01 L354.76,588.49 L355.76,586.60 L356.76,585.29 L357.76,584.92 L358.76,581.02 L359.76,583.36 L360.76,583.49 L362.26,582.30 L362.26,648.00 L360.76,650.88 L359.76,650.72 L358.76,648.52 L357.76,649.97 L356.76,648.89 L355.76,649.51 L354.76,649.14 L353.76,649.62 L352.76,648.06 L351.76,651.56 L350.76,655.17 L349.76,656.98 L348.76,656.29 L347.76,655.17 L346.76,656.62 L345.76,657.93 L344.76,656.41 L343.76,655.58 L342.76,657.10 L341.76,655.04 L340.76,657.45 L339.76,655.63 L338.76,656.73 L337.76,657.19 L336.76,656.87 L335.76,657.50 L334.76,656.22 L333.76,655.46 L332.76,655.37 L331.76,657.85 L330.76,657.85 L329.76,656.31 L328.76,656.51 L327.76,656.53 L326.76,655.16 L325.76,656.74 L324.76,655.00Z" fill="#db7a21" stroke="#db7a21" stroke-width="1.0" stroke-linejoin="round"/>
<path d="M325.66,653.00 V667.30 M327.34,653.00 V667.30 M329.01,653.00 V667.30 M330.74,653.00 V667.30 M333.25,653.00 V661.84 M335.25,653.00 V659.10 M336.64,653.00 V660.74 M338.07,653.00 V667.30 M340.62,653.00 V667.30 M343.08,653.00 V667.30 M344.61,653.00 V667.30 M346.17,653.00 V667.30 M348.61,653.00 V667.30 M350.59,653.00 V660.12 M352.27,646.00 V650.77 M354.61,646.00 V667.30 M356.09,646.00 V651.58 M357.57,646.00 V653.50 M359.42,646.00 V651.23" stroke="#db7a21" stroke-width="2.0" stroke-linecap="round" fill="none"/>
<line x1="327.06" y1="580.00" x2="327.06" y2="543.20" stroke="#db7a21" stroke-width="2.1"/>
<line x1="343.56" y1="590.00" x2="343.56" y2="407.10" stroke="#db7a21" stroke-width="2.1"/>
<line x1="360.16" y1="590.00" x2="360.16" y2="434.80" stroke="#db7a21" stroke-width="2.1"/>
<path d="M326.96,531.50 L326.96,525.30 M326.96,531.50 L332.86,529.58 M326.96,531.50 L330.60,536.52 M326.96,531.50 L323.32,536.52 M326.96,531.50 L321.06,529.58 " stroke="#000" stroke-width="3.1" fill="none" stroke-linecap="butt"/>
<text x="344.4" y="383.0" font-size="17.5" font-family="'Liberation Sans', sans-serif" font-weight="normal" text-anchor="middle" fill="#000" textLength="10.7" lengthAdjust="spacingAndGlyphs">5</text>
<path d="M329.16,693.3 V685.4 H359.86 V693.3" fill="none" stroke="#000" stroke-width="2.0"/>
<path d="M380.70,575.10 L380.70,575.10 L381.70,575.11 L382.70,577.48 L383.70,577.39 L384.70,579.13 L385.70,579.57 L386.70,579.58 L387.70,580.73 L388.70,582.21 L389.70,582.97 L390.70,583.94 L391.70,584.70 L392.70,584.46 L393.70,586.08 L394.70,585.56 L395.70,587.79 L396.70,587.49 L397.70,587.54 L398.70,587.88 L399.70,588.22 L400.70,587.24 L401.70,587.10 L402.70,585.59 L403.70,587.01 L404.70,587.70 L405.70,586.59 L406.70,586.89 L407.70,585.04 L408.70,585.73 L409.70,586.24 L410.70,585.39 L411.70,585.06 L412.70,584.83 L413.70,584.75 L414.70,583.02 L415.70,582.19 L416.70,580.84 L418.20,580.30 L418.20,655.00 L416.70,657.36 L415.70,655.26 L414.70,656.53 L413.70,656.83 L412.70,657.54 L411.70,655.89 L410.70,657.49 L409.70,655.38 L408.70,655.85 L407.70,657.89 L406.70,656.46 L405.70,657.44 L404.70,656.41 L403.70,657.12 L402.70,657.66 L401.70,656.84 L400.70,656.22 L399.70,655.21 L398.70,655.05 L397.70,651.96 L396.70,649.95 L395.70,647.35 L394.70,646.27 L393.70,644.97 L392.70,646.47 L391.70,647.18 L390.70,645.79 L389.70,644.53 L388.70,645.00 L387.70,645.97 L386.70,646.15 L385.70,645.27 L384.70,645.24 L383.70,645.91 L382.70,644.41 L381.70,643.77 L380.70,643.05Z" fill="#db7a21" stroke="#db7a21" stroke-width="1.0" stroke-linejoin="round"/>
<path d="M381.60,641.18 V667.30 M384.04,641.51 V646.27 M386.49,641.84 V653.34 M388.44,642.10 V648.55 M390.57,642.39 V667.30 M392.91,642.70 V649.57 M394.85,642.97 V667.30 M396.27,645.33 V666.30 M398.08,648.97 V656.30 M399.80,652.40 V667.30 M401.21,653.00 V657.50 M403.44,653.00 V662.40 M405.90,653.00 V667.30 M407.53,653.00 V659.33 M410.08,653.00 V663.72 M412.30,653.00 V667.30 M414.85,653.00 V667.30 M417.25,653.00 V657.59" stroke="#db7a21" stroke-width="2.0" stroke-linecap="round" fill="none"/>
<line x1="383.00" y1="580.00" x2="383.00" y2="530.70" stroke="#db7a21" stroke-width="2.1"/>
<line x1="399.50" y1="590.00" x2="399.50" y2="409.50" stroke="#db7a21" stroke-width="2.1"/>
<line x1="416.10" y1="590.00" x2="416.10" y2="438.90" stroke="#db7a21" stroke-width="2.1"/>
<path d="M382.90,521.00 L382.90,514.80 M382.90,521.00 L388.80,519.08 M382.90,521.00 L386.54,526.02 M382.90,521.00 L379.26,526.02 M382.90,521.00 L377.00,519.08 " stroke="#000" stroke-width="3.1" fill="none" stroke-linecap="butt"/>
<text x="400.3" y="383.0" font-size="17.5" font-family="'Liberation Sans', sans-serif" font-weight="normal" text-anchor="middle" fill="#000" textLength="10.7" lengthAdjust="spacingAndGlyphs">8</text>
<path d="M385.10,693.3 V685.4 H415.80 V693.3" fill="none" stroke="#000" stroke-width="2.0"/>
<text x="108.3" y="404.2" font-size="22" font-family="'Liberation Sans', sans-serif" font-weight="bold" text-anchor="start" fill="#000" textLength="21.5" lengthAdjust="spacingAndGlyphs">F1</text>
<text x="124.6" y="432.2" font-size="22" font-family="'Liberation Sans', sans-serif" font-weight="bold" text-anchor="start" fill="#000" textLength="23.5" lengthAdjust="spacingAndGlyphs">F2</text>
<text x="105.6" y="712.0" font-size="16.5" font-family="'Liberation Sans', sans-serif" font-weight="normal" text-anchor="middle" fill="#000" textLength="10.1" lengthAdjust="spacingAndGlyphs">4</text>
<text x="136.1" y="712.0" font-size="16.5" font-family="'Liberation Sans', sans-serif" font-weight="normal" text-anchor="middle" fill="#000" textLength="10.1" lengthAdjust="spacingAndGlyphs">6</text>
<text x="120.5" y="736.6" font-size="18.0" font-family="'Liberation Sans', sans-serif" font-weight="normal" text-anchor="middle" fill="#000" textLength="139.1" lengthAdjust="spacingAndGlyphs">frequency [kHz]</text>
<text x="425.0" y="378.9" font-size="24" font-family="'Liberation Sans', sans-serif" font-weight="bold" text-anchor="start" fill="#000">d</text>
<line x1="498.20" y1="436.00" x2="498.20" y2="630.52" stroke="#000" stroke-width="2.0"/>
<line x1="490.00" y1="436.90" x2="498.20" y2="436.90" stroke="#000" stroke-width="2.0"/>
<text x="482.6" y="443.1" font-size="16.5" font-family="'Liberation Sans', sans-serif" font-weight="normal" text-anchor="end" fill="#000" textLength="20.1" lengthAdjust="spacingAndGlyphs">80</text>
<line x1="490.00" y1="485.08" x2="498.20" y2="485.08" stroke="#000" stroke-width="2.0"/>
<text x="482.6" y="491.3" font-size="16.5" font-family="'Liberation Sans', sans-serif" font-weight="normal" text-anchor="end" fill="#000" textLength="20.1" lengthAdjust="spacingAndGlyphs">60</text>
<line x1="490.00" y1="533.26" x2="498.20" y2="533.26" stroke="#000" stroke-width="2.0"/>
<text x="482.6" y="539.5" font-size="16.5" font-family="'Liberation Sans', sans-serif" font-weight="normal" text-anchor="end" fill="#000" textLength="20.1" lengthAdjust="spacingAndGlyphs">40</text>
<line x1="490.00" y1="581.44" x2="498.20" y2="581.44" stroke="#000" stroke-width="2.0"/>
<text x="482.6" y="587.6" font-size="16.5" font-family="'Liberation Sans', sans-serif" font-weight="normal" text-anchor="end" fill="#000" textLength="20.1" lengthAdjust="spacingAndGlyphs">20</text>
<line x1="490.00" y1="629.62" x2="498.20" y2="629.62" stroke="#000" stroke-width="2.0"/>
<text x="482.6" y="635.8" font-size="16.5" font-family="'Liberation Sans', sans-serif" font-weight="normal" text-anchor="end" fill="#000" textLength="10.1" lengthAdjust="spacingAndGlyphs">0</text>
<text x="451.4" y="532.4" font-size="18.0" font-family="'Liberation Sans', sans-serif" font-weight="normal" text-anchor="middle" fill="#000" textLength="159.3" lengthAdjust="spacingAndGlyphs" transform="rotate(-90 451.4 532.4)">threshold [dB SPL]</text>
<line x1="524.10" y1="685.40" x2="667.65" y2="685.40" stroke="#000" stroke-width="2.0"/>
<line x1="525.00" y1="685.40" x2="525.00" y2="693.40" stroke="#000" stroke-width="2.0"/>
<text x="525.0" y="713.0" font-size="16.5" font-family="'Liberation Sans', sans-serif" font-weight="normal" text-anchor="middle" fill="#000" textLength="25.1" lengthAdjust="spacingAndGlyphs">2.4</text>
<line x1="553.35" y1="685.40" x2="553.35" y2="693.40" stroke="#000" stroke-width="2.0"/>
<text x="553.4" y="713.0" font-size="16.5" font-family="'Liberation Sans', sans-serif" font-weight="normal" text-anchor="middle" fill="#000" textLength="25.1" lengthAdjust="spacingAndGlyphs">3.5</text>
<line x1="581.70" y1="685.40" x2="581.70" y2="693.40" stroke="#000" stroke-width="2.0"/>
<text x="581.7" y="713.0" font-size="16.5" font-family="'Liberation Sans', sans-serif" font-weight="normal" text-anchor="middle" fill="#000" textLength="25.1" lengthAdjust="spacingAndGlyphs">4.9</text>
<line x1="610.05" y1="685.40" x2="610.05" y2="693.40" stroke="#000" stroke-width="2.0"/>
<text x="610.0" y="713.0" font-size="16.5" font-family="'Liberation Sans', sans-serif" font-weight="normal" text-anchor="middle" fill="#000" textLength="25.1" lengthAdjust="spacingAndGlyphs">7.0</text>
<line x1="638.40" y1="685.40" x2="638.40" y2="693.40" stroke="#000" stroke-width="2.0"/>
<text x="638.4" y="713.0" font-size="16.5" font-family="'Liberation Sans', sans-serif" font-weight="normal" text-anchor="middle" fill="#000" textLength="25.1" lengthAdjust="spacingAndGlyphs">9.9</text>
<line x1="666.75" y1="685.40" x2="666.75" y2="693.40" stroke="#000" stroke-width="2.0"/>
<text x="666.8" y="713.0" font-size="16.5" font-family="'Liberation Sans', sans-serif" font-weight="normal" text-anchor="middle" fill="#000" textLength="35.2" lengthAdjust="spacingAndGlyphs">13.9</text>
<text x="597.5" y="736.6" font-size="18.0" font-family="'Liberation Sans', sans-serif" font-weight="normal" text-anchor="middle" fill="#000" textLength="161.8" lengthAdjust="spacingAndGlyphs">f1 frequency [kHz]</text>
<polyline points="525.70,618.90 554.00,596.50 581.00,647.20 610.70,632.40 640.40,645.00 666.90,654.50" fill="none" stroke="#e0a55a" stroke-width="2.2" stroke-opacity="1" stroke-linejoin="round" stroke-linecap="round" stroke-dasharray="8,5" stroke-linecap="butt" stroke-linejoin="miter"/>
<polyline points="525.70,586.50 554.00,589.20 581.00,636.40 610.70,617.30 640.40,614.00 666.90,616.20" fill="none" stroke="#505050" stroke-width="2.2" stroke-opacity="1" stroke-linejoin="round" stroke-linecap="round" stroke-dasharray="8,5" stroke-linecap="butt" stroke-linejoin="miter"/>
<line x1="525.50" y1="429.00" x2="525.50" y2="434.00" stroke="#778899" stroke-width="2.2"/>
<line x1="520.50" y1="433.90" x2="530.50" y2="433.90" stroke="#778899" stroke-width="2.2"/>
<circle cx="525.30" cy="429.20" r="5.0" fill="#778899"/>
<circle cx="525.50" cy="448.94" r="5.0" fill="#778899"/>
<circle cx="523.50" cy="436.90" r="5.0" fill="#000"/>
<circle cx="524.60" cy="424.85" r="5.0" fill="#000"/>
<circle cx="525.80" cy="424.85" r="5.0" fill="#000"/>
<circle cx="523.80" cy="448.94" r="5.0" fill="#db7a21"/>
<circle cx="551.50" cy="448.94" r="5.0" fill="#000"/>
<circle cx="554.50" cy="448.94" r="5.0" fill="#db7a21"/>
<line x1="581.60" y1="438.90" x2="581.60" y2="506.90" stroke="#778899" stroke-width="2.2"/>
<line x1="576.20" y1="438.90" x2="587.00" y2="438.90" stroke="#778899" stroke-width="2.2"/>
<line x1="576.20" y1="506.90" x2="587.00" y2="506.90" stroke="#778899" stroke-width="2.2"/>
<line x1="581.60" y1="456.10" x2="581.60" y2="502.00" stroke="#778899" stroke-width="2.2"/>
<line x1="576.20" y1="456.10" x2="587.00" y2="456.10" stroke="#778899" stroke-width="2.2"/>
<line x1="576.20" y1="502.00" x2="587.00" y2="502.00" stroke="#778899" stroke-width="2.2"/>
<circle cx="581.60" cy="472.70" r="5.0" fill="#778899"/>
<circle cx="581.60" cy="479.20" r="5.0" fill="#778899"/>
<circle cx="582.50" cy="448.94" r="5.0" fill="#db7a21"/>
<circle cx="580.80" cy="448.94" r="5.0" fill="#000"/>
<circle cx="583.40" cy="473.03" r="5.0" fill="#000"/>
<circle cx="579.90" cy="497.12" r="5.0" fill="#000"/>
<circle cx="582.50" cy="497.12" r="5.0" fill="#db7a21"/>
<line x1="610.20" y1="410.00" x2="610.20" y2="511.80" stroke="#778899" stroke-width="2.2"/>
<line x1="604.80" y1="410.00" x2="615.60" y2="410.00" stroke="#778899" stroke-width="2.2"/>
<line x1="604.80" y1="511.80" x2="615.60" y2="511.80" stroke="#778899" stroke-width="2.2"/>
<line x1="610.20" y1="438.90" x2="610.20" y2="506.90" stroke="#778899" stroke-width="2.2"/>
<line x1="604.80" y1="438.90" x2="615.60" y2="438.90" stroke="#778899" stroke-width="2.2"/>
<line x1="604.80" y1="506.90" x2="615.60" y2="506.90" stroke="#778899" stroke-width="2.2"/>
<circle cx="610.20" cy="461.00" r="5.0" fill="#778899"/>
<circle cx="608.00" cy="473.03" r="5.0" fill="#778899"/>
<circle cx="610.00" cy="424.85" r="5.0" fill="#db7a21"/>
<circle cx="607.90" cy="424.85" r="5.0" fill="#000"/>
<circle cx="610.50" cy="473.03" r="5.0" fill="#000"/>
<circle cx="609.70" cy="497.12" r="5.0" fill="#db7a21"/>
<line x1="638.60" y1="456.10" x2="638.60" y2="501.60" stroke="#778899" stroke-width="2.2"/>
<line x1="633.20" y1="456.10" x2="644.00" y2="456.10" stroke="#778899" stroke-width="2.2"/>
<line x1="633.20" y1="501.60" x2="644.00" y2="501.60" stroke="#778899" stroke-width="2.2"/>
<circle cx="638.60" cy="479.20" r="5.0" fill="#778899"/>
<circle cx="637.50" cy="521.21" r="5.0" fill="#778899"/>
<circle cx="638.90" cy="448.94" r="5.0" fill="#000"/>
<circle cx="636.80" cy="473.03" r="5.0" fill="#000"/>
<circle cx="637.20" cy="497.12" r="5.0" fill="#000"/>
<circle cx="638.70" cy="521.21" r="5.0" fill="#db7a21"/>
<line x1="666.60" y1="497.00" x2="666.60" y2="521.00" stroke="#778899" stroke-width="2.2"/>
<circle cx="666.60" cy="509.10" r="5.0" fill="#778899"/>
<circle cx="669.50" cy="497.12" r="5.0" fill="#000"/>
<circle cx="667.80" cy="497.12" r="5.0" fill="#db7a21"/>
<circle cx="663.90" cy="497.12" r="5.0" fill="#000"/>
<circle cx="666.60" cy="521.21" r="5.0" fill="#000"/>
</svg></body></html>
